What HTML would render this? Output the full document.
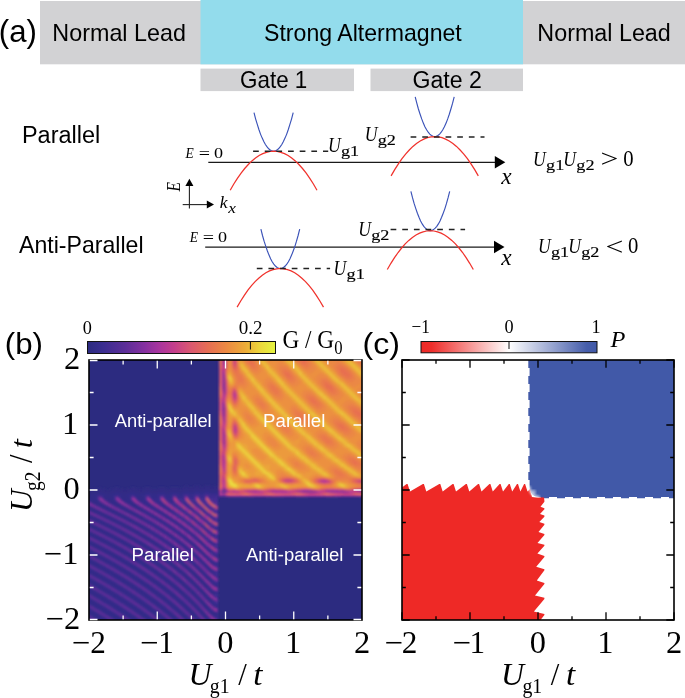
<!DOCTYPE html>
<html lang="en"><head><meta charset="utf-8"><title>Figure</title>
<style>html,body{margin:0;padding:0;background:#fff;overflow:hidden;}svg{display:block;position:absolute;left:0;top:0;}text{font-family:"Liberation Sans", Arial, sans-serif;fill:#000;}.s{font-family:"Liberation Serif", "Times New Roman", serif;}.i{font-style:italic;}.n{font-style:normal;}</style></head><body>
<svg width="685" height="698" viewBox="0 0 685 698">
<defs>
<linearGradient id="cbB" x1="0" x2="1" y1="0" y2="0"><stop offset="0" stop-color="#2C2B80"/><stop offset="0.08" stop-color="#3A2D90"/><stop offset="0.2" stop-color="#5C2E98"/><stop offset="0.3" stop-color="#8430A0"/><stop offset="0.38" stop-color="#A8359E"/><stop offset="0.46" stop-color="#C43E8C"/><stop offset="0.55" stop-color="#DA5870"/><stop offset="0.64" stop-color="#E66E54"/><stop offset="0.74" stop-color="#EC8A42"/><stop offset="0.84" stop-color="#ECAC38"/><stop offset="0.92" stop-color="#ECD83C"/><stop offset="1" stop-color="#E4F440"/></linearGradient>
<linearGradient id="cbC" x1="0" x2="1" y1="0" y2="0"><stop offset="0" stop-color="#EE2A27"/><stop offset="0.06" stop-color="#EE2E2B"/><stop offset="0.5" stop-color="#FFFFFF"/><stop offset="0.94" stop-color="#465EAB"/><stop offset="1" stop-color="#4159A8"/></linearGradient>
<filter id="bl" x="-5%" y="-5%" width="110%" height="110%"><feGaussianBlur stdDeviation="0.8"/></filter>
<clipPath id="clipB"><rect x="89" y="360" width="273" height="260"/></clipPath>
</defs>
<rect width="685" height="698" fill="#fff"/>
<rect x="40" y="1" width="645" height="63.3" fill="#D2D2D4"/>
<rect x="200.5" y="0" width="322.5" height="64.3" fill="#93DCEC"/>
<rect x="200.5" y="68.6" width="153.5" height="22.5" fill="#D2D2D4"/>
<rect x="370.5" y="68.6" width="152.5" height="22.5" fill="#D2D2D4"/>
<text font-size="30.5" transform="translate(-1.17091,41.6) scale(1.02235,1)">(a)</text>
<text font-size="23.2" transform="translate(52.3319,40.8) scale(1.00652,1)">Normal Lead</text>
<text font-size="23.2" transform="translate(264.045,40.8) scale(0.995943,1)">Strong Altermagnet</text>
<text font-size="23.2" transform="translate(537.335,40.8) scale(1.00497,1)">Normal Lead</text>
<text font-size="23" transform="translate(240.079,87.9) scale(0.974513,1)">Gate 1</text>
<text font-size="23" transform="translate(412.445,87.9) scale(1.0045,1)">Gate 2</text>
<text font-size="23.2" transform="translate(21.9216,142.5) scale(1.01205,1)">Parallel</text>
<text font-size="23.2" transform="translate(19,253.1) scale(0.996312,1)">Anti-Parallel</text>
<line x1="208.3" y1="162.3" x2="497.3" y2="162.3" stroke="#1a1a1a" stroke-width="1.25"/><polygon points="505.3,162.3 494.8,156 494.8,168.6" fill="#000"/>
<polyline points="254.0,112.6 255.6,118.8 257.3,124.4 258.9,129.5 260.5,134.1 262.2,138.1 263.8,141.6 265.4,144.5 267.1,146.9 268.7,148.8 270.3,150.1 272.0,150.9 273.6,151.2 275.2,150.9 276.9,150.1 278.5,148.8 280.1,146.9 281.8,144.5 283.4,141.6 285.0,138.1 286.7,134.1 288.3,129.5 289.9,124.4 291.6,118.8 293.2,112.6" fill="none" stroke="#3A52B8" stroke-width="1.15"/>
<polyline points="230.2,190.2 233.8,184.0 237.4,178.3 241.1,173.1 244.7,168.5 248.3,164.5 251.9,160.9 255.5,158.0 259.1,155.5 262.8,153.6 266.4,152.3 270.0,151.5 273.6,151.2 277.2,151.5 280.8,152.3 284.5,153.6 288.1,155.5 291.7,158.0 295.3,160.9 298.9,164.5 302.5,168.5 306.2,173.1 309.8,178.3 313.4,184.0 317.0,190.2" fill="none" stroke="#F0322C" stroke-width="1.25"/>
<line x1="253.1" y1="151.3" x2="328.2" y2="151.3" stroke="#222" stroke-width="1.5" stroke-dasharray="5.7,5.95"/>
<polyline points="415.2,96.9 416.8,103.2 418.4,109.0 420.1,114.2 421.7,118.9 423.3,123.1 424.9,126.7 426.6,129.7 428.2,132.2 429.8,134.1 431.4,135.5 433.1,136.3 434.7,136.6 436.3,136.3 437.9,135.5 439.6,134.1 441.2,132.2 442.8,129.7 444.4,126.7 446.1,123.1 447.7,118.9 449.3,114.2 450.9,109.0 452.6,103.2 454.2,96.9" fill="none" stroke="#3A52B8" stroke-width="1.15"/>
<polyline points="391.1,175.9 394.7,169.7 398.4,163.9 402.0,158.7 405.6,154.1 409.3,150.0 412.9,146.4 416.5,143.4 420.2,141.0 423.8,139.1 427.4,137.7 431.1,136.9 434.7,136.6 438.3,136.9 442.0,137.7 445.6,139.1 449.2,141.0 452.9,143.4 456.5,146.4 460.1,150.0 463.8,154.1 467.4,158.7 471.0,163.9 474.7,169.7 478.3,175.9" fill="none" stroke="#F0322C" stroke-width="1.25"/>
<line x1="410.6" y1="136.9" x2="484.5" y2="136.9" stroke="#222" stroke-width="1.5" stroke-dasharray="5.7,5.95"/>
<text class="s i" font-size="15" transform="translate(185.535,157.8) scale(0.9,1)">E</text><text class="s" font-size="17" transform="translate(198.7,158.7) scale(1.17647,1)">=</text><text class="s" font-size="15.5" transform="translate(213.876,157.8) scale(1.16743,1)">0</text>
<text class="s i" font-size="20.5" transform="translate(327.909,152.3) scale(0.862496,1)">U</text><text stroke="#000" stroke-width="0.14" class="s" font-size="14.8" transform="translate(340.971,156.3) scale(1.23123,1)">g1</text>
<text class="s i" font-size="20.5" transform="translate(364.709,140.5) scale(0.862496,1)">U</text><text stroke="#000" stroke-width="0.14" class="s" font-size="14.8" transform="translate(377.771,144.5) scale(1.23123,1)">g2</text>
<text class="s i" font-size="22.6" transform="translate(501.233,184.2) scale(1.03245,1)">x</text>
<text class="s i" font-size="20.5" transform="translate(533.009,165.7) scale(0.862496,1)">U</text><text stroke="#000" stroke-width="0.14" class="s" font-size="14.8" transform="translate(546.071,169.7) scale(1.23123,1)">g1</text><text class="s i" font-size="20.5" transform="translate(563.309,165.7) scale(0.862496,1)">U</text><text stroke="#000" stroke-width="0.14" class="s" font-size="14.8" transform="translate(576.371,169.7) scale(1.23123,1)">g2</text><text class="s" font-size="25.5" transform="translate(600.515,167.3) scale(1.24322,1)">&gt;</text><text class="s" font-size="22.4" transform="translate(623.171,165.7) scale(0.924745,1)">0</text>
<line x1="189.4" y1="208.5" x2="189.4" y2="185" stroke="#222" stroke-width="1.1"/><polygon points="189.4,178.8 185.4,186 193.4,186" fill="#000"/>
<line x1="182.7" y1="204.6" x2="207" y2="204.6" stroke="#222" stroke-width="1.1"/><polygon points="214,204.6 206.8,200.6 206.8,208.6" fill="#000"/>
<text class="s i" font-size="15.5" transform="translate(180.4,191.4) scale(1.18,1) rotate(-90)">E</text>
<text class="s i" font-size="17" transform="translate(219.67,208.4) scale(1.03967,1)">k</text><text class="s i" font-size="15" transform="translate(228.173,212.6) scale(1.15556,1)">x</text>
<line x1="205.2" y1="247.05" x2="496.5" y2="247.05" stroke="#1a1a1a" stroke-width="1.25"/><polygon points="504.5,247.05 494,240.75 494,253.35" fill="#000"/>
<polyline points="260.9,229.2 262.5,235.5 264.1,241.2 265.8,246.4 267.4,251.0 269.0,255.1 270.6,258.7 272.2,261.7 273.8,264.1 275.4,266.0 277.1,267.4 278.7,268.2 280.3,268.5 281.9,268.2 283.5,267.4 285.2,266.0 286.8,264.1 288.4,261.7 290.0,258.7 291.6,255.1 293.2,251.0 294.9,246.4 296.5,241.2 298.1,235.5 299.7,229.2" fill="none" stroke="#3A52B8" stroke-width="1.15"/>
<polyline points="237.1,307.1 240.7,301.0 244.3,295.3 247.9,290.2 251.5,285.7 255.1,281.6 258.7,278.2 262.3,275.2 265.9,272.8 269.5,270.9 273.1,269.6 276.7,268.8 280.3,268.5 283.9,268.8 287.5,269.6 291.1,270.9 294.7,272.8 298.3,275.2 301.9,278.2 305.5,281.6 309.1,285.7 312.7,290.2 316.3,295.3 319.9,301.0 323.5,307.1" fill="none" stroke="#F0322C" stroke-width="1.25"/>
<line x1="256.8" y1="268.6" x2="330.1" y2="268.6" stroke="#222" stroke-width="1.5" stroke-dasharray="5.7,5.95"/>
<polyline points="410.9,191.4 412.5,197.7 414.1,203.4 415.8,208.6 417.4,213.2 419.0,217.3 420.6,220.9 422.2,223.9 423.8,226.3 425.4,228.2 427.1,229.6 428.7,230.4 430.3,230.7 431.9,230.4 433.5,229.6 435.2,228.2 436.8,226.3 438.4,223.9 440.0,220.9 441.6,217.3 443.2,213.2 444.9,208.6 446.5,203.4 448.1,197.7 449.7,191.4" fill="none" stroke="#3A52B8" stroke-width="1.15"/>
<polyline points="387.3,269.5 390.9,263.3 394.5,257.7 398.1,252.5 401.6,248.0 405.2,243.9 408.8,240.4 412.4,237.4 416.0,235.0 419.6,233.1 423.1,231.8 426.7,231.0 430.3,230.7 433.9,231.0 437.5,231.8 441.1,233.1 444.6,235.0 448.2,237.4 451.8,240.4 455.4,243.9 459.0,248.0 462.6,252.5 466.1,257.7 469.7,263.3 473.3,269.5" fill="none" stroke="#F0322C" stroke-width="1.25"/>
<line x1="390.6" y1="229.4" x2="465.1" y2="229.4" stroke="#222" stroke-width="1.5" stroke-dasharray="5.7,5.95"/>
<text class="s i" font-size="15" transform="translate(189.635,242.4) scale(0.9,1)">E</text><text class="s" font-size="17" transform="translate(202.8,243.3) scale(1.17647,1)">=</text><text class="s" font-size="15.5" transform="translate(217.976,242.4) scale(1.16743,1)">0</text>
<text class="s i" font-size="20.5" transform="translate(333.509,274.9) scale(0.862496,1)">U</text><text stroke="#000" stroke-width="0.14" class="s" font-size="14.8" transform="translate(346.571,278.9) scale(1.23123,1)">g1</text>
<text class="s i" font-size="20.5" transform="translate(358.209,235.5) scale(0.862496,1)">U</text><text stroke="#000" stroke-width="0.14" class="s" font-size="14.8" transform="translate(371.271,239.5) scale(1.23123,1)">g2</text>
<text class="s i" font-size="22.6" transform="translate(501.233,265.1) scale(1.03245,1)">x</text>
<text class="s i" font-size="20.5" transform="translate(537.909,253.2) scale(0.862496,1)">U</text><text stroke="#000" stroke-width="0.14" class="s" font-size="14.8" transform="translate(550.971,257.2) scale(1.23123,1)">g1</text><text class="s i" font-size="20.5" transform="translate(568.209,253.2) scale(0.862496,1)">U</text><text stroke="#000" stroke-width="0.14" class="s" font-size="14.8" transform="translate(581.271,257.2) scale(1.23123,1)">g2</text><text class="s" font-size="25.5" transform="translate(605.415,254.8) scale(1.24322,1)">&lt;</text><text class="s" font-size="22.4" transform="translate(628.071,253.2) scale(0.924745,1)">0</text>
<text font-size="29.5" transform="translate(4.82364,353.7) scale(1.06009,1)">(b)</text>
<rect x="87.5" y="341.5" width="188" height="12" fill="url(#cbB)" stroke="#111" stroke-width="1"/>
<line x1="250.4" y1="342" x2="250.4" y2="349.5" stroke="#111" stroke-width="1"/>
<text class="s" font-size="18.8" transform="translate(82.641,334) scale(0.97,1)">0</text>
<text class="s" font-size="18.8" transform="translate(238.838,334) scale(1.01295,1)">0.2</text>
<text class="s" font-size="25.7" transform="translate(282.47,348.2) scale(0.904895,1)">G / G</text><text class="s" font-size="18.2" transform="translate(334.133,354) scale(0.915751,1)">0</text>
<rect x="89" y="360" width="273" height="260" fill="#2C2B80"/>
<rect x="220.04" y="360" width="141.96" height="135.2" fill="#EA8444"/>
<rect x="89" y="497.8" width="128.31" height="122.2" fill="#3C2D92"/>
<g clip-path="url(#clipB)"><g filter="url(#bl)" stroke-width="1.8" fill="none">
<path d="M185 486.75h3M194 486.75h6M204.5 486.75h6M213.5 486.75h3M99.5 488.25h1.5M114.5 488.25h4.5M131 488.25h4.5M144.5 488.25h6M158 488.25h7.5M170 488.25h9M182 488.25h36M93.5 489.75h12M110 489.75h13.5M126.5 489.75h13.5M141.5 489.75h64.5M207.5 489.75h10.5M89 491.25h96M188 491.25h6M200 491.25h3M210.5 491.25h3M216.5 491.25h3M89 492.75h9M102.5 492.75h12M119 492.75h10.5M135.5 492.75h9M150.5 492.75h7.5M165.5 492.75h4.5M179 492.75h3M218 492.75h1.5M89 494.25h3M107 494.25h3M123.5 494.25h1.5M218 494.25h1.5M218 495.75h1.5M89 497.25h7.5M104 497.25h9M120.5 497.25h9M137 497.25h7.5M216.5 606.75h1.5" stroke="#302C84"/>
<path d="M218 360.75h1.5M218 362.25h1.5M218 363.75h1.5M218 365.25h1.5M218 366.75h1.5M218 368.25h1.5M218 369.75h1.5M218 371.25h1.5M218 372.75h1.5M218 374.25h1.5M218 375.75h1.5M218 377.25h1.5M218 378.75h1.5M218 380.25h1.5M218 381.75h1.5M218 383.25h1.5M218 384.75h1.5M218 386.25h1.5M218 387.75h1.5M218 389.25h1.5M218 390.75h1.5M218 392.25h1.5M218 393.75h1.5M218 395.25h1.5M218 396.75h1.5M218 398.25h1.5M218 399.75h1.5M218 401.25h1.5M218 402.75h1.5M218 404.25h1.5M218 405.75h1.5M218 407.25h1.5M218 408.75h1.5M218 410.25h1.5M218 411.75h1.5M218 413.25h1.5M218 414.75h1.5M218 416.25h1.5M218 417.75h1.5M218 419.25h1.5M218 420.75h1.5M218 422.25h1.5M218 423.75h1.5M218 425.25h1.5M218 426.75h1.5M218 428.25h1.5M218 429.75h1.5M218 431.25h1.5M218 432.75h1.5M218 434.25h1.5M218 435.75h1.5M218 437.25h1.5M218 438.75h1.5M218 440.25h1.5M218 441.75h1.5M218 443.25h1.5M218 444.75h1.5M218 446.25h1.5M218 447.75h1.5M218 449.25h1.5M218 450.75h1.5M218 452.25h1.5M218 453.75h1.5M218 455.25h1.5M218 456.75h1.5M218 458.25h1.5M218 459.75h1.5M218 461.25h1.5M218 462.75h1.5M218 464.25h1.5M218 465.75h1.5M218 467.25h1.5M218 468.75h1.5M218 470.25h1.5M218 471.75h1.5M218 473.25h1.5M218 474.75h1.5M218 476.25h1.5M218 477.75h1.5M218 479.25h1.5M218 480.75h1.5M218 482.25h1.5M218 483.75h1.5M218 485.25h1.5M218 486.75h1.5M218 488.25h1.5M206 489.75h1.5M218 489.75h1.5M185 491.25h3M194 491.25h6M203 491.25h7.5M213.5 491.25h3M98 492.75h4.5M114.5 492.75h4.5M129.5 492.75h6M144.5 492.75h6M158 492.75h7.5M170 492.75h9M182 492.75h13.5M198.5 492.75h6M209 492.75h9M92 494.25h15M110 494.25h13.5M125 494.25h7.5M134 494.25h12M150.5 494.25h9M164 494.25h7.5M177.5 494.25h4.5M191 494.25h1.5M89 495.75h4.5M105.5 495.75h6M122 495.75h4.5M138.5 495.75h3M153.5 495.75h1.5M102.5 497.25h1.5M113 497.25h1.5M119 497.25h1.5M135.5 497.25h1.5M150.5 497.25h9M164 497.25h7.5M177.5 497.25h6M189.5 497.25h1.5M89 498.75h7.5M104 498.75h10.5M120.5 498.75h9M137 498.75h7.5M89 500.25h9M105.5 500.25h9M122 500.25h9M138.5 500.25h4.5M90.5 501.75h9M107 501.75h9M125 501.75h7.5M92 503.25h10.5M110 503.25h9M126.5 503.25h7.5M95 504.75h9M113 504.75h7.5M129.5 504.75h7.5M89 506.25h1.5M98 506.25h9M114.5 506.25h9M131 506.25h7.5M89 507.75h4.5M101 507.75h9M117.5 507.75h9M134 507.75h7.5M89 509.25h7.5M104 509.25h9M120.5 509.25h9M137 509.25h4.5M89 510.75h10.5M107 510.75h9M123.5 510.75h9M140 510.75h3M92 512.25h10.5M110 512.25h9M126.5 512.25h7.5M96.5 513.75h9M113 513.75h9M129.5 513.75h7.5M89 515.25h3M99.5 515.25h9M116 515.25h9M132.5 515.25h7.5M89 516.75h6M102.5 516.75h9M119 516.75h9M135.5 516.75h7.5M89 518.25h9M105.5 518.25h9M122 518.25h9M138.5 518.25h6M90.5 519.75h10.5M108.5 519.75h9M125 519.75h9M141.5 519.75h3M93.5 521.25h10.5M111.5 521.25h9M128 521.25h7.5M144.5 521.25h1.5M98 522.75h9M114.5 522.75h9M131 522.75h7.5M89 524.25h4.5M101 524.25h9M117.5 524.25h9M134 524.25h7.5M89 525.75h7.5M104 525.75h9M120.5 525.75h9M137 525.75h6M89 527.25h10.5M107 527.25h9M123.5 527.25h7.5M140 527.25h6M92 528.75h10.5M110 528.75h9M126.5 528.75h7.5M141.5 528.75h7.5M95 530.25h10.5M113 530.25h9M129.5 530.25h7.5M144.5 530.25h4.5M89 531.75h1.5M98 531.75h10.5M116 531.75h9M132.5 531.75h7.5M147.5 531.75h3M89 533.25h4.5M101 533.25h10.5M119 533.25h7.5M134 533.25h7.5M89 534.75h7.5M104 534.75h10.5M120.5 534.75h9M137 534.75h7.5M89 536.25h10.5M107 536.25h9M123.5 536.25h9M140 536.25h7.5M92 537.75h10.5M110 537.75h9M126.5 537.75h9M143 537.75h6M95 539.25h10.5M113 539.25h9M129.5 539.25h7.5M144.5 539.25h7.5M89 540.75h1.5M98 540.75h10.5M116 540.75h9M132.5 540.75h7.5M147.5 540.75h6M89 542.25h4.5M101 542.25h10.5M119 542.25h9M134 542.25h9M150.5 542.25h6M89 543.75h7.5M104 543.75h10.5M122 543.75h7.5M137 543.75h7.5M152 543.75h6M89 545.25h10.5M107 545.25h10.5M123.5 545.25h9M140 545.25h7.5M155 545.25h4.5M92 546.75h10.5M110 546.75h9M126.5 546.75h9M143 546.75h6M156.5 546.75h4.5M95 548.25h10.5M113 548.25h9M129.5 548.25h7.5M144.5 548.25h7.5M159.5 548.25h3M89 549.75h1.5M98 549.75h10.5M116 549.75h9M132.5 549.75h7.5M147.5 549.75h6M161 549.75h3M89 551.25h4.5M101 551.25h10.5M119 551.25h9M134 551.25h9M149 551.25h7.5M164 551.25h3M89 552.75h7.5M104 552.75h10.5M120.5 552.75h9M137 552.75h7.5M152 552.75h6M165.5 552.75h3M89 554.25h10.5M107 554.25h9M123.5 554.25h9M140 554.25h7.5M153.5 554.25h7.5M168.5 554.25h1.5M92 555.75h10.5M110 555.75h9M126.5 555.75h9M141.5 555.75h7.5M156.5 555.75h6M170 555.75h1.5M216.5 555.75h1.5M95 557.25h10.5M113 557.25h9M128 557.25h9M144.5 557.25h7.5M158 557.25h7.5M171.5 557.25h3M216.5 557.25h1.5M89 558.75h1.5M98 558.75h10.5M114.5 558.75h9M131 558.75h9M146 558.75h7.5M161 558.75h6M174.5 558.75h1.5M89 560.25h4.5M101 560.25h9M117.5 560.25h9M134 560.25h7.5M149 560.25h7.5M162.5 560.25h6M176 560.25h3M89 561.75h7.5M104 561.75h9M120.5 561.75h9M135.5 561.75h9M150.5 561.75h7.5M165.5 561.75h6M177.5 561.75h4.5M89 563.25h10.5M105.5 563.25h10.5M122 563.25h9M138.5 563.25h7.5M153.5 563.25h7.5M167 563.25h6M179 563.25h6M216.5 563.25h1.5M90.5 564.75h10.5M108.5 564.75h10.5M125 564.75h9M141.5 564.75h7.5M155 564.75h7.5M168.5 564.75h6M182 564.75h4.5M216.5 564.75h1.5M93.5 566.25h10.5M111.5 566.25h9M128 566.25h9M143 566.25h7.5M158 566.25h6M171.5 566.25h6M183.5 566.25h4.5M96.5 567.75h10.5M114.5 567.75h9M129.5 567.75h9M146 567.75h7.5M159.5 567.75h7.5M173 567.75h6M185 567.75h4.5M89 569.25h3M99.5 569.25h10.5M116 569.25h10.5M132.5 569.25h9M147.5 569.25h7.5M161 569.25h7.5M174.5 569.25h6M186.5 569.25h4.5M197 569.25h1.5M89 570.75h6M102.5 570.75h9M119 570.75h9M135.5 570.75h7.5M150.5 570.75h7.5M164 570.75h6M176 570.75h6M188 570.75h4.5M198.5 570.75h4.5M209 570.75h4.5M89 572.25h9M104 572.25h10.5M122 572.25h9M137 572.25h9M152 572.25h7.5M165.5 572.25h7.5M179 572.25h4.5M189.5 572.25h6M200 572.25h4.5M89 573.75h10.5M107 573.75h10.5M123.5 573.75h9M140 573.75h7.5M153.5 573.75h7.5M167 573.75h7.5M180.5 573.75h6M191 573.75h6M92 575.25h10.5M110 575.25h9M126.5 575.25h9M141.5 575.25h9M156.5 575.25h7.5M170 575.25h6M182 575.25h6M192.5 575.25h6M95 576.75h10.5M113 576.75h9M129.5 576.75h7.5M144.5 576.75h7.5M158 576.75h7.5M171.5 576.75h6M183.5 576.75h6M194 576.75h6M204.5 576.75h4.5M216.5 576.75h1.5M89 578.25h1.5M98 578.25h10.5M114.5 578.25h10.5M131 578.25h9M146 578.25h9M161 578.25h6M173 578.25h7.5M185 578.25h6M195.5 578.25h6M206 578.25h4.5M89 579.75h4.5M101 579.75h9M117.5 579.75h9M134 579.75h7.5M149 579.75h7.5M162.5 579.75h7.5M176 579.75h6M186.5 579.75h6M197 579.75h6M89 581.25h7.5M102.5 581.25h10.5M120.5 581.25h9M135.5 581.25h9M150.5 581.25h7.5M164 581.25h7.5M177.5 581.25h6M188 581.25h6M200 581.25h3M89 582.75h9M105.5 582.75h10.5M122 582.75h9M138.5 582.75h7.5M152 582.75h9M167 582.75h6M179 582.75h6M191 582.75h4.5M200 582.75h4.5M90.5 584.25h10.5M108.5 584.25h9M125 584.25h9M140 584.25h9M155 584.25h7.5M168.5 584.25h6M180.5 584.25h6M192.5 584.25h4.5M201.5 584.25h6M212 584.25h6M93.5 585.75h10.5M110 585.75h10.5M126.5 585.75h9M143 585.75h7.5M156.5 585.75h7.5M170 585.75h7.5M182 585.75h6M194 585.75h4.5M203 585.75h6M215 585.75h3M96.5 587.25h9M113 587.25h10.5M129.5 587.25h9M144.5 587.25h9M159.5 587.25h7.5M171.5 587.25h7.5M183.5 587.25h6M195.5 587.25h4.5M204.5 587.25h3M89 588.75h3M98 588.75h10.5M116 588.75h9M131 588.75h9M147.5 588.75h7.5M161 588.75h7.5M174.5 588.75h6M185 588.75h6M197 588.75h4.5M89 590.25h4.5M101 590.25h10.5M117.5 590.25h10.5M134 590.25h9M149 590.25h7.5M162.5 590.25h7.5M176 590.25h6M188 590.25h4.5M198.5 590.25h4.5M207.5 590.25h3M89 591.75h7.5M104 591.75h9M120.5 591.75h9M137 591.75h7.5M150.5 591.75h9M165.5 591.75h6M177.5 591.75h6M189.5 591.75h4.5M200 591.75h4.5M209 591.75h7.5M89 593.25h10.5M105.5 593.25h10.5M123.5 593.25h9M138.5 593.25h9M153.5 593.25h7.5M167 593.25h7.5M179 593.25h6M191 593.25h4.5M201.5 593.25h4.5M210.5 593.25h7.5M90.5 594.75h10.5M108.5 594.75h10.5M125 594.75h9M140 594.75h9M155 594.75h7.5M168.5 594.75h7.5M180.5 594.75h6M192.5 594.75h4.5M203 594.75h4.5M93.5 596.25h10.5M111.5 596.25h9M128 596.25h9M143 596.25h7.5M156.5 596.25h9M170 596.25h7.5M182 596.25h6M194 596.25h4.5M204.5 596.25h3M96.5 597.75h10.5M113 597.75h10.5M129.5 597.75h9M144.5 597.75h9M159.5 597.75h7.5M171.5 597.75h7.5M183.5 597.75h7.5M195.5 597.75h4.5M204.5 597.75h6M89 599.25h3M99.5 599.25h9M116 599.25h9M132.5 599.25h9M147.5 599.25h7.5M161 599.25h7.5M174.5 599.25h6M186.5 599.25h6M197 599.25h4.5M206 599.25h6M89 600.75h6M101 600.75h10.5M119 600.75h9M134 600.75h9M149 600.75h9M162.5 600.75h7.5M176 600.75h6M188 600.75h6M198.5 600.75h4.5M207.5 600.75h6M89 602.25h7.5M104 602.25h10.5M120.5 602.25h9M137 602.25h7.5M150.5 602.25h9M165.5 602.25h6M177.5 602.25h6M189.5 602.25h6M200 602.25h4.5M89 603.75h10.5M107 603.75h9M123.5 603.75h9M138.5 603.75h9M153.5 603.75h7.5M167 603.75h7.5M179 603.75h6M191 603.75h6M201.5 603.75h4.5M90.5 605.25h12M108.5 605.25h10.5M125 605.25h9M140 605.25h9M155 605.25h7.5M168.5 605.25h7.5M180.5 605.25h7.5M192.5 605.25h6M201.5 605.25h6M212 605.25h6M93.5 606.75h10.5M111.5 606.75h9M128 606.75h9M143 606.75h9M156.5 606.75h9M170 606.75h7.5M182 606.75h7.5M194 606.75h6M203 606.75h6M215 606.75h1.5M96.5 608.25h10.5M113 608.25h10.5M129.5 608.25h9M144.5 608.25h9M159.5 608.25h7.5M171.5 608.25h7.5M183.5 608.25h7.5M195.5 608.25h4.5M204.5 608.25h6M89 609.75h3M99.5 609.75h9M116 609.75h9M132.5 609.75h9M147.5 609.75h7.5M161 609.75h7.5M174.5 609.75h6M185 609.75h7.5M197 609.75h4.5M206 609.75h1.5M89 611.25h6M101 611.25h10.5M117.5 611.25h10.5M134 611.25h9M149 611.25h9M162.5 611.25h7.5M176 611.25h6M188 611.25h6M198.5 611.25h4.5M207.5 611.25h3M89 612.75h7.5M104 612.75h10.5M120.5 612.75h9M137 612.75h7.5M150.5 612.75h9M165.5 612.75h6M177.5 612.75h6M189.5 612.75h6M200 612.75h4.5M209 612.75h9M89 614.25h10.5M105.5 614.25h10.5M123.5 614.25h9M138.5 614.25h9M153.5 614.25h7.5M167 614.25h7.5M179 614.25h6M191 614.25h6M200 614.25h6M210.5 614.25h7.5M90.5 615.75h10.5M108.5 615.75h10.5M125 615.75h9M140 615.75h9M155 615.75h7.5M168.5 615.75h7.5M180.5 615.75h7.5M192.5 615.75h4.5M201.5 615.75h6M93.5 617.25h10.5M111.5 617.25h9M126.5 617.25h10.5M143 617.25h7.5M156.5 617.25h9M170 617.25h7.5M182 617.25h7.5M194 617.25h4.5M203 617.25h6M96.5 618.75h10.5M113 618.75h10.5M129.5 618.75h9M144.5 618.75h9M159.5 618.75h7.5M171.5 618.75h7.5M183.5 618.75h7.5M195.5 618.75h4.5M204.5 618.75h6M89 620.25h3M98 620.25h10.5M116 620.25h9M131 620.25h9M146 620.25h9M161 620.25h7.5M173 620.25h7.5M185 620.25h7.5M195.5 620.25h6M206 620.25h6" stroke="#332C88"/>
<path d="M195.5 492.75h3M204.5 492.75h4.5M132.5 494.25h1.5M146 494.25h4.5M159.5 494.25h4.5M171.5 494.25h6M182 494.25h3M188 494.25h3M192.5 494.25h3M198.5 494.25h6M210.5 494.25h7.5M93.5 495.75h12M111.5 495.75h4.5M117.5 495.75h4.5M126.5 495.75h4.5M134 495.75h4.5M141.5 495.75h3M150.5 495.75h3M155 495.75h3M165.5 495.75h6M179 495.75h3M191 495.75h1.5M129.5 497.25h1.5M144.5 497.25h1.5M171.5 497.25h1.5M176 497.25h1.5M188 497.25h1.5M191 497.25h3M198.5 497.25h6M96.5 498.75h1.5M129.5 498.75h1.5M144.5 498.75h1.5M152 498.75h7.5M165.5 498.75h6M114.5 500.25h1.5M143 500.25h3M152 500.25h7.5M167 500.25h6M89 501.75h1.5M99.5 501.75h1.5M116 501.75h1.5M123.5 501.75h1.5M140 501.75h7.5M153.5 501.75h7.5M168.5 501.75h4.5M134 503.25h1.5M141.5 503.25h9M156.5 503.25h6M170 503.25h1.5M104 504.75h1.5M111.5 504.75h1.5M120.5 504.75h1.5M128 504.75h1.5M143 504.75h9M158 504.75h7.5M107 506.25h1.5M123.5 506.25h1.5M138.5 506.25h1.5M146 506.25h7.5M161 506.25h6M110 507.75h1.5M141.5 507.75h1.5M149 507.75h7.5M162.5 507.75h6M113 509.25h1.5M135.5 509.25h1.5M141.5 509.25h3M150.5 509.25h9M165.5 509.25h6M116 510.75h1.5M138.5 510.75h1.5M143 510.75h4.5M153.5 510.75h7.5M167 510.75h6M119 512.25h1.5M134 512.25h1.5M141.5 512.25h9M156.5 512.25h7.5M170 512.25h4.5M95 513.75h1.5M137 513.75h1.5M144.5 513.75h7.5M158 513.75h7.5M173 513.75h1.5M98 515.25h1.5M108.5 515.25h1.5M131 515.25h1.5M140 515.25h1.5M147.5 515.25h7.5M161 515.25h7.5M174.5 515.25h1.5M101 516.75h1.5M111.5 516.75h1.5M134 516.75h1.5M149 516.75h9M164 516.75h6M104 518.25h1.5M114.5 518.25h1.5M137 518.25h1.5M144.5 518.25h1.5M152 518.25h7.5M165.5 518.25h7.5M117.5 519.75h1.5M140 519.75h1.5M144.5 519.75h4.5M155 519.75h7.5M168.5 519.75h6M120.5 521.25h1.5M135.5 521.25h1.5M143 521.25h1.5M146 521.25h6M158 521.25h7.5M171.5 521.25h6M89 522.75h1.5M96.5 522.75h1.5M129.5 522.75h1.5M138.5 522.75h1.5M146 522.75h7.5M159.5 522.75h7.5M173 522.75h6M99.5 524.25h1.5M132.5 524.25h1.5M147.5 524.25h9M162.5 524.25h7.5M176 524.25h4.5M102.5 525.75h1.5M135.5 525.75h1.5M143 525.75h1.5M150.5 525.75h7.5M164 525.75h7.5M177.5 525.75h4.5M105.5 527.25h1.5M122 527.25h1.5M131 527.25h1.5M138.5 527.25h1.5M146 527.25h1.5M153.5 527.25h7.5M167 527.25h6M180.5 527.25h4.5M108.5 528.75h1.5M125 528.75h1.5M134 528.75h1.5M149 528.75h1.5M155 528.75h9M168.5 528.75h7.5M182 528.75h4.5M216.5 528.75h1.5M111.5 530.25h1.5M128 530.25h1.5M137 530.25h1.5M143 530.25h1.5M149 530.25h3M158 530.25h7.5M171.5 530.25h6M183.5 530.25h4.5M90.5 531.75h1.5M114.5 531.75h1.5M131 531.75h1.5M146 531.75h1.5M150.5 531.75h4.5M161 531.75h7.5M173 531.75h7.5M186.5 531.75h3M93.5 533.25h1.5M117.5 533.25h1.5M126.5 533.25h1.5M141.5 533.25h1.5M149 533.25h7.5M162.5 533.25h7.5M176 533.25h6M188 533.25h3M96.5 534.75h1.5M129.5 534.75h1.5M144.5 534.75h1.5M152 534.75h7.5M165.5 534.75h7.5M177.5 534.75h6M189.5 534.75h4.5M99.5 536.25h1.5M116 536.25h1.5M138.5 536.25h1.5M153.5 536.25h7.5M167 536.25h7.5M180.5 536.25h6M191 536.25h4.5M216.5 536.25h1.5M102.5 537.75h1.5M119 537.75h1.5M141.5 537.75h1.5M149 537.75h1.5M156.5 537.75h7.5M170 537.75h6M182 537.75h6M194 537.75h3M105.5 539.25h1.5M122 539.25h1.5M128 539.25h1.5M137 539.25h1.5M152 539.25h1.5M158 539.25h7.5M171.5 539.25h7.5M183.5 539.25h6M195.5 539.25h3M90.5 540.75h1.5M114.5 540.75h1.5M131 540.75h1.5M140 540.75h1.5M146 540.75h1.5M153.5 540.75h1.5M161 540.75h7.5M174.5 540.75h6M185 540.75h6M197 540.75h4.5M93.5 542.25h1.5M117.5 542.25h1.5M149 542.25h1.5M156.5 542.25h1.5M162.5 542.25h7.5M176 542.25h6M188 542.25h4.5M198.5 542.25h4.5M209 542.25h4.5M96.5 543.75h1.5M120.5 543.75h1.5M129.5 543.75h1.5M144.5 543.75h1.5M158 543.75h1.5M165.5 543.75h7.5M177.5 543.75h7.5M189.5 543.75h6M200 543.75h4.5M216.5 543.75h1.5M99.5 545.25h1.5M132.5 545.25h1.5M138.5 545.25h1.5M153.5 545.25h1.5M159.5 545.25h3M167 545.25h7.5M180.5 545.25h6M191 545.25h6M201.5 545.25h3M102.5 546.75h1.5M119 546.75h1.5M141.5 546.75h1.5M149 546.75h1.5M161 546.75h3M170 546.75h6M182 546.75h6M192.5 546.75h6M203 546.75h3M105.5 548.25h1.5M122 548.25h1.5M128 548.25h1.5M137 548.25h1.5M152 548.25h1.5M158 548.25h1.5M162.5 548.25h3M171.5 548.25h7.5M183.5 548.25h6M194 548.25h6M204.5 548.25h4.5M216.5 548.25h1.5M90.5 549.75h1.5M114.5 549.75h1.5M131 549.75h1.5M140 549.75h1.5M146 549.75h1.5M153.5 549.75h1.5M164 549.75h4.5M173 549.75h7.5M185 549.75h6M197 549.75h4.5M206 549.75h6M93.5 551.25h1.5M117.5 551.25h1.5M156.5 551.25h1.5M162.5 551.25h1.5M167 551.25h3M176 551.25h6M188 551.25h6M198.5 551.25h4.5M207.5 551.25h6M96.5 552.75h1.5M129.5 552.75h1.5M135.5 552.75h1.5M144.5 552.75h1.5M150.5 552.75h1.5M158 552.75h1.5M168.5 552.75h4.5M177.5 552.75h6M189.5 552.75h6M200 552.75h4.5M105.5 554.25h1.5M116 554.25h1.5M138.5 554.25h1.5M167 554.25h1.5M170 554.25h4.5M179 554.25h7.5M191 554.25h6M201.5 554.25h4.5M108.5 555.75h1.5M125 555.75h1.5M149 555.75h1.5M155 555.75h1.5M162.5 555.75h1.5M168.5 555.75h1.5M171.5 555.75h4.5M182 555.75h6M192.5 555.75h6M203 555.75h4.5M213.5 555.75h3M111.5 557.25h1.5M137 557.25h1.5M143 557.25h1.5M174.5 557.25h4.5M183.5 557.25h6M194 557.25h6M204.5 557.25h4.5M215 557.25h1.5M96.5 558.75h1.5M123.5 558.75h1.5M153.5 558.75h1.5M159.5 558.75h1.5M167 558.75h1.5M173 558.75h1.5M176 558.75h4.5M185 558.75h6M195.5 558.75h6M206 558.75h4.5M99.5 560.25h1.5M110 560.25h1.5M126.5 560.25h1.5M132.5 560.25h1.5M141.5 560.25h1.5M147.5 560.25h1.5M168.5 560.25h1.5M174.5 560.25h1.5M179 560.25h3M186.5 560.25h6M197 560.25h6M207.5 560.25h1.5M102.5 561.75h1.5M119 561.75h1.5M158 561.75h1.5M164 561.75h1.5M182 561.75h1.5M188 561.75h6M198.5 561.75h6M209 561.75h4.5M131 563.25h1.5M146 563.25h1.5M152 563.25h1.5M165.5 563.25h1.5M173 563.25h1.5M189.5 563.25h6M200 563.25h6M210.5 563.25h6M101 564.75h1.5M140 564.75h1.5M174.5 564.75h1.5M180.5 564.75h1.5M186.5 564.75h1.5M192.5 564.75h6M201.5 564.75h6M212 564.75h4.5M104 566.25h1.5M110 566.25h1.5M120.5 566.25h1.5M126.5 566.25h1.5M150.5 566.25h1.5M156.5 566.25h1.5M164 566.25h1.5M170 566.25h1.5M182 566.25h1.5M188 566.25h1.5M194 566.25h6M203 566.25h6M89 567.75h1.5M113 567.75h1.5M138.5 567.75h1.5M144.5 567.75h1.5M171.5 567.75h1.5M183.5 567.75h1.5M189.5 567.75h1.5M195.5 567.75h6M204.5 567.75h6M98 569.25h1.5M155 569.25h1.5M180.5 569.25h1.5M191 569.25h1.5M198.5 569.25h4.5M206 569.25h6M101 570.75h1.5M111.5 570.75h1.5M128 570.75h1.5M134 570.75h1.5M143 570.75h1.5M149 570.75h1.5M162.5 570.75h1.5M170 570.75h1.5M182 570.75h1.5M192.5 570.75h1.5M203 570.75h1.5M207.5 570.75h1.5M213.5 570.75h1.5M120.5 572.25h1.5M177.5 572.25h1.5M183.5 572.25h1.5M204.5 572.25h1.5M209 572.25h9M99.5 573.75h1.5M132.5 573.75h1.5M138.5 573.75h1.5M147.5 573.75h1.5M161 573.75h1.5M179 573.75h1.5M201.5 573.75h6M102.5 575.25h1.5M119 575.25h1.5M155 575.25h1.5M168.5 575.25h1.5M176 575.25h1.5M203 575.25h6M111.5 576.75h1.5M128 576.75h1.5M137 576.75h1.5M143 576.75h1.5M177.5 576.75h1.5M209 576.75h1.5M215 576.75h1.5M96.5 578.25h1.5M159.5 578.25h1.5M167 578.25h1.5M210.5 578.25h1.5M99.5 579.75h1.5M110 579.75h1.5M126.5 579.75h1.5M132.5 579.75h1.5M141.5 579.75h1.5M147.5 579.75h1.5M174.5 579.75h1.5M207.5 579.75h6M119 581.25h1.5M158 581.25h1.5M176 581.25h1.5M198.5 581.25h1.5M203 581.25h1.5M209 581.25h3M98 582.75h1.5M131 582.75h1.5M137 582.75h1.5M146 582.75h1.5M165.5 582.75h1.5M173 582.75h1.5M189.5 582.75h1.5M204.5 582.75h1.5M210.5 582.75h4.5M107 584.25h1.5M117.5 584.25h1.5M123.5 584.25h1.5M167 584.25h1.5M174.5 584.25h1.5M191 584.25h1.5M92 585.75h1.5M135.5 585.75h1.5M141.5 585.75h1.5M150.5 585.75h1.5M164 585.75h1.5M188 585.75h1.5M192.5 585.75h1.5M213.5 585.75h1.5M95 587.25h1.5M105.5 587.25h1.5M158 587.25h1.5M189.5 587.25h1.5M194 587.25h1.5M207.5 587.25h3M108.5 588.75h1.5M114.5 588.75h1.5M140 588.75h1.5M146 588.75h1.5M173 588.75h1.5M191 588.75h1.5M195.5 588.75h1.5M206 588.75h6M93.5 590.25h1.5M156.5 590.25h1.5M174.5 590.25h1.5M186.5 590.25h1.5M192.5 590.25h1.5M197 590.25h1.5M210.5 590.25h3M102.5 591.75h1.5M113 591.75h1.5M129.5 591.75h1.5M135.5 591.75h1.5M144.5 591.75h1.5M164 591.75h1.5M171.5 591.75h1.5M183.5 591.75h1.5M188 591.75h1.5M194 591.75h1.5M198.5 591.75h1.5M216.5 591.75h1.5M122 593.25h1.5M152 593.25h1.5M165.5 593.25h1.5M185 593.25h1.5M189.5 593.25h1.5M195.5 593.25h1.5M200 593.25h1.5M101 594.75h1.5M134 594.75h1.5M162.5 594.75h1.5M186.5 594.75h1.5M191 594.75h1.5M197 594.75h1.5M201.5 594.75h1.5M212 594.75h1.5M110 596.25h1.5M120.5 596.25h1.5M126.5 596.25h1.5M150.5 596.25h1.5M188 596.25h1.5M192.5 596.25h1.5M198.5 596.25h1.5M203 596.25h1.5M207.5 596.25h1.5M95 597.75h1.5M138.5 597.75h1.5M158 597.75h1.5M194 597.75h1.5M200 597.75h1.5M216.5 597.75h1.5M98 599.25h1.5M108.5 599.25h1.5M125 599.25h1.5M131 599.25h1.5M146 599.25h1.5M155 599.25h1.5M173 599.25h1.5M185 599.25h1.5M195.5 599.25h1.5M201.5 599.25h1.5M117.5 600.75h1.5M170 600.75h1.5M182 600.75h1.5M186.5 600.75h1.5M197 600.75h1.5M203 600.75h1.5M213.5 600.75h1.5M96.5 602.25h1.5M102.5 602.25h1.5M129.5 602.25h1.5M135.5 602.25h1.5M144.5 602.25h1.5M164 602.25h1.5M171.5 602.25h1.5M183.5 602.25h1.5M188 602.25h1.5M198.5 602.25h1.5M209 602.25h4.5M105.5 603.75h1.5M116 603.75h1.5M122 603.75h1.5M152 603.75h1.5M185 603.75h1.5M189.5 603.75h1.5M200 603.75h1.5M210.5 603.75h4.5M134 605.25h1.5M149 605.25h1.5M162.5 605.25h1.5M191 605.25h1.5M104 606.75h1.5M110 606.75h1.5M120.5 606.75h1.5M126.5 606.75h1.5M192.5 606.75h1.5M213.5 606.75h1.5M89 608.25h1.5M95 608.25h1.5M138.5 608.25h1.5M158 608.25h1.5M194 608.25h1.5M200 608.25h1.5M216.5 608.25h1.5M98 609.75h1.5M108.5 609.75h1.5M125 609.75h1.5M131 609.75h1.5M146 609.75h1.5M155 609.75h1.5M173 609.75h1.5M180.5 609.75h1.5M195.5 609.75h1.5M201.5 609.75h1.5M207.5 609.75h4.5M170 611.25h1.5M174.5 611.25h1.5M182 611.25h1.5M186.5 611.25h1.5M197 611.25h1.5M203 611.25h1.5M210.5 611.25h3M96.5 612.75h1.5M102.5 612.75h1.5M129.5 612.75h1.5M135.5 612.75h1.5M144.5 612.75h1.5M164 612.75h1.5M171.5 612.75h1.5M183.5 612.75h1.5M188 612.75h1.5M198.5 612.75h1.5M116 614.25h1.5M122 614.25h1.5M152 614.25h1.5M165.5 614.25h1.5M185 614.25h1.5M189.5 614.25h1.5M101 615.75h1.5M134 615.75h1.5M162.5 615.75h1.5M191 615.75h1.5M197 615.75h1.5M212 615.75h6M110 617.25h1.5M120.5 617.25h1.5M141.5 617.25h1.5M150.5 617.25h1.5M192.5 617.25h1.5M198.5 617.25h1.5M95 618.75h1.5M158 618.75h1.5M194 618.75h1.5M200 618.75h1.5M216.5 618.75h1.5M108.5 620.25h1.5M114.5 620.25h1.5M125 620.25h1.5M140 620.25h1.5M201.5 620.25h1.5" stroke="#362C8C"/>
<path d="M185 494.25h3M195.5 494.25h3M204.5 494.25h1.5M207.5 494.25h3M116 495.75h1.5M131 495.75h3M144.5 495.75h6M158 495.75h7.5M171.5 495.75h1.5M176 495.75h3M182 495.75h1.5M188 495.75h3M192.5 495.75h1.5M200 495.75h3M210.5 495.75h1.5M216.5 495.75h1.5M96.5 497.25h1.5M183.5 497.25h1.5M194 497.25h1.5M209 497.25h4.5M135.5 498.75h1.5M150.5 498.75h1.5M171.5 498.75h1.5M177.5 498.75h6M189.5 498.75h4.5M98 500.25h1.5M131 500.25h1.5M137 500.25h1.5M159.5 500.25h1.5M165.5 500.25h1.5M179 500.25h6M132.5 501.75h1.5M138.5 501.75h1.5M147.5 501.75h1.5M161 501.75h1.5M167 501.75h1.5M173 501.75h1.5M180.5 501.75h6M108.5 503.25h1.5M119 503.25h1.5M125 503.25h1.5M155 503.25h1.5M162.5 503.25h1.5M168.5 503.25h1.5M171.5 503.25h4.5M182 503.25h4.5M93.5 504.75h1.5M137 504.75h1.5M171.5 504.75h6M183.5 504.75h4.5M96.5 506.25h1.5M153.5 506.25h1.5M159.5 506.25h1.5M167 506.25h1.5M173 506.25h7.5M185 506.25h4.5M99.5 507.75h1.5M126.5 507.75h1.5M132.5 507.75h1.5M147.5 507.75h1.5M168.5 507.75h1.5M174.5 507.75h7.5M188 507.75h3M102.5 509.25h1.5M129.5 509.25h1.5M144.5 509.25h1.5M164 509.25h1.5M177.5 509.25h6M189.5 509.25h3M99.5 510.75h1.5M105.5 510.75h1.5M122 510.75h1.5M173 510.75h1.5M179 510.75h6M191 510.75h1.5M102.5 512.25h1.5M108.5 512.25h1.5M125 512.25h1.5M155 512.25h1.5M168.5 512.25h1.5M174.5 512.25h1.5M182 512.25h6M105.5 513.75h1.5M111.5 513.75h1.5M122 513.75h1.5M128 513.75h1.5M152 513.75h1.5M165.5 513.75h1.5M171.5 513.75h1.5M174.5 513.75h4.5M183.5 513.75h6M216.5 513.75h1.5M114.5 515.25h1.5M125 515.25h1.5M146 515.25h1.5M176 515.25h4.5M186.5 515.25h4.5M117.5 516.75h1.5M128 516.75h1.5M143 516.75h1.5M162.5 516.75h1.5M170 516.75h1.5M176 516.75h7.5M188 516.75h6M98 518.25h1.5M120.5 518.25h1.5M159.5 518.25h1.5M179 518.25h6M189.5 518.25h6M101 519.75h1.5M107 519.75h1.5M123.5 519.75h1.5M174.5 519.75h1.5M180.5 519.75h6M192.5 519.75h4.5M216.5 519.75h1.5M104 521.25h1.5M110 521.25h1.5M126.5 521.25h1.5M156.5 521.25h1.5M170 521.25h1.5M182 521.25h7.5M194 521.25h4.5M216.5 521.25h1.5M107 522.75h1.5M113 522.75h1.5M123.5 522.75h1.5M144.5 522.75h1.5M153.5 522.75h1.5M185 522.75h6M195.5 522.75h4.5M110 524.25h1.5M116 524.25h1.5M126.5 524.25h1.5M141.5 524.25h1.5M174.5 524.25h1.5M180.5 524.25h1.5M186.5 524.25h6M197 524.25h6M113 525.75h1.5M119 525.75h1.5M158 525.75h1.5M182 525.75h1.5M188 525.75h6M200 525.75h4.5M116 527.25h1.5M173 527.25h1.5M179 527.25h1.5M185 527.25h1.5M191 527.25h6M201.5 527.25h4.5M212 527.25h6M90.5 528.75h1.5M119 528.75h1.5M140 528.75h1.5M180.5 528.75h1.5M186.5 528.75h1.5M192.5 528.75h6M203 528.75h4.5M213.5 528.75h3M93.5 530.25h1.5M177.5 530.25h1.5M188 530.25h1.5M194 530.25h6M204.5 530.25h4.5M216.5 530.25h1.5M96.5 531.75h1.5M140 531.75h1.5M159.5 531.75h1.5M185 531.75h1.5M189.5 531.75h1.5M195.5 531.75h6M206 531.75h1.5M156.5 533.25h1.5M186.5 533.25h1.5M191 533.25h3M198.5 533.25h4.5M207.5 533.25h3M135.5 534.75h1.5M150.5 534.75h1.5M164 534.75h1.5M183.5 534.75h1.5M194 534.75h1.5M200 534.75h4.5M209 534.75h9M105.5 536.25h1.5M132.5 536.25h1.5M147.5 536.25h1.5M161 536.25h1.5M179 536.25h1.5M195.5 536.25h1.5M201.5 536.25h4.5M212 536.25h4.5M108.5 537.75h1.5M125 537.75h1.5M155 537.75h1.5M168.5 537.75h1.5M176 537.75h1.5M192.5 537.75h1.5M197 537.75h1.5M203 537.75h4.5M111.5 539.25h1.5M143 539.25h1.5M165.5 539.25h1.5M194 539.25h1.5M198.5 539.25h1.5M204.5 539.25h4.5M108.5 540.75h1.5M125 540.75h1.5M173 540.75h1.5M191 540.75h1.5M195.5 540.75h1.5M206 540.75h6M111.5 542.25h1.5M170 542.25h1.5M182 542.25h1.5M186.5 542.25h1.5M192.5 542.25h1.5M207.5 542.25h1.5M135.5 543.75h1.5M150.5 543.75h1.5M209 543.75h7.5M147.5 545.25h1.5M179 545.25h1.5M204.5 545.25h3M108.5 546.75h1.5M125 546.75h1.5M155 546.75h1.5M168.5 546.75h1.5M176 546.75h1.5M206 546.75h3M111.5 548.25h1.5M143 548.25h1.5M165.5 548.25h1.5M209 548.25h1.5M108.5 549.75h1.5M125 549.75h1.5M159.5 549.75h1.5M191 549.75h1.5M195.5 549.75h1.5M170 551.25h1.5M174.5 551.25h1.5M186.5 551.25h1.5M197 551.25h1.5M102.5 552.75h1.5M164 552.75h1.5M183.5 552.75h1.5M188 552.75h1.5M198.5 552.75h1.5M209 552.75h4.5M99.5 554.25h1.5M122 554.25h1.5M132.5 554.25h1.5M161 554.25h1.5M210.5 554.25h4.5M216.5 554.25h1.5M90.5 555.75h1.5M102.5 555.75h1.5M119 555.75h1.5M140 555.75h1.5M180.5 555.75h1.5M207.5 555.75h1.5M212 555.75h1.5M93.5 557.25h1.5M152 557.25h1.5M170 557.25h1.5M209 557.25h1.5M90.5 558.75h1.5M129.5 558.75h1.5M210.5 558.75h1.5M93.5 560.25h1.5M116 560.25h1.5M161 560.25h1.5M192.5 560.25h1.5M209 560.25h4.5M113 561.75h1.5M144.5 561.75h1.5M171.5 561.75h1.5M176 561.75h1.5M194 561.75h1.5M213.5 561.75h3M137 563.25h1.5M185 563.25h1.5M195.5 563.25h1.5M107 564.75h1.5M123.5 564.75h1.5M134 564.75h1.5M149 564.75h1.5M162.5 564.75h1.5M191 564.75h1.5M141.5 566.25h1.5M192.5 566.25h1.5M215 566.25h3M95 567.75h1.5M107 567.75h1.5M123.5 567.75h1.5M158 567.75h1.5M179 567.75h1.5M194 567.75h1.5M92 569.25h1.5M131 569.25h1.5M146 569.25h1.5M168.5 569.25h1.5M173 569.25h1.5M185 569.25h1.5M212 569.25h1.5M95 570.75h1.5M117.5 570.75h1.5M114.5 572.25h1.5M150.5 572.25h1.5M159.5 572.25h1.5M210.5 573.75h4.5M216.5 573.75h1.5M108.5 575.25h1.5M125 575.25h1.5M180.5 575.25h1.5M213.5 575.25h4.5M93.5 576.75h1.5M105.5 576.75h1.5M122 576.75h1.5M152 576.75h1.5M165.5 576.75h1.5M170 576.75h1.5M90.5 578.25h1.5M129.5 578.25h1.5M140 578.25h1.5M191 578.25h1.5M93.5 579.75h1.5M116 579.75h1.5M161 579.75h1.5M192.5 579.75h1.5M113 581.25h1.5M149 581.25h1.5M171.5 581.25h1.5M194 581.25h1.5M212 581.25h3M104 582.75h1.5M177.5 582.75h1.5M185 582.75h1.5M195.5 582.75h1.5M215 582.75h3M89 584.25h1.5M101 584.25h1.5M153.5 584.25h1.5M162.5 584.25h1.5M186.5 584.25h1.5M197 584.25h1.5M120.5 585.75h1.5M198.5 585.75h1.5M111.5 587.25h1.5M128 587.25h1.5M200 587.25h1.5M216.5 587.25h1.5M125 588.75h1.5M155 588.75h1.5M159.5 588.75h1.5M201.5 588.75h1.5M99.5 590.25h1.5M132.5 590.25h1.5M147.5 590.25h1.5M170 590.25h1.5M182 590.25h1.5M203 590.25h1.5M96.5 591.75h1.5M119 591.75h1.5M176 591.75h1.5M116 593.25h1.5M137 593.25h1.5M161 593.25h1.5M107 594.75h1.5M123.5 594.75h1.5M149 594.75h1.5M213.5 594.75h4.5M92 596.25h1.5M104 596.25h1.5M141.5 596.25h1.5M215 596.25h3M89 597.75h1.5M179 597.75h1.5M114.5 599.25h1.5M168.5 599.25h1.5M180.5 599.25h1.5M212 599.25h1.5M111.5 600.75h1.5M143 600.75h1.5M174.5 600.75h1.5M119 602.25h1.5M204.5 602.25h1.5M213.5 602.25h3M99.5 603.75h1.5M137 603.75h1.5M161 603.75h1.5M165.5 603.75h1.5M215 603.75h3M141.5 606.75h1.5M179 608.25h1.5M114.5 609.75h1.5M159.5 609.75h1.5M168.5 609.75h1.5M111.5 611.25h1.5M143 611.25h1.5M147.5 611.25h1.5M213.5 611.25h1.5M119 612.75h1.5M176 612.75h1.5M204.5 612.75h1.5M137 614.25h1.5M161 614.25h1.5M107 615.75h1.5M123.5 615.75h1.5M149 615.75h1.5M153.5 615.75h1.5M167 615.75h1.5M92 617.25h1.5M104 617.25h1.5M213.5 617.25h4.5M89 618.75h1.5M128 618.75h1.5M138.5 618.75h1.5M155 620.25h1.5M159.5 620.25h1.5M180.5 620.25h1.5" stroke="#3A2D90"/>
<path d="M206 494.25h1.5M173 495.75h3M183.5 495.75h4.5M194 495.75h1.5M198.5 495.75h1.5M203 495.75h1.5M209 495.75h1.5M212 495.75h4.5M134 497.25h1.5M149 497.25h1.5M213.5 497.25h3M102.5 498.75h1.5M164 498.75h1.5M183.5 498.75h1.5M194 498.75h1.5M200 498.75h4.5M104 500.25h1.5M146 500.25h1.5M189.5 500.25h6M200 500.25h3M216.5 500.25h1.5M179 501.75h1.5M191 501.75h6M90.5 503.25h1.5M102.5 503.25h1.5M180.5 503.25h1.5M186.5 503.25h1.5M192.5 503.25h6M170 504.75h1.5M177.5 504.75h1.5M188 504.75h1.5M194 504.75h6M90.5 506.25h1.5M129.5 506.25h1.5M189.5 506.25h1.5M195.5 506.25h6M93.5 507.75h1.5M116 507.75h1.5M186.5 507.75h1.5M191 507.75h1.5M197 507.75h6M96.5 509.25h1.5M119 509.25h1.5M171.5 509.25h1.5M188 509.25h1.5M192.5 509.25h1.5M200 509.25h4.5M132.5 510.75h1.5M161 510.75h1.5M185 510.75h1.5M192.5 510.75h4.5M201.5 510.75h3M192.5 512.25h6M203 512.25h4.5M143 513.75h1.5M194 513.75h6M204.5 513.75h4.5M155 515.25h1.5M173 515.25h1.5M185 515.25h1.5M191 515.25h1.5M197 515.25h4.5M206 515.25h6M95 516.75h1.5M198.5 516.75h4.5M131 518.25h1.5M146 518.25h1.5M177.5 518.25h1.5M200 518.25h6M89 519.75h1.5M153.5 519.75h1.5M167 519.75h1.5M191 519.75h1.5M201.5 519.75h6M212 519.75h4.5M141.5 521.25h1.5M198.5 521.25h1.5M203 521.25h6M215 521.25h1.5M167 522.75h1.5M171.5 522.75h1.5M179 522.75h1.5M200 522.75h1.5M206 522.75h4.5M161 524.25h1.5M207.5 524.25h4.5M96.5 525.75h1.5M129.5 525.75h1.5M144.5 525.75h1.5M171.5 525.75h1.5M176 525.75h1.5M194 525.75h1.5M198.5 525.75h1.5M209 525.75h3M99.5 527.25h1.5M152 527.25h1.5M161 527.25h1.5M165.5 527.25h1.5M189.5 527.25h1.5M200 527.25h1.5M210.5 527.25h1.5M102.5 528.75h1.5M212 528.75h1.5M105.5 530.25h1.5M122 530.25h1.5M152 530.25h1.5M165.5 530.25h1.5M170 530.25h1.5M209 530.25h1.5M215 530.25h1.5M108.5 531.75h1.5M125 531.75h1.5M191 531.75h1.5M207.5 531.75h4.5M99.5 533.25h1.5M111.5 533.25h1.5M132.5 533.25h1.5M147.5 533.25h1.5M170 533.25h1.5M174.5 533.25h1.5M182 533.25h1.5M197 533.25h1.5M210.5 533.25h3M102.5 534.75h1.5M188 534.75h1.5M198.5 534.75h1.5M204.5 534.75h1.5M122 536.25h1.5M206 536.25h1.5M210.5 536.25h1.5M135.5 537.75h1.5M180.5 537.75h1.5M207.5 537.75h1.5M213.5 537.75h4.5M189.5 539.25h1.5M209 539.25h1.5M155 540.75h1.5M159.5 540.75h1.5M99.5 542.25h1.5M128 542.25h1.5M143 542.25h1.5M174.5 542.25h1.5M197 542.25h1.5M203 542.25h1.5M213.5 542.25h1.5M102.5 543.75h1.5M114.5 543.75h1.5M159.5 543.75h1.5M164 543.75h1.5M188 543.75h1.5M198.5 543.75h1.5M204.5 543.75h1.5M105.5 545.25h1.5M122 545.25h1.5M210.5 545.25h7.5M135.5 546.75h1.5M180.5 546.75h1.5M213.5 546.75h4.5M93.5 548.25h1.5M189.5 548.25h1.5M215 548.25h1.5M96.5 549.75h1.5M99.5 551.25h1.5M111.5 551.25h1.5M132.5 551.25h1.5M143 551.25h1.5M147.5 551.25h1.5M182 551.25h1.5M203 551.25h1.5M213.5 551.25h1.5M119 552.75h1.5M204.5 552.75h1.5M213.5 552.75h3M147.5 554.25h1.5M152 554.25h1.5M189.5 554.25h1.5M200 554.25h1.5M206 554.25h1.5M215 554.25h1.5M176 555.75h1.5M201.5 555.75h1.5M105.5 557.25h1.5M122 557.25h1.5M156.5 557.25h1.5M165.5 557.25h1.5M182 557.25h1.5M203 557.25h1.5M113 558.75h1.5M140 558.75h1.5M144.5 558.75h1.5M191 558.75h1.5M204.5 558.75h1.5M156.5 560.25h1.5M96.5 561.75h1.5M129.5 561.75h1.5M149 561.75h1.5M183.5 561.75h1.5M104 563.25h1.5M116 563.25h1.5M177.5 563.25h1.5M153.5 564.75h1.5M167 564.75h1.5M92 566.25h1.5M213.5 566.25h1.5M153.5 567.75h1.5M167 567.75h1.5M114.5 569.25h1.5M141.5 569.25h1.5M195.5 569.25h1.5M186.5 570.75h1.5M197 570.75h1.5M98 572.25h1.5M131 572.25h1.5M135.5 572.25h1.5M146 572.25h1.5M164 572.25h1.5M188 572.25h1.5M198.5 572.25h1.5M105.5 573.75h1.5M117.5 573.75h1.5M122 573.75h1.5M174.5 573.75h1.5M200 573.75h1.5M215 573.75h1.5M90.5 575.25h1.5M135.5 575.25h1.5M140 575.25h1.5M164 575.25h1.5M201.5 575.25h1.5M212 575.25h1.5M156.5 576.75h1.5M182 576.75h1.5M189.5 576.75h1.5M203 576.75h1.5M108.5 578.25h1.5M113 578.25h1.5M144.5 578.25h1.5M204.5 578.25h1.5M156.5 579.75h1.5M206 579.75h1.5M101 581.25h1.5M129.5 581.25h1.5M134 581.25h1.5M144.5 581.25h1.5M183.5 581.25h1.5M207.5 581.25h1.5M116 582.75h1.5M120.5 582.75h1.5M209 582.75h1.5M134 584.25h1.5M138.5 584.25h1.5M149 584.25h1.5M179 584.25h1.5M104 585.75h1.5M168.5 585.75h1.5M89 587.25h1.5M138.5 587.25h1.5M143 587.25h1.5M215 587.25h1.5M96.5 588.75h1.5M168.5 588.75h1.5M180.5 588.75h1.5M111.5 590.25h1.5M143 590.25h1.5M213.5 590.25h1.5M204.5 591.75h1.5M99.5 593.25h1.5M177.5 593.25h1.5M206 593.25h1.5M153.5 594.75h1.5M167 594.75h1.5M177.5 596.25h1.5M213.5 596.25h1.5M107 597.75h1.5M111.5 597.75h1.5M123.5 597.75h1.5M128 597.75h1.5M153.5 597.75h1.5M92 599.25h1.5M159.5 599.25h1.5M99.5 600.75h1.5M128 600.75h1.5M132.5 600.75h1.5M147.5 600.75h1.5M159.5 602.25h1.5M176 602.25h1.5M216.5 602.25h1.5M132.5 603.75h1.5M147.5 603.75h1.5M206 603.75h1.5M107 605.25h1.5M119 605.25h1.5M123.5 605.25h1.5M153.5 605.25h1.5M167 605.25h1.5M207.5 605.25h1.5M92 606.75h1.5M137 606.75h1.5M177.5 606.75h1.5M209 606.75h1.5M107 608.25h1.5M123.5 608.25h1.5M128 608.25h1.5M153.5 608.25h1.5M167 608.25h1.5M92 609.75h1.5M99.5 611.25h1.5M128 611.25h1.5M132.5 611.25h1.5M99.5 614.25h1.5M132.5 614.25h1.5M147.5 614.25h1.5M177.5 614.25h1.5M206 614.25h1.5M89 615.75h1.5M168.5 617.25h1.5M177.5 617.25h1.5M111.5 618.75h1.5M143 618.75h1.5M179 618.75h1.5M215 618.75h1.5M96.5 620.25h1.5M168.5 620.25h1.5M212 620.25h1.5" stroke="#402D91"/>
<path d="M195.5 495.75h3M204.5 495.75h1.5M207.5 495.75h1.5M101 497.25h1.5M216.5 497.25h1.5M188 498.75h1.5M209 498.75h6M216.5 498.75h1.5M120.5 500.25h1.5M173 500.25h1.5M177.5 500.25h1.5M203 500.25h3M210.5 500.25h3M215 500.25h1.5M105.5 501.75h1.5M201.5 501.75h4.5M216.5 501.75h1.5M140 503.25h1.5M203 503.25h4.5M152 504.75h1.5M156.5 504.75h1.5M182 504.75h1.5M204.5 504.75h4.5M113 506.25h1.5M144.5 506.25h1.5M206 506.25h4.5M156.5 507.75h1.5M161 507.75h1.5M207.5 507.75h6M183.5 509.25h1.5M194 509.25h1.5M198.5 509.25h1.5M209 509.25h3M147.5 510.75h1.5M152 510.75h1.5M204.5 510.75h1.5M90.5 512.25h1.5M135.5 512.25h1.5M140 512.25h1.5M176 512.25h1.5M180.5 512.25h1.5M213.5 512.25h4.5M93.5 513.75h1.5M189.5 513.75h1.5M209 513.75h1.5M92 515.25h1.5M159.5 515.25h1.5M195.5 515.25h1.5M203 516.75h1.5M207.5 516.75h6M210.5 518.25h3M134 519.75h1.5M138.5 519.75h1.5M162.5 519.75h1.5M186.5 519.75h1.5M197 519.75h1.5M92 521.25h1.5M192.5 521.25h1.5M213.5 521.25h1.5M90.5 522.75h1.5M95 522.75h1.5M183.5 522.75h1.5M204.5 522.75h1.5M210.5 522.75h1.5M93.5 524.25h1.5M212 524.25h1.5M183.5 525.75h1.5M212 525.75h3M132.5 527.25h1.5M137 527.25h1.5M176 528.75h1.5M201.5 528.75h1.5M207.5 528.75h1.5M156.5 530.25h1.5M182 530.25h1.5M129.5 531.75h1.5M143 533.25h1.5M114.5 534.75h1.5M119 534.75h1.5M159.5 534.75h1.5M174.5 536.25h1.5M200 536.25h1.5M90.5 537.75h1.5M140 537.75h1.5M150.5 537.75h1.5M164 537.75h1.5M89 539.25h1.5M93.5 539.25h1.5M216.5 539.25h1.5M92 540.75h1.5M96.5 540.75h1.5M180.5 540.75h1.5M201.5 540.75h1.5M95 542.25h1.5M132.5 542.25h1.5M147.5 542.25h1.5M117.5 545.25h1.5M174.5 545.25h1.5M200 545.25h1.5M90.5 546.75h1.5M140 546.75h1.5M150.5 546.75h1.5M164 546.75h1.5M188 546.75h1.5M89 548.25h1.5M170 548.25h1.5M200 548.25h1.5M155 549.75h1.5M180.5 549.75h1.5M201.5 549.75h1.5M128 551.25h1.5M114.5 552.75h1.5M159.5 552.75h1.5M176 552.75h1.5M216.5 552.75h1.5M165.5 554.25h1.5M135.5 555.75h1.5M191 555.75h1.5M110 557.25h1.5M126.5 557.25h1.5M189.5 557.25h1.5M108.5 558.75h1.5M171.5 558.75h1.5M183.5 558.75h1.5M206 560.25h1.5M101 561.75h1.5M134 561.75h1.5M207.5 561.75h1.5M216.5 561.75h1.5M99.5 563.25h1.5M120.5 563.25h1.5M161 563.25h1.5M89 564.75h1.5M119 564.75h1.5M137 566.25h1.5M177.5 566.25h1.5M128 567.75h1.5M210.5 567.75h1.5M216.5 567.75h1.5M110 569.25h1.5M158 570.75h1.5M174.5 570.75h1.5M215 570.75h1.5M102.5 572.25h1.5M173 572.25h1.5M101 573.75h1.5M189.5 573.75h1.5M150.5 575.25h1.5M188 575.25h1.5M125 578.25h1.5M171.5 578.25h1.5M183.5 578.25h1.5M216.5 578.25h1.5M170 579.75h1.5M182 579.75h1.5M96.5 581.25h1.5M162.5 581.25h1.5M215 581.25h1.5M210.5 584.25h1.5M108.5 585.75h1.5M125 585.75h1.5M155 585.75h1.5M180.5 585.75h1.5M107 587.25h1.5M179 587.25h1.5M92 588.75h1.5M116 590.25h1.5M128 590.25h1.5M161 590.25h1.5M149 591.75h1.5M104 593.25h1.5M132.5 593.25h1.5M147.5 593.25h1.5M89 594.75h1.5M119 594.75h1.5M179 594.75h1.5M207.5 594.75h1.5M137 596.25h1.5M168.5 596.25h1.5M209 596.25h1.5M143 597.75h1.5M167 597.75h1.5M210.5 597.75h1.5M215 597.75h1.5M96.5 599.25h1.5M141.5 599.25h1.5M95 600.75h1.5M114.5 602.25h1.5M104 603.75h1.5M177.5 603.75h1.5M89 605.25h1.5M102.5 605.25h1.5M176 605.25h1.5M168.5 606.75h1.5M111.5 608.25h1.5M143 608.25h1.5M210.5 608.25h1.5M215 608.25h1.5M96.5 609.75h1.5M141.5 609.75h1.5M212 609.75h1.5M95 611.25h1.5M116 611.25h1.5M161 611.25h1.5M114.5 612.75h1.5M159.5 612.75h1.5M104 614.25h1.5M119 615.75h1.5M138.5 615.75h1.5M176 615.75h1.5M179 615.75h1.5M207.5 615.75h1.5M137 617.25h1.5M155 617.25h1.5M107 618.75h1.5M123.5 618.75h1.5M153.5 618.75h1.5M167 618.75h1.5M210.5 618.75h1.5M92 620.25h1.5M129.5 620.25h1.5" stroke="#452D93"/>
<path d="M206 495.75h1.5M114.5 497.25h1.5M117.5 497.25h1.5M162.5 497.25h1.5M204.5 497.25h1.5M207.5 497.25h1.5M114.5 498.75h1.5M119 498.75h1.5M198.5 498.75h1.5M215 498.75h1.5M213.5 500.25h1.5M117.5 501.75h1.5M122 501.75h1.5M174.5 501.75h1.5M206 501.75h1.5M212 501.75h4.5M176 503.25h1.5M105.5 504.75h1.5M122 504.75h1.5M126.5 504.75h1.5M165.5 504.75h1.5M216.5 504.75h1.5M140 506.25h1.5M210.5 506.25h1.5M192.5 507.75h1.5M176 509.25h1.5M212 509.25h4.5M165.5 510.75h1.5M189.5 510.75h1.5M200 510.75h1.5M210.5 510.75h3M216.5 510.75h1.5M207.5 512.25h1.5M89 513.75h1.5M215 513.75h1.5M96.5 515.25h1.5M168.5 515.25h1.5M180.5 515.25h1.5M201.5 515.25h1.5M186.5 516.75h1.5M213.5 516.75h1.5M150.5 518.25h1.5M173 518.25h1.5M209 518.25h1.5M213.5 518.25h4.5M149 519.75h1.5M179 519.75h1.5M137 521.25h1.5M177.5 521.25h1.5M158 522.75h1.5M216.5 522.75h1.5M98 524.25h1.5M156.5 524.25h1.5M192.5 524.25h1.5M206 524.25h1.5M101 525.75h1.5M134 525.75h1.5M149 525.75h1.5M215 525.75h1.5M147.5 527.25h1.5M206 527.25h1.5M135.5 528.75h1.5M191 528.75h1.5M126.5 530.25h1.5M189.5 530.25h1.5M203 530.25h1.5M113 531.75h1.5M144.5 531.75h1.5M155 531.75h1.5M116 533.25h1.5M128 533.25h1.5M161 533.25h1.5M203 533.25h1.5M213.5 533.25h1.5M117.5 536.25h1.5M152 536.25h1.5M189.5 536.25h1.5M188 537.75h1.5M212 537.75h1.5M138.5 539.25h1.5M170 539.25h1.5M200 539.25h1.5M215 539.25h1.5M168.5 540.75h1.5M98 543.75h1.5M119 543.75h1.5M131 543.75h1.5M146 543.75h1.5M101 545.25h1.5M152 545.25h1.5M189.5 545.25h1.5M120.5 546.75h1.5M198.5 546.75h1.5M201.5 546.75h1.5M212 546.75h1.5M138.5 548.25h1.5M182 548.25h1.5M92 549.75h1.5M129.5 549.75h1.5M168.5 549.75h1.5M95 551.25h1.5M116 551.25h1.5M161 551.25h1.5M117.5 554.25h1.5M137 554.25h1.5M174.5 554.25h1.5M164 555.75h1.5M213.5 557.25h1.5M125 558.75h1.5M98 560.25h1.5M111.5 560.25h1.5M170 560.25h1.5M182 560.25h1.5M162.5 561.75h1.5M132.5 563.25h1.5M206 563.25h1.5M209 563.25h1.5M102.5 564.75h1.5M138.5 564.75h1.5M179 564.75h1.5M207.5 564.75h1.5M168.5 566.25h1.5M209 566.25h1.5M111.5 567.75h1.5M126.5 569.25h1.5M159.5 569.25h1.5M99.5 570.75h1.5M113 570.75h1.5M132.5 570.75h1.5M147.5 570.75h1.5M119 572.25h1.5M195.5 572.25h1.5M152 573.75h1.5M165.5 573.75h1.5M186.5 573.75h1.5M197 573.75h1.5M120.5 575.25h1.5M191 575.25h1.5M198.5 575.25h1.5M110 576.75h1.5M126.5 576.75h1.5M200 576.75h1.5M213.5 576.75h1.5M155 578.25h1.5M201.5 578.25h1.5M98 579.75h1.5M111.5 579.75h1.5M185 579.75h1.5M203 579.75h1.5M213.5 579.75h1.5M117.5 581.25h1.5M216.5 581.25h1.5M99.5 582.75h1.5M150.5 582.75h1.5M161 582.75h1.5M177.5 585.75h1.5M212 585.75h1.5M93.5 587.25h1.5M123.5 587.25h1.5M153.5 587.25h1.5M170 587.25h1.5M182 587.25h1.5M129.5 588.75h1.5M212 588.75h1.5M95 590.25h1.5M206 590.25h1.5M114.5 591.75h1.5M134 591.75h1.5M159.5 591.75h1.5M207.5 591.75h1.5M120.5 593.25h1.5M209 593.25h1.5M102.5 594.75h1.5M138.5 594.75h1.5M176 594.75h1.5M155 596.25h1.5M110 599.25h1.5M116 600.75h1.5M161 600.75h1.5M149 602.25h1.5M120.5 603.75h1.5M174.5 603.75h1.5M138.5 605.25h1.5M179 605.25h1.5M152 606.75h1.5M155 606.75h1.5M165.5 606.75h1.5M110 609.75h1.5M134 612.75h1.5M149 612.75h1.5M207.5 612.75h1.5M120.5 614.25h1.5M209 614.25h1.5M102.5 615.75h1.5M108.5 617.25h1.5M125 617.25h1.5M180.5 617.25h1.5M209 617.25h1.5M93.5 618.75h1.5M170 618.75h1.5M182 618.75h1.5M141.5 620.25h1.5M144.5 620.25h1.5M204.5 620.25h1.5" stroke="#4B2E94"/>
<path d="M224 491.25h1.5M159.5 497.25h1.5M159.5 498.75h1.5M204.5 498.75h1.5M195.5 500.25h1.5M210.5 501.75h1.5M135.5 503.25h1.5M207.5 503.25h1.5M213.5 503.25h1.5M216.5 503.25h1.5M110 504.75h1.5M203 504.75h1.5M209 504.75h1.5M215 504.75h1.5M108.5 506.25h1.5M171.5 506.25h1.5M216.5 509.25h1.5M137 510.75h1.5M206 510.75h1.5M213.5 510.75h3M164 512.25h1.5M212 512.25h1.5M138.5 513.75h1.5M170 513.75h1.5M99.5 516.75h1.5M158 516.75h1.5M174.5 516.75h1.5M197 516.75h1.5M135.5 518.25h1.5M164 518.25h1.5M195.5 518.25h1.5M140 522.75h1.5M194 522.75h1.5M131 524.25h1.5M216.5 525.75h1.5M104 527.25h1.5M177.5 527.25h1.5M107 528.75h1.5M123.5 528.75h1.5M110 530.25h1.5M92 531.75h1.5M180.5 531.75h1.5M201.5 531.75h1.5M95 533.25h1.5M98 534.75h1.5M131 534.75h1.5M146 534.75h1.5M176 534.75h1.5M101 536.25h1.5M137 536.25h1.5M165.5 536.25h1.5M104 537.75h1.5M120.5 537.75h1.5M198.5 537.75h1.5M201.5 537.75h1.5M156.5 539.25h1.5M182 539.25h1.5M129.5 540.75h1.5M116 542.25h1.5M176 543.75h1.5M165.5 545.25h1.5M104 546.75h1.5M156.5 548.25h1.5M203 548.25h1.5M113 549.75h1.5M144.5 549.75h1.5M212 549.75h1.5M98 552.75h1.5M131 552.75h1.5M146 552.75h1.5M107 555.75h1.5M123.5 555.75h1.5M150.5 555.75h1.5M188 555.75h1.5M141.5 557.25h1.5M192.5 557.25h1.5M95 558.75h1.5M155 558.75h1.5M201.5 558.75h1.5M216.5 558.75h1.5M131 560.25h1.5M143 560.25h1.5M185 560.25h1.5M203 560.25h1.5M117.5 561.75h1.5M204.5 561.75h1.5M147.5 563.25h1.5M176 564.75h1.5M210.5 564.75h1.5M108.5 566.25h1.5M152 566.25h1.5M155 566.25h1.5M165.5 566.25h1.5M90.5 567.75h1.5M143 567.75h1.5M96.5 569.25h1.5M194 570.75h1.5M176 572.25h1.5M185 572.25h1.5M134 573.75h1.5M137 573.75h1.5M162.5 573.75h1.5M104 575.25h1.5M89 576.75h1.5M138.5 576.75h1.5M192.5 576.75h1.5M95 578.25h1.5M158 578.25h1.5M180.5 578.25h1.5M131 579.75h1.5M143 579.75h1.5M146 579.75h1.5M173 579.75h1.5M186.5 581.25h1.5M204.5 581.25h1.5M132.5 582.75h1.5M135.5 582.75h1.5M147.5 582.75h1.5M164 582.75h1.5M206 582.75h1.5M105.5 584.25h1.5M119 584.25h1.5M207.5 584.25h1.5M90.5 585.75h1.5M137 585.75h1.5M140 585.75h1.5M209 585.75h1.5M156.5 587.25h1.5M167 587.25h1.5M203 587.25h1.5M210.5 587.25h1.5M113 588.75h1.5M141.5 588.75h1.5M144.5 588.75h1.5M204.5 588.75h1.5M101 591.75h1.5M162.5 591.75h1.5M174.5 593.25h1.5M210.5 594.75h1.5M108.5 596.25h1.5M122 596.25h1.5M125 596.25h1.5M152 596.25h1.5M165.5 596.25h1.5M180.5 596.25h1.5M90.5 597.75h1.5M93.5 597.75h1.5M170 597.75h1.5M126.5 599.25h1.5M129.5 599.25h1.5M158 600.75h1.5M98 602.25h1.5M101 602.25h1.5M131 602.25h1.5M134 602.25h1.5M146 602.25h1.5M207.5 602.25h1.5M117.5 603.75h1.5M209 603.75h1.5M135.5 605.25h1.5M210.5 605.25h1.5M105.5 606.75h1.5M108.5 606.75h1.5M122 606.75h1.5M125 606.75h1.5M180.5 606.75h1.5M90.5 608.25h1.5M93.5 608.25h1.5M170 608.25h1.5M126.5 609.75h1.5M129.5 609.75h1.5M158 611.25h1.5M206 611.25h1.5M98 612.75h1.5M101 612.75h1.5M131 612.75h1.5M146 612.75h1.5M162.5 612.75h1.5M174.5 614.25h1.5M210.5 615.75h1.5M152 617.25h1.5M165.5 617.25h1.5M156.5 618.75h1.5M203 618.75h1.5M110 620.25h1.5M113 620.25h1.5M171.5 620.25h1.5M183.5 620.25h1.5" stroke="#512E95"/>
<path d="M222.5 491.25h1.5M98 497.25h1.5M131 497.25h1.5M176 498.75h1.5M116 500.25h1.5M185 500.25h1.5M209 500.25h1.5M101 501.75h1.5M201.5 503.25h1.5M212 503.25h1.5M215 503.25h1.5M125 506.25h1.5M183.5 506.25h1.5M191 506.25h1.5M204.5 506.25h1.5M111.5 507.75h1.5M170 507.75h1.5M182 507.75h1.5M114.5 509.25h1.5M134 509.25h1.5M149 509.25h1.5M150.5 512.25h1.5M201.5 512.25h1.5M182 513.75h1.5M200 513.75h1.5M110 515.25h1.5M141.5 515.25h1.5M212 515.25h1.5M113 516.75h1.5M132.5 516.75h1.5M147.5 516.75h1.5M102.5 518.25h1.5M116 518.25h1.5M185 518.25h1.5M105.5 519.75h1.5M119 519.75h1.5M209 521.25h1.5M108.5 522.75h1.5M128 522.75h1.5M111.5 524.25h1.5M146 524.25h1.5M185 524.25h1.5M162.5 525.75h1.5M207.5 525.75h1.5M120.5 527.25h1.5M89 528.75h1.5M164 528.75h1.5M89 530.25h1.5M138.5 530.25h1.5M168.5 531.75h1.5M171.5 531.75h1.5M183.5 531.75h1.5M204.5 531.75h1.5M107 539.25h1.5M123.5 539.25h1.5M126.5 539.25h1.5M179 539.25h1.5M203 539.25h1.5M110 540.75h1.5M113 540.75h1.5M141.5 540.75h1.5M144.5 540.75h1.5M212 540.75h1.5M158 542.25h1.5M161 542.25h1.5M173 543.75h1.5M134 545.25h1.5M137 545.25h1.5M186.5 545.25h1.5M197 545.25h1.5M191 546.75h1.5M107 548.25h1.5M110 548.25h1.5M123.5 548.25h1.5M126.5 548.25h1.5M179 548.25h1.5M204.5 549.75h1.5M134 552.75h1.5M149 552.75h1.5M101 554.25h1.5M104 554.25h1.5M177.5 554.25h1.5M89 555.75h1.5M120.5 555.75h1.5M153.5 555.75h1.5M167 555.75h1.5M198.5 555.75h1.5M89 557.25h1.5M92 557.25h1.5M138.5 557.25h1.5M200 557.25h1.5M92 558.75h1.5M158 558.75h1.5M180.5 558.75h1.5M194 558.75h1.5M128 560.25h1.5M146 560.25h1.5M173 560.25h1.5M213.5 560.25h1.5M114.5 561.75h1.5M159.5 561.75h1.5M150.5 563.25h1.5M105.5 566.25h1.5M122 566.25h1.5M125 566.25h1.5M180.5 566.25h1.5M140 567.75h1.5M93.5 569.25h1.5M156.5 569.25h1.5M192.5 569.25h1.5M129.5 570.75h1.5M144.5 570.75h1.5M171.5 570.75h1.5M216.5 570.75h1.5M149 573.75h1.5M107 575.25h1.5M123.5 575.25h1.5M92 576.75h1.5M141.5 576.75h1.5M92 578.25h1.5M168.5 578.25h1.5M194 578.25h1.5M114.5 579.75h1.5M128 579.75h1.5M195.5 579.75h1.5M114.5 581.25h1.5M197 581.25h1.5M188 582.75h1.5M198.5 582.75h1.5M102.5 584.25h1.5M122 584.25h1.5M176 584.25h1.5M200 584.25h1.5M201.5 585.75h1.5M110 588.75h1.5M126.5 588.75h1.5M171.5 588.75h1.5M183.5 588.75h1.5M98 590.25h1.5M158 590.25h1.5M98 591.75h1.5M117.5 591.75h1.5M131 591.75h1.5M146 591.75h1.5M117.5 593.25h1.5M150.5 593.25h1.5M135.5 594.75h1.5M105.5 596.25h1.5M182 597.75h1.5M113 599.25h1.5M144.5 599.25h1.5M204.5 599.25h1.5M113 600.75h1.5M206 600.75h1.5M215 600.75h1.5M162.5 602.25h1.5M173 602.25h1.5M164 605.25h1.5M189.5 606.75h1.5M140 608.25h1.5M182 608.25h1.5M191 608.25h1.5M113 609.75h1.5M144.5 609.75h1.5M192.5 609.75h1.5M204.5 609.75h1.5M113 611.25h1.5M173 612.75h1.5M117.5 614.25h1.5M150.5 614.25h1.5M105.5 615.75h1.5M135.5 615.75h1.5M90.5 617.25h1.5M105.5 617.25h1.5M122 617.25h1.5M140 617.25h1.5M201.5 617.25h1.5M90.5 618.75h1.5M126.5 620.25h1.5M216.5 620.25h1.5" stroke="#562E97"/>
<path d="M99.5 497.25h1.5M146 497.25h1.5M186.5 497.25h1.5M98 498.75h1.5M150.5 500.25h1.5M152 501.75h1.5M200 501.75h1.5M164 503.25h1.5M191 503.25h1.5M141.5 504.75h1.5M95 506.25h1.5M216.5 506.25h1.5M98 507.75h1.5M143 507.75h1.5M206 507.75h1.5M101 509.25h1.5M159.5 509.25h1.5M204.5 509.25h1.5M104 510.75h1.5M117.5 510.75h1.5M174.5 510.75h1.5M107 512.25h1.5M120.5 512.25h1.5M188 512.25h1.5M107 513.75h1.5M123.5 513.75h1.5M156.5 513.75h1.5M129.5 515.25h1.5M188 518.25h1.5M102.5 519.75h1.5M210.5 519.75h1.5M105.5 521.25h1.5M108.5 521.25h1.5M122 521.25h1.5M125 521.25h1.5M152 521.25h1.5M165.5 521.25h1.5M168.5 521.25h1.5M111.5 522.75h1.5M125 522.75h1.5M191 522.75h1.5M114.5 524.25h1.5M170 524.25h1.5M173 524.25h1.5M182 524.25h1.5M114.5 525.75h1.5M117.5 525.75h1.5M204.5 525.75h1.5M117.5 527.25h1.5M174.5 527.25h1.5M150.5 528.75h1.5M153.5 528.75h1.5M167 528.75h1.5M188 528.75h1.5M92 530.25h1.5M141.5 530.25h1.5M192.5 530.25h1.5M200 530.25h1.5M213.5 530.25h1.5M95 531.75h1.5M149 534.75h1.5M104 536.25h1.5M134 536.25h1.5M186.5 536.25h1.5M197 536.25h1.5M107 537.75h1.5M191 537.75h1.5M110 539.25h1.5M153.5 539.25h1.5M204.5 540.75h1.5M113 542.25h1.5M195.5 543.75h1.5M162.5 545.25h1.5M107 546.75h1.5M153.5 548.25h1.5M110 549.75h1.5M141.5 549.75h1.5M171.5 549.75h1.5M183.5 549.75h1.5M98 551.25h1.5M158 551.25h1.5M206 551.25h1.5M101 552.75h1.5M173 552.75h1.5M120.5 554.25h1.5M186.5 554.25h1.5M197 554.25h1.5M104 555.75h1.5M168.5 558.75h1.5M95 560.25h1.5M114.5 560.25h1.5M195.5 560.25h1.5M186.5 561.75h1.5M135.5 563.25h1.5M105.5 564.75h1.5M135.5 564.75h1.5M90.5 566.25h1.5M93.5 567.75h1.5M108.5 567.75h1.5M191 567.75h1.5M215 567.75h1.5M129.5 569.25h1.5M96.5 570.75h1.5M116 570.75h1.5M161 570.75h1.5M183.5 570.75h1.5M116 572.25h1.5M104 573.75h1.5M89 575.25h1.5M153.5 575.25h1.5M167 575.25h1.5M107 576.75h1.5M123.5 576.75h1.5M179 576.75h1.5M212 578.25h1.5M95 579.75h1.5M159.5 581.25h1.5M174.5 581.25h1.5M102.5 582.75h1.5M152 584.25h1.5M189.5 584.25h1.5M105.5 585.75h1.5M122 585.75h1.5M152 585.75h1.5M165.5 585.75h1.5M90.5 587.25h1.5M110 587.25h1.5M126.5 587.25h1.5M131 590.25h1.5M185 590.25h1.5M173 591.75h1.5M101 593.25h1.5M135.5 593.25h1.5M105.5 594.75h1.5M122 594.75h1.5M164 594.75h1.5M90.5 596.25h1.5M140 596.25h1.5M189.5 596.25h1.5M140 597.75h1.5M156.5 597.75h1.5M191 597.75h1.5M203 597.75h1.5M93.5 599.25h1.5M156.5 599.25h1.5M171.5 599.25h1.5M183.5 599.25h1.5M192.5 599.25h1.5M98 600.75h1.5M194 600.75h1.5M117.5 602.25h1.5M195.5 602.25h1.5M101 603.75h1.5M150.5 603.75h1.5M186.5 603.75h1.5M197 603.75h1.5M105.5 605.25h1.5M150.5 605.25h1.5M188 605.25h1.5M90.5 606.75h1.5M140 606.75h1.5M212 606.75h1.5M108.5 608.25h1.5M156.5 608.25h1.5M203 608.25h1.5M93.5 609.75h1.5M156.5 609.75h1.5M171.5 609.75h1.5M183.5 609.75h1.5M98 611.25h1.5M171.5 611.25h1.5M185 611.25h1.5M194 611.25h1.5M215 611.25h1.5M117.5 612.75h1.5M195.5 612.75h1.5M101 614.25h1.5M135.5 614.25h1.5M164 614.25h1.5M186.5 614.25h1.5M122 615.75h1.5M150.5 615.75h1.5M164 615.75h1.5M188 615.75h1.5M200 615.75h1.5M189.5 617.25h1.5M212 617.25h1.5M110 618.75h1.5M126.5 618.75h1.5M140 618.75h1.5M191 618.75h1.5M95 620.25h1.5M158 620.25h1.5M192.5 620.25h1.5" stroke="#5C2E98"/>
<path d="M224 489.75h1.5M116 497.25h1.5M132.5 497.25h1.5M197 497.25h1.5M131 498.75h1.5M146 498.75h1.5M135.5 500.25h1.5M189.5 501.75h1.5M107 503.25h1.5M123.5 503.25h1.5M150.5 503.25h1.5M92 504.75h1.5M189.5 504.75h1.5M192.5 504.75h1.5M158 506.25h1.5M128 507.75h1.5M131 507.75h1.5M213.5 507.75h1.5M101 510.75h1.5M104 512.25h1.5M123.5 512.25h1.5M191 512.25h1.5M110 513.75h1.5M126.5 513.75h1.5M179 513.75h1.5M203 513.75h1.5M113 515.25h1.5M126.5 515.25h1.5M116 516.75h1.5M99.5 518.25h1.5M119 518.25h1.5M198.5 518.25h1.5M122 519.75h1.5M155 521.25h1.5M128 524.25h1.5M143 524.25h1.5M159.5 525.75h1.5M101 527.25h1.5M104 528.75h1.5M120.5 528.75h1.5M107 530.25h1.5M110 531.75h1.5M98 533.25h1.5M158 533.25h1.5M206 533.25h1.5M101 534.75h1.5M134 534.75h1.5M173 534.75h1.5M162.5 536.25h1.5M89 537.75h1.5M123.5 537.75h1.5M167 539.25h1.5M126.5 540.75h1.5M171.5 540.75h1.5M183.5 540.75h1.5M98 542.25h1.5M215 542.25h1.5M101 543.75h1.5M116 543.75h1.5M134 543.75h1.5M149 543.75h1.5M104 545.25h1.5M149 545.25h1.5M89 546.75h1.5M123.5 546.75h1.5M92 548.25h1.5M141.5 548.25h1.5M167 548.25h1.5M213.5 548.25h1.5M95 549.75h1.5M126.5 549.75h1.5M216.5 549.75h1.5M113 551.25h1.5M162.5 552.75h1.5M207.5 552.75h1.5M134 554.25h1.5M162.5 554.25h1.5M138.5 555.75h1.5M107 557.25h1.5M123.5 557.25h1.5M111.5 558.75h1.5M128 558.75h1.5M98 561.75h1.5M131 561.75h1.5M197 561.75h1.5M102.5 563.25h1.5M117.5 563.25h1.5M164 563.25h1.5M174.5 563.25h1.5M122 564.75h1.5M140 566.25h1.5M189.5 566.25h1.5M125 567.75h1.5M170 567.75h1.5M182 567.75h1.5M113 569.25h1.5M99.5 572.25h3M149 572.25h1.5M161 572.25h1.5M119 573.75h1.5M177.5 573.75h1.5M137 575.25h1.5M153.5 576.75h1.5M167 576.75h1.5M110 578.25h3M128 578.25h1.5M141.5 578.25h1.5M159.5 579.75h1.5M98 581.25h3M132.5 581.25h1.5M117.5 582.75h3M174.5 582.75h1.5M135.5 584.25h1.5M165.5 584.25h1.5M191 585.75h1.5M140 587.25h1.5M93.5 588.75h3M158 588.75h1.5M113 590.25h3M146 590.25h1.5M173 590.25h1.5M194 590.25h1.5M215 590.25h1.5M186.5 591.75h1.5M195.5 591.75h1.5M102.5 593.25h1.5M164 593.25h1.5M186.5 593.25h1.5M150.5 594.75h1.5M188 594.75h1.5M200 594.75h1.5M89 596.25h1.5M201.5 596.25h1.5M212 596.25h1.5M108.5 597.75h3M125 597.75h3M95 599.25h1.5M216.5 599.25h1.5M96.5 600.75h1.5M129.5 600.75h3M144.5 600.75h3M171.5 600.75h1.5M183.5 600.75h3M116 602.25h1.5M185 602.25h3M102.5 603.75h1.5M134 603.75h3M162.5 603.75h3M104 605.25h1.5M120.5 605.25h3M198.5 605.25h1.5M89 606.75h1.5M201.5 606.75h1.5M110 608.25h1.5M125 608.25h3M95 609.75h1.5M96.5 611.25h1.5M129.5 611.25h3M144.5 611.25h3M173 611.25h1.5M183.5 611.25h1.5M116 612.75h1.5M185 612.75h3M102.5 614.25h1.5M134 614.25h1.5M162.5 614.25h1.5M188 614.25h1.5M197 614.25h3M104 615.75h1.5M120.5 615.75h1.5M152 615.75h1.5M189.5 615.75h1.5M89 617.25h1.5M191 617.25h1.5M92 618.75h1.5M108.5 618.75h1.5M125 618.75h1.5M141.5 618.75h1.5M192.5 618.75h1.5M93.5 620.25h1.5M156.5 620.25h1.5M194 620.25h1.5" stroke="#642E99"/>
<path d="M222.5 489.75h1.5M225.5 491.25h1.5M222.5 492.75h3M222.5 495.75h1.5M147.5 497.25h1.5M173 497.25h3M149 498.75h1.5M99.5 500.25h1.5M161 500.25h1.5M164 500.25h1.5M134 501.75h1.5M137 501.75h1.5M165.5 501.75h1.5M186.5 501.75h1.5M197 501.75h1.5M188 503.25h1.5M89 504.75h1.5M213.5 504.75h1.5M155 506.25h1.5M95 507.75h1.5M203 507.75h1.5M98 509.25h1.5M162.5 509.25h1.5M120.5 510.75h1.5M177.5 510.75h1.5M89 512.25h1.5M198.5 512.25h1.5M153.5 513.75h1.5M144.5 515.25h1.5M96.5 516.75h1.5M129.5 516.75h1.5M144.5 516.75h1.5M194 516.75h1.5M215 516.75h1.5M161 518.25h1.5M90.5 521.25h1.5M180.5 521.25h1.5M93.5 522.75h1.5M143 522.75h1.5M95 524.25h1.5M195.5 524.25h1.5M203 524.25h1.5M98 525.75h1.5M131 525.75h1.5M209 527.25h1.5M138.5 528.75h1.5M198.5 528.75h1.5M123.5 530.25h1.5M141.5 531.75h1.5M158 531.75h1.5M113 533.25h1.5M131 533.25h1.5M116 534.75h1.5M195.5 534.75h1.5M120.5 536.25h1.5M149 536.25h1.5M177.5 536.25h1.5M137 537.75h1.5M153.5 537.75h1.5M90.5 539.25h3M141.5 539.25h1.5M93.5 540.75h3M96.5 542.25h1.5M129.5 542.25h1.5M144.5 542.25h1.5M206 542.25h1.5M99.5 543.75h1.5M185 543.75h1.5M120.5 545.25h1.5M177.5 545.25h1.5M137 546.75h1.5M153.5 546.75h1.5M167 546.75h1.5M90.5 548.25h1.5M192.5 548.25h1.5M93.5 549.75h1.5M158 549.75h1.5M96.5 551.25h1.5M131 551.25h1.5M185 551.25h1.5M116 552.75h3M195.5 552.75h1.5M149 554.25h1.5M179 555.75h1.5M90.5 557.25h1.5M108.5 557.25h1.5M153.5 557.25h1.5M179 557.25h1.5M93.5 558.75h1.5M110 558.75h1.5M141.5 558.75h3M96.5 560.25h1.5M159.5 560.25h1.5M99.5 561.75h1.5M146 561.75h1.5M174.5 561.75h1.5M101 563.25h1.5M119 563.25h1.5M188 563.25h1.5M198.5 563.25h1.5M104 564.75h1.5M120.5 564.75h1.5M150.5 564.75h1.5M164 564.75h1.5M200 564.75h1.5M89 566.25h1.5M92 567.75h1.5M110 567.75h1.5M126.5 567.75h1.5M156.5 567.75h1.5M95 569.25h1.5M111.5 569.25h1.5M144.5 569.25h1.5M170 569.25h1.5M182 569.25h1.5M98 570.75h1.5M132.5 572.25h3M102.5 573.75h1.5M120.5 573.75h1.5M105.5 575.25h1.5M138.5 575.25h1.5M177.5 575.25h1.5M90.5 576.75h1.5M108.5 576.75h1.5M93.5 578.25h1.5M126.5 578.25h1.5M143 578.25h1.5M96.5 579.75h1.5M113 579.75h1.5M158 579.75h1.5M116 581.25h1.5M131 581.25h1.5M146 581.25h3M101 582.75h1.5M176 582.75h1.5M104 584.25h1.5M137 584.25h1.5M164 584.25h1.5M89 585.75h1.5M107 585.75h1.5M123.5 585.75h1.5M92 587.25h1.5M108.5 587.25h1.5M125 587.25h1.5M141.5 587.25h1.5M191 587.25h3M111.5 588.75h1.5M128 588.75h1.5M156.5 588.75h1.5M192.5 588.75h3M96.5 590.25h1.5M129.5 590.25h1.5M144.5 590.25h1.5M171.5 590.25h1.5M195.5 590.25h1.5M99.5 591.75h1.5M116 591.75h1.5M185 591.75h1.5M197 591.75h1.5M119 593.25h1.5M134 593.25h1.5M162.5 593.25h1.5M188 593.25h1.5M197 593.25h3M104 594.75h1.5M120.5 594.75h1.5M137 594.75h1.5M152 594.75h1.5M165.5 594.75h1.5M189.5 594.75h1.5M198.5 594.75h1.5M107 596.25h1.5M123.5 596.25h1.5M138.5 596.25h1.5M92 597.75h1.5M141.5 597.75h1.5M155 597.75h1.5M111.5 599.25h1.5M128 599.25h1.5M143 599.25h1.5M158 599.25h1.5M170 599.25h1.5M182 599.25h1.5M114.5 600.75h1.5M173 600.75h1.5M216.5 600.75h1.5M99.5 602.25h1.5M132.5 602.25h1.5M119 603.75h1.5M149 603.75h1.5M188 603.75h1.5M198.5 603.75h1.5M137 605.25h1.5M152 605.25h1.5M165.5 605.25h1.5M189.5 605.25h1.5M200 605.25h1.5M107 606.75h1.5M123.5 606.75h1.5M138.5 606.75h1.5M191 606.75h1.5M200 606.75h1.5M92 608.25h1.5M141.5 608.25h1.5M155 608.25h1.5M111.5 609.75h1.5M128 609.75h1.5M143 609.75h1.5M158 609.75h1.5M170 609.75h1.5M182 609.75h1.5M194 609.75h1.5M114.5 611.25h1.5M195.5 611.25h1.5M99.5 612.75h1.5M132.5 612.75h1.5M147.5 612.75h1.5M161 612.75h1.5M174.5 612.75h1.5M197 612.75h1.5M119 614.25h1.5M149 614.25h1.5M137 615.75h1.5M165.5 615.75h1.5M198.5 615.75h1.5M107 617.25h1.5M123.5 617.25h1.5M138.5 617.25h1.5M153.5 617.25h1.5M167 617.25h1.5M155 618.75h1.5M213.5 618.75h1.5M111.5 620.25h1.5M128 620.25h1.5M143 620.25h1.5M170 620.25h1.5M182 620.25h1.5" stroke="#6C2F99"/>
<path d="M306.5 491.25h3M360.5 491.25h1.5M221 495.75h1.5M224 495.75h1.5M161 497.25h1.5M101 498.75h1.5M134 498.75h1.5M102.5 500.25h1.5M132.5 500.25h1.5M162.5 501.75h1.5M89 503.25h1.5M104 503.25h1.5M120.5 503.25h1.5M153.5 503.25h1.5M138.5 504.75h1.5M92 506.25h1.5M194 506.25h1.5M114.5 507.75h1.5M146 507.75h1.5M185 507.75h1.5M117.5 509.25h1.5M131 509.25h1.5M146 509.25h1.5M207.5 509.25h1.5M153.5 512.25h1.5M92 513.75h1.5M167 513.75h1.5M93.5 515.25h1.5M161 516.75h1.5M171.5 516.75h1.5M132.5 518.25h1.5M176 519.75h1.5M207.5 519.75h1.5M89 521.25h1.5M140 521.25h1.5M92 522.75h1.5M155 522.75h1.5M96.5 524.25h1.5M213.5 524.25h1.5M99.5 525.75h1.5M146 525.75h1.5M186.5 525.75h1.5M102.5 527.25h1.5M150.5 527.25h1.5M105.5 528.75h1.5M179 528.75h1.5M90.5 530.25h1.5M108.5 530.25h1.5M153.5 530.25h1.5M179 530.25h1.5M93.5 531.75h1.5M111.5 531.75h1.5M126.5 531.75h3M212 531.75h1.5M216.5 531.75h1.5M96.5 533.25h1.5M114.5 533.25h1.5M146 533.25h1.5M99.5 534.75h1.5M117.5 534.75h1.5M162.5 534.75h1.5M185 534.75h1.5M207.5 534.75h1.5M102.5 536.25h1.5M119 536.25h1.5M105.5 537.75h1.5M167 537.75h1.5M108.5 539.25h1.5M192.5 539.25h1.5M111.5 540.75h1.5M158 540.75h1.5M216.5 540.75h1.5M114.5 542.25h1.5M131 542.25h1.5M171.5 542.25h1.5M194 542.25h1.5M117.5 543.75h1.5M162.5 543.75h1.5M102.5 545.25h1.5M119 545.25h1.5M105.5 546.75h1.5M122 546.75h1.5M177.5 546.75h1.5M108.5 548.25h1.5M210.5 548.25h1.5M111.5 549.75h1.5M128 549.75h1.5M194 549.75h1.5M114.5 551.25h1.5M129.5 551.25h1.5M144.5 551.25h3M173 551.25h1.5M194 551.25h1.5M215 551.25h1.5M99.5 552.75h1.5M185 552.75h1.5M102.5 554.25h1.5M119 554.25h1.5M135.5 554.25h1.5M150.5 554.25h1.5M209 554.25h1.5M105.5 555.75h1.5M122 555.75h1.5M137 555.75h1.5M125 557.25h1.5M155 557.25h1.5M167 557.25h3M126.5 558.75h1.5M212 558.75h1.5M113 560.25h1.5M158 560.25h1.5M116 561.75h1.5M132.5 561.75h1.5M147.5 561.75h1.5M134 563.25h1.5M137 564.75h1.5M152 564.75h1.5M188 564.75h1.5M107 566.25h1.5M123.5 566.25h1.5M138.5 566.25h1.5M201.5 566.25h1.5M212 566.25h1.5M155 567.75h1.5M203 567.75h1.5M128 569.25h1.5M143 569.25h1.5M171.5 569.25h1.5M183.5 569.25h1.5M204.5 569.25h1.5M114.5 570.75h1.5M131 570.75h1.5M206 570.75h1.5M117.5 572.25h1.5M147.5 572.25h1.5M162.5 572.25h1.5M135.5 573.75h1.5M122 575.25h1.5M152 575.25h1.5M179 575.25h1.5M125 576.75h1.5M140 576.75h1.5M155 576.75h1.5M168.5 576.75h1.5M210.5 576.75h1.5M129.5 579.75h1.5M144.5 579.75h1.5M161 581.25h1.5M173 581.25h1.5M134 582.75h1.5M149 582.75h1.5M120.5 584.25h1.5M150.5 584.25h1.5M188 584.25h1.5M138.5 585.75h1.5M153.5 585.75h1.5M167 585.75h1.5M189.5 585.75h1.5M155 587.25h1.5M213.5 587.25h1.5M143 588.75h1.5M170 588.75h1.5M216.5 588.75h1.5M159.5 590.25h1.5M183.5 590.25h1.5M132.5 591.75h1.5M147.5 591.75h1.5M161 591.75h1.5M174.5 591.75h1.5M149 593.25h1.5M153.5 596.25h1.5M167 596.25h1.5M191 596.25h1.5M200 596.25h1.5M168.5 597.75h1.5M180.5 597.75h1.5M192.5 597.75h1.5M201.5 597.75h1.5M194 599.25h1.5M159.5 600.75h1.5M195.5 600.75h1.5M147.5 602.25h1.5M161 602.25h1.5M174.5 602.25h1.5M197 602.25h1.5M176 603.75h1.5M177.5 605.25h1.5M153.5 606.75h1.5M167 606.75h1.5M179 606.75h1.5M168.5 608.25h1.5M180.5 608.25h1.5M192.5 608.25h1.5M201.5 608.25h1.5M159.5 611.25h1.5M216.5 611.25h1.5M176 614.25h1.5M177.5 615.75h1.5M179 617.25h1.5M200 617.25h1.5M168.5 618.75h1.5M180.5 618.75h1.5" stroke="#742F9A"/>
<path d="M222.5 408.75h1.5M222.5 410.25h1.5M221 491.25h1.5M302 491.25h4.5M309.5 491.25h3M359 491.25h1.5M219.5 495.75h1.5M185 497.25h1.5M195.5 497.25h1.5M173 498.75h1.5M149 501.75h1.5M167 503.25h1.5M111.5 506.25h1.5M128 506.25h1.5M180.5 506.25h1.5M201.5 506.25h1.5M173 507.75h1.5M134 510.75h1.5M167 512.25h1.5M90.5 513.75h1.5M141.5 513.75h1.5M95 515.25h1.5M98 516.75h1.5M183.5 516.75h1.5M101 518.25h1.5M147.5 518.25h1.5M176 518.25h1.5M104 519.75h1.5M135.5 519.75h1.5M152 519.75h1.5M200 519.75h1.5M107 521.25h1.5M189.5 521.25h1.5M110 522.75h1.5M215 522.75h1.5M113 524.25h1.5M159.5 524.25h1.5M116 525.75h1.5M119 527.25h1.5M134 527.25h3M122 528.75h1.5M125 530.25h1.5M194 531.75h1.5M129.5 533.25h1.5M144.5 533.25h1.5M173 533.25h1.5M185 533.25h1.5M122 537.75h1.5M138.5 537.75h1.5M177.5 537.75h1.5M125 539.25h1.5M140 539.25h1.5M210.5 539.25h1.5M213.5 539.25h1.5M128 540.75h1.5M156.5 540.75h1.5M146 542.25h1.5M132.5 543.75h1.5M161 543.75h1.5M207.5 543.75h1.5M135.5 545.25h1.5M138.5 546.75h1.5M152 546.75h1.5M125 548.25h1.5M140 548.25h1.5M143 549.75h1.5M156.5 549.75h1.5M171.5 551.25h1.5M132.5 552.75h1.5M140 557.25h1.5M129.5 560.25h1.5M144.5 560.25h1.5M173 561.75h1.5M149 563.25h1.5M162.5 563.25h1.5M186.5 563.25h1.5M165.5 564.75h1.5M189.5 564.75h1.5M198.5 564.75h1.5M153.5 566.25h1.5M200 566.25h1.5M141.5 567.75h1.5M168.5 567.75h1.5M180.5 567.75h1.5M201.5 567.75h1.5M158 569.25h1.5M203 569.25h1.5M213.5 569.25h1.5M146 570.75h1.5M159.5 570.75h1.5M204.5 570.75h1.5M206 572.25h3M150.5 573.75h1.5M164 573.75h1.5M176 573.75h1.5M165.5 575.25h1.5M180.5 576.75h1.5M156.5 578.25h1.5M170 578.25h1.5M215 578.25h1.5M171.5 579.75h1.5M162.5 582.75h1.5M186.5 582.75h1.5M177.5 584.25h1.5M179 585.75h1.5M168.5 587.25h1.5M180.5 587.25h1.5M182 588.75h1.5M176 593.25h1.5M177.5 594.75h1.5M179 596.25h1.5M213.5 597.75h1.5M203 599.25h1.5M213.5 608.25h1.5M203 609.75h1.5M216.5 609.75h1.5M201.5 618.75h1.5M203 620.25h1.5" stroke="#7C2F9B"/>
<path d="M224 360.75h1.5M222.5 383.25h3M222.5 384.75h3M222.5 386.25h3M222.5 387.75h3M224 389.25h1.5M224 390.75h1.5M222.5 405.75h1.5M222.5 407.25h1.5M222.5 411.75h1.5M222.5 413.25h1.5M300.5 491.25h1.5M312.5 491.25h3M329 491.25h16.5M357.5 491.25h1.5M221 492.75h1.5M147.5 500.25h1.5M188 500.25h1.5M198.5 500.25h1.5M104 501.75h1.5M198.5 503.25h1.5M107 504.75h1.5M200 504.75h1.5M168.5 506.25h1.5M162.5 510.75h1.5M186.5 510.75h1.5M105.5 512.25h1.5M137 512.25h3M108.5 513.75h1.5M192.5 513.75h1.5M213.5 513.75h1.5M111.5 515.25h1.5M156.5 515.25h1.5M171.5 515.25h1.5M183.5 515.25h1.5M204.5 515.25h1.5M114.5 516.75h1.5M117.5 518.25h1.5M120.5 519.75h1.5M137 519.75h1.5M165.5 519.75h1.5M189.5 519.75h1.5M123.5 521.25h1.5M138.5 521.25h1.5M126.5 522.75h1.5M180.5 522.75h1.5M201.5 522.75h1.5M129.5 524.25h1.5M132.5 525.75h1.5M147.5 525.75h1.5M197 525.75h1.5M149 527.25h1.5M162.5 527.25h3M186.5 527.25h1.5M197 527.25h1.5M137 528.75h1.5M155 530.25h1.5M167 530.25h3M143 531.75h1.5M171.5 533.25h1.5M194 533.25h1.5M215 533.25h1.5M132.5 534.75h1.5M135.5 536.25h1.5M150.5 536.25h1.5M152 537.75h1.5M143 540.75h1.5M192.5 540.75h3M173 542.25h1.5M183.5 542.25h3M216.5 542.25h1.5M147.5 543.75h1.5M150.5 545.25h1.5M165.5 546.75h1.5M179 546.75h1.5M155 548.25h1.5M192.5 549.75h1.5M159.5 551.25h1.5M183.5 551.25h1.5M195.5 551.25h1.5M147.5 552.75h1.5M161 552.75h1.5M186.5 552.75h1.5M164 554.25h1.5M152 555.75h1.5M165.5 555.75h1.5M177.5 555.75h1.5M210.5 555.75h1.5M180.5 557.25h1.5M156.5 558.75h1.5M170 558.75h1.5M171.5 560.25h1.5M161 561.75h1.5M195.5 561.75h1.5M176 563.25h1.5M197 563.25h1.5M167 566.25h1.5M179 566.25h1.5M191 566.25h1.5M173 570.75h1.5M185 570.75h1.5M174.5 572.25h1.5M186.5 572.25h1.5M207.5 573.75h3M209 575.25h1.5M191 576.75h1.5M182 578.25h1.5M192.5 578.25h1.5M183.5 579.75h1.5M194 579.75h1.5M185 581.25h1.5M195.5 581.25h1.5M197 582.75h1.5M198.5 584.25h1.5M200 585.75h1.5M216.5 590.25h1.5M213.5 599.25h1.5M204.5 600.75h1.5M204.5 611.25h1.5" stroke="#84309B"/>
<path d="M222.5 360.75h1.5M224 362.25h1.5M224 363.75h1.5M222.5 374.25h1.5M222.5 375.75h1.5M222.5 377.25h1.5M222.5 378.75h3M222.5 380.25h3M222.5 381.75h3M222.5 389.25h1.5M222.5 390.75h1.5M224 392.25h1.5M222.5 402.75h1.5M222.5 404.25h1.5M224 407.25h1.5M224 408.75h1.5M224 410.25h1.5M224 411.75h1.5M224 413.25h1.5M222.5 414.75h3M222.5 416.25h1.5M224 488.25h1.5M225.5 489.75h1.5M297.5 491.25h3M315.5 491.25h1.5M326 491.25h3M345.5 491.25h1.5M225.5 492.75h1.5M306.5 492.75h7.5M222.5 494.25h1.5M225.5 495.75h1.5M116 498.75h3M162.5 498.75h1.5M119 500.25h1.5M138.5 503.25h1.5M108.5 504.75h1.5M123.5 504.75h1.5M93.5 506.25h1.5M110 506.25h1.5M143 506.25h1.5M96.5 507.75h1.5M113 507.75h1.5M195.5 507.75h1.5M99.5 509.25h1.5M116 509.25h1.5M102.5 510.75h1.5M119 510.75h1.5M149 510.75h3M197 510.75h1.5M122 512.25h1.5M125 513.75h1.5M210.5 513.75h1.5M128 515.25h1.5M131 516.75h1.5M216.5 516.75h1.5M134 518.25h1.5M149 518.25h1.5M150.5 519.75h1.5M212 521.25h1.5M141.5 522.75h1.5M168.5 522.75h3M144.5 524.25h1.5M158 524.25h1.5M173 525.75h3M140 530.25h1.5M156.5 531.75h1.5M159.5 533.25h1.5M147.5 534.75h1.5M161 534.75h1.5M165.5 537.75h1.5M179 537.75h1.5M155 539.25h1.5M168.5 539.25h1.5M170 540.75h1.5M159.5 542.25h1.5M164 545.25h1.5M176 545.25h1.5M209 546.75h1.5M168.5 548.25h1.5M170 549.75h1.5M216.5 551.25h1.5M174.5 552.75h1.5M197 552.75h1.5M176 554.25h1.5M210.5 557.25h1.5M182 558.75h1.5M215 558.75h1.5M183.5 560.25h1.5M194 560.25h1.5M185 561.75h1.5M177.5 564.75h1.5M192.5 567.75h1.5M194 569.25h1.5M216.5 569.25h1.5M195.5 570.75h1.5M188 573.75h1.5M189.5 575.25h1.5M215 579.75h1.5M201.5 587.25h1.5M203 588.75h1.5M206 602.25h1.5M213.5 609.75h1.5M206 612.75h1.5M207.5 614.25h1.5M213.5 620.25h3" stroke="#8C309C"/>
<path d="M222.5 362.25h1.5M224 365.25h1.5M222.5 372.75h1.5M224 375.75h1.5M224 377.25h1.5M222.5 392.25h1.5M224 393.75h1.5M224 405.75h1.5M224 416.25h1.5M222.5 417.75h3M222.5 419.25h3M222.5 432.75h1.5M222.5 434.25h1.5M222.5 435.75h3M222.5 437.25h3M222.5 438.75h3M222.5 440.25h3M222.5 441.75h3M222.5 443.25h3M224 444.75h1.5M222.5 488.25h1.5M221 489.75h1.5M227 491.25h1.5M251 491.25h7.5M270.5 491.25h16.5M296 491.25h1.5M324.5 491.25h1.5M347 491.25h1.5M356 491.25h1.5M303.5 492.75h3M314 492.75h3M341 492.75h7.5M224 494.25h1.5M342.5 495.75h12M99.5 498.75h1.5M195.5 498.75h1.5M207.5 498.75h1.5M206 500.25h1.5M102.5 501.75h1.5M119 501.75h3M90.5 504.75h1.5M125 504.75h1.5M126.5 506.25h1.5M141.5 506.25h1.5M158 507.75h1.5M132.5 509.25h1.5M173 509.25h1.5M135.5 510.75h1.5M140 513.75h1.5M143 515.25h1.5M158 515.25h1.5M192.5 515.25h1.5M216.5 515.25h1.5M146 516.75h1.5M206 518.25h1.5M164 519.75h1.5M153.5 521.25h1.5M156.5 522.75h1.5M152 528.75h1.5M177.5 528.75h1.5M210.5 528.75h1.5M183.5 533.25h1.5M195.5 533.25h1.5M186.5 534.75h1.5M164 536.25h1.5M176 536.25h1.5M209 536.25h1.5M209 537.75h1.5M191 539.25h1.5M182 540.75h1.5M195.5 542.25h1.5M174.5 543.75h1.5M186.5 543.75h1.5M209 545.25h1.5M180.5 548.25h1.5M191 548.25h1.5M182 549.75h1.5M188 554.25h1.5M198.5 554.25h1.5M189.5 555.75h1.5M191 557.25h1.5M192.5 558.75h1.5M197 572.25h1.5M198.5 573.75h1.5M200 575.25h1.5M210.5 575.25h1.5M201.5 576.75h1.5M203 578.25h1.5M204.5 579.75h1.5M216.5 579.75h1.5M204.5 590.25h1.5M206 591.75h1.5M207.5 593.25h1.5M207.5 603.75h1.5M209 605.25h1.5M210.5 606.75h1.5M212 608.25h1.5M209 615.75h1.5" stroke="#97329D"/>
<path d="M222.5 363.75h1.5M222.5 371.25h1.5M224 374.25h1.5M222.5 393.75h1.5M224 395.25h1.5M222.5 401.25h1.5M224 404.25h1.5M222.5 420.75h3M224 422.25h1.5M222.5 429.75h1.5M222.5 431.25h1.5M224 432.75h1.5M224 434.25h1.5M222.5 444.75h1.5M224 446.25h1.5M222.5 456.75h1.5M222.5 458.25h1.5M222.5 459.75h1.5M222.5 461.25h1.5M222.5 462.75h1.5M222.5 464.25h1.5M360.5 489.75h1.5M219.5 491.25h1.5M246.5 491.25h4.5M258.5 491.25h3M269 491.25h1.5M287 491.25h1.5M317 491.25h1.5M348.5 491.25h1.5M354.5 491.25h1.5M302 492.75h1.5M317 492.75h1.5M330.5 492.75h10.5M348.5 492.75h1.5M360.5 492.75h1.5M221 494.25h1.5M255.5 495.75h9M284 495.75h10.5M308 495.75h16.5M338 495.75h4.5M354.5 495.75h3M206 497.25h1.5M185 498.75h1.5M101 500.25h1.5M117.5 500.25h1.5M177.5 501.75h1.5M105.5 503.25h1.5M137 503.25h1.5M179 503.25h1.5M153.5 504.75h3M168.5 504.75h1.5M129.5 507.75h1.5M159.5 507.75h1.5M186.5 509.25h1.5M209 510.75h1.5M152 512.25h1.5M177.5 512.25h3M159.5 516.75h1.5M162.5 518.25h1.5M201.5 521.25h1.5M182 522.75h1.5M161 525.75h1.5M188 527.25h1.5M198.5 527.25h1.5M165.5 528.75h1.5M180.5 530.25h1.5M210.5 530.25h1.5M170 531.75h1.5M192.5 531.75h1.5M174.5 534.75h1.5M180.5 539.25h1.5M188 545.25h1.5M207.5 545.25h1.5M189.5 546.75h1.5M200 555.75h1.5M209 555.75h1.5M201.5 557.25h1.5M206 581.25h1.5M207.5 582.75h1.5M209 584.25h1.5M210.5 585.75h1.5M209 594.75h1.5M212 597.75h1.5M215 599.25h1.5M210.5 617.25h1.5M212 618.75h1.5" stroke="#A2339E"/>
<path d="M222.5 365.25h1.5M224 366.75h1.5M222.5 369.75h1.5M224 372.75h1.5M222.5 395.25h1.5M224 396.75h1.5M222.5 399.75h1.5M224 402.75h1.5M221 404.25h1.5M221 405.75h1.5M221 407.25h1.5M221 408.75h1.5M221 410.25h1.5M222.5 422.25h1.5M224 423.75h1.5M222.5 428.25h1.5M234.5 429.75h1.5M224 431.25h1.5M222.5 446.25h1.5M224 447.75h1.5M222.5 455.25h1.5M224 458.25h1.5M224 459.75h1.5M224 461.25h1.5M224 462.75h1.5M224 464.25h1.5M222.5 465.75h3M222.5 467.25h3M222.5 468.75h1.5M222.5 480.75h1.5M321.5 480.75h4.5M222.5 482.25h1.5M303.5 489.75h4.5M357.5 489.75h3M231.5 491.25h4.5M245 491.25h1.5M261.5 491.25h1.5M267.5 491.25h1.5M288.5 491.25h1.5M294.5 491.25h1.5M318.5 491.25h6M350 491.25h4.5M219.5 492.75h1.5M252.5 492.75h7.5M275 492.75h13.5M300.5 492.75h1.5M318.5 492.75h1.5M329 492.75h1.5M350 492.75h1.5M359 492.75h1.5M227 495.75h1.5M230 495.75h16.5M251 495.75h4.5M264.5 495.75h6M278 495.75h6M294.5 495.75h4.5M305 495.75h3M324.5 495.75h4.5M333.5 495.75h4.5M357.5 495.75h3M132.5 498.75h1.5M122 503.25h1.5M140 504.75h1.5M179 504.75h1.5M212 506.25h1.5M144.5 507.75h1.5M147.5 509.25h1.5M164 510.75h1.5M155 513.75h1.5M170 515.25h1.5M206 516.75h1.5M174.5 518.25h1.5M177.5 519.75h1.5M188 519.75h1.5M167 521.25h1.5M200 521.25h1.5M171.5 524.25h1.5M185 525.75h1.5M195.5 525.75h1.5M176 527.25h1.5M182 531.75h1.5M216.5 533.25h1.5M197 534.75h1.5M188 536.25h1.5M207.5 536.25h1.5M189.5 537.75h1.5M197 543.75h1.5M206 543.75h1.5M207.5 554.25h1.5M212 557.25h1.5M203 558.75h1.5M204.5 560.25h1.5M215 560.25h1.5M206 561.75h1.5M213.5 567.75h1.5M212 576.75h1.5M213.5 588.75h1.5M210.5 596.25h1.5" stroke="#AE35A0"/>
<path d="M222.5 366.75h1.5M222.5 368.25h3M224 369.75h1.5M224 371.25h1.5M234.5 393.75h1.5M233 395.25h3M222.5 396.75h1.5M234.5 396.75h1.5M222.5 398.25h3M224 401.25h1.5M221 402.75h1.5M221 411.75h1.5M221 413.25h1.5M222.5 423.75h1.5M222.5 425.25h3M222.5 426.75h1.5M234.5 428.25h1.5M224 429.75h1.5M234.5 431.25h1.5M222.5 447.75h1.5M224 449.25h1.5M222.5 453.75h1.5M224 456.75h1.5M224 468.75h1.5M222.5 470.25h3M224 471.75h1.5M222.5 477.75h1.5M222.5 479.25h1.5M224 480.75h1.5M287 480.75h1.5M320 480.75h1.5M326 480.75h1.5M224 482.25h1.5M321.5 482.25h6M222.5 483.75h3M222.5 485.25h3M222.5 486.75h3M300.5 489.75h3M308 489.75h3M326 489.75h12M356 489.75h1.5M228.5 491.25h3M236 491.25h3M243.5 491.25h1.5M263 491.25h1.5M266 491.25h1.5M290 491.25h4.5M227 492.75h1.5M249.5 492.75h3M260 492.75h3M272 492.75h3M288.5 492.75h3M299 492.75h1.5M320 492.75h1.5M327.5 492.75h1.5M351.5 492.75h1.5M357.5 492.75h1.5M219.5 494.25h1.5M228.5 495.75h1.5M246.5 495.75h4.5M270.5 495.75h7.5M299 495.75h6M329 495.75h4.5M360.5 495.75h1.5M147.5 498.75h1.5M161 498.75h1.5M134 500.25h1.5M176 500.25h1.5M135.5 501.75h1.5M167 504.75h1.5M161 509.25h1.5M174.5 509.25h1.5M185 509.25h1.5M195.5 509.25h3M165.5 512.25h1.5M168.5 513.75h1.5M182 515.25h1.5M194 515.25h1.5M173 516.75h1.5M185 516.75h1.5M179 521.25h1.5M191 521.25h1.5M183.5 524.25h1.5M189.5 528.75h1.5M191 530.25h1.5M198.5 536.25h1.5M204.5 542.25h1.5M198.5 545.25h1.5M200 546.75h1.5M210.5 546.75h1.5M201.5 548.25h1.5M203 549.75h1.5M215 549.75h1.5M204.5 551.25h1.5M206 552.75h1.5M216.5 560.25h1.5M207.5 563.25h1.5M209 564.75h1.5M212 567.75h1.5M213.5 578.25h1.5M212 587.25h1.5M215 588.75h1.5M215 609.75h1.5" stroke="#B73897"/>
<path d="M221 371.25h1.5M221 372.75h1.5M221 374.25h1.5M221 375.75h1.5M221 377.25h1.5M221 378.75h1.5M221 380.25h1.5M221 381.75h1.5M221 383.25h1.5M221 384.75h1.5M221 386.25h1.5M225.5 386.25h1.5M221 387.75h1.5M225.5 387.75h1.5M225.5 389.25h1.5M225.5 390.75h1.5M225.5 392.25h1.5M233 392.25h3M233 393.75h1.5M233 396.75h1.5M234.5 398.25h1.5M221 399.75h1.5M224 399.75h1.5M221 401.25h1.5M221 414.75h1.5M224 426.75h1.5M234.5 426.75h1.5M224 428.25h1.5M234.5 432.75h1.5M222.5 449.25h1.5M222.5 450.75h3M222.5 452.25h1.5M224 455.25h1.5M222.5 471.75h1.5M222.5 476.25h1.5M224 479.25h1.5M285.5 480.75h1.5M288.5 480.75h3M327.5 480.75h1.5M320 482.25h1.5M327.5 482.25h1.5M227 489.75h1.5M272 489.75h4.5M297.5 489.75h3M311 489.75h1.5M324.5 489.75h1.5M338 489.75h6M354.5 489.75h1.5M239 491.25h1.5M242 491.25h1.5M264.5 491.25h1.5M233 492.75h6M248 492.75h1.5M263 492.75h1.5M270.5 492.75h1.5M291.5 492.75h1.5M297.5 492.75h1.5M321.5 492.75h1.5M326 492.75h1.5M353 492.75h1.5M356 492.75h1.5M149 500.25h1.5M174.5 500.25h1.5M150.5 501.75h1.5M152 503.25h1.5M177.5 503.25h1.5M180.5 504.75h1.5M156.5 506.25h1.5M170 506.25h1.5M215 506.25h1.5M191 513.75h1.5M204.5 516.75h1.5M203 522.75h1.5M212 522.75h1.5M194 524.25h1.5M200 528.75h1.5M206 534.75h1.5M200 537.75h1.5M210.5 537.75h1.5M201.5 539.25h1.5M203 540.75h1.5M213.5 549.75h1.5M210.5 566.25h1.5M215 569.25h1.5" stroke="#BF3C8B"/>
<path d="M221 360.75h1.5M225.5 360.75h1.5M233 360.75h3M225.5 362.25h1.5M234.5 362.25h1.5M234.5 363.75h1.5M221 369.75h1.5M225.5 381.75h1.5M225.5 383.25h1.5M225.5 384.75h1.5M221 389.25h1.5M225.5 393.75h1.5M221 398.25h1.5M233 398.25h1.5M234.5 399.75h1.5M221 416.25h1.5M234.5 425.25h1.5M233 426.75h1.5M221 428.25h1.5M233 428.25h1.5M236 428.25h1.5M221 429.75h1.5M233 429.75h1.5M236 429.75h1.5M221 431.25h1.5M233 431.25h1.5M236 431.25h1.5M221 432.75h1.5M221 434.25h1.5M234.5 434.25h1.5M221 435.75h1.5M221 437.25h1.5M221 438.75h1.5M221 440.25h1.5M221 441.75h1.5M224 452.25h1.5M224 453.75h1.5M221 455.25h1.5M221 456.75h1.5M221 458.25h1.5M221 459.75h1.5M221 461.25h1.5M221 462.75h1.5M222.5 473.25h3M222.5 474.75h1.5M224 477.75h1.5M323 479.25h1.5M284 480.75h1.5M291.5 480.75h1.5M318.5 480.75h1.5M357.5 480.75h4.5M360.5 482.25h1.5M221 488.25h1.5M225.5 488.25h1.5M252.5 489.75h3M269 489.75h3M276.5 489.75h7.5M294.5 489.75h3M312.5 489.75h1.5M323 489.75h1.5M344 489.75h1.5M353 489.75h1.5M240.5 491.25h1.5M228.5 492.75h4.5M239 492.75h1.5M246.5 492.75h1.5M264.5 492.75h1.5M269 492.75h1.5M293 492.75h4.5M323 492.75h3M354.5 492.75h1.5M225.5 494.25h1.5M308 494.25h7.5M342.5 494.25h7.5M186.5 498.75h1.5M176 501.75h1.5M165.5 503.25h1.5M171.5 507.75h1.5M176 510.75h1.5M188 510.75h1.5M180.5 513.75h1.5M186.5 518.25h1.5M198.5 519.75h1.5M192.5 522.75h1.5M209 528.75h1.5M201.5 530.25h1.5M204.5 533.25h1.5M213.5 540.75h1.5" stroke="#C84080"/>
<path d="M233 362.25h1.5M225.5 363.75h1.5M233 363.75h1.5M225.5 365.25h1.5M234.5 365.25h1.5M221 368.25h1.5M225.5 380.25h1.5M221 390.75h1.5M233 390.75h3M225.5 395.25h1.5M236 395.25h1.5M236 396.75h1.5M233 399.75h1.5M225.5 408.75h1.5M225.5 410.25h1.5M225.5 411.75h1.5M225.5 413.25h1.5M225.5 414.75h1.5M225.5 416.25h1.5M221 417.75h1.5M233 425.25h1.5M221 426.75h1.5M236 426.75h1.5M233 432.75h1.5M236 432.75h1.5M225.5 440.25h1.5M225.5 441.75h1.5M221 443.25h1.5M225.5 443.25h1.5M225.5 444.75h1.5M221 452.25h1.5M221 453.75h1.5M221 464.25h1.5M221 465.75h1.5M224 474.75h1.5M224 476.25h1.5M221 479.25h1.5M285.5 479.25h6M320 479.25h3M324.5 479.25h1.5M221 480.75h1.5M282.5 480.75h1.5M293 480.75h1.5M317 480.75h1.5M329 480.75h1.5M356 480.75h1.5M221 482.25h1.5M285.5 482.25h6M318.5 482.25h1.5M329 482.25h1.5M359 482.25h1.5M219.5 489.75h1.5M246.5 489.75h6M255.5 489.75h3M267.5 489.75h1.5M284 489.75h1.5M293 489.75h1.5M314 489.75h1.5M321.5 489.75h1.5M345.5 489.75h1.5M351.5 489.75h1.5M240.5 492.75h1.5M245 492.75h1.5M266 492.75h3M305 494.25h3M315.5 494.25h4.5M336.5 494.25h6M350 494.25h3M174.5 498.75h1.5M162.5 500.25h1.5M164 501.75h1.5M182 506.25h1.5M194 507.75h1.5M215 507.75h1.5M198.5 510.75h1.5M209 512.25h1.5M195.5 516.75h1.5M197 518.25h1.5M203 531.75h1.5M215 531.75h1.5M215 540.75h1.5M212 548.25h1.5M213.5 558.75h1.5" stroke="#CF4978"/>
<path d="M221 362.25h1.5M221 363.75h1.5M221 365.25h1.5M233 365.25h1.5M221 366.75h1.5M225.5 366.75h1.5M234.5 366.75h1.5M225.5 378.75h1.5M221 392.25h1.5M231.5 393.75h1.5M236 393.75h1.5M221 395.25h1.5M231.5 395.25h1.5M221 396.75h1.5M225.5 396.75h1.5M236 398.25h1.5M236 399.75h1.5M234.5 401.25h1.5M225.5 407.25h1.5M225.5 417.75h1.5M221 419.25h1.5M225.5 419.25h1.5M225.5 420.75h1.5M225.5 422.25h1.5M234.5 423.75h1.5M221 425.25h1.5M236 425.25h1.5M236 434.25h1.5M225.5 435.75h1.5M234.5 435.75h1.5M225.5 437.25h1.5M225.5 438.75h1.5M221 444.75h1.5M225.5 446.25h1.5M225.5 447.75h1.5M221 467.25h1.5M221 476.25h1.5M221 477.75h1.5M284 479.25h1.5M291.5 479.25h1.5M318.5 479.25h1.5M326 479.25h1.5M284 482.25h1.5M291.5 482.25h1.5M357.5 482.25h1.5M221 483.75h1.5M323 483.75h3M221 485.25h1.5M221 486.75h1.5M228.5 489.75h1.5M231.5 489.75h3M243.5 489.75h3M258.5 489.75h1.5M266 489.75h1.5M285.5 489.75h1.5M291.5 489.75h1.5M315.5 489.75h1.5M320 489.75h1.5M347 489.75h4.5M242 492.75h3M252.5 494.25h10.5M281 494.25h10.5M303.5 494.25h1.5M320 494.25h3M333.5 494.25h3M353 494.25h1.5M197 498.75h1.5M207.5 501.75h1.5M210.5 503.25h1.5M183.5 507.75h1.5M216.5 507.75h1.5M189.5 512.25h1.5M210.5 512.25h1.5M203 515.25h1.5M207.5 518.25h1.5M204.5 524.25h1.5M216.5 524.25h1.5M207.5 527.25h1.5M212 530.25h1.5" stroke="#D65370"/>
<path d="M236 363.75h1.5M233 366.75h1.5M225.5 368.25h1.5M225.5 377.25h1.5M233 389.25h3M231.5 392.25h1.5M236 392.25h1.5M221 393.75h1.5M231.5 396.75h1.5M225.5 398.25h1.5M231.5 398.25h1.5M219.5 401.25h1.5M233 401.25h1.5M219.5 402.75h1.5M234.5 402.75h1.5M219.5 404.25h1.5M219.5 405.75h1.5M225.5 405.75h1.5M219.5 407.25h1.5M219.5 408.75h1.5M219.5 410.25h1.5M221 420.75h1.5M221 422.25h1.5M221 423.75h1.5M225.5 423.75h1.5M233 423.75h1.5M225.5 425.25h1.5M225.5 434.25h1.5M233 434.25h1.5M236 435.75h1.5M221 446.25h1.5M221 447.75h1.5M221 449.25h1.5M225.5 449.25h1.5M221 450.75h1.5M225.5 461.25h1.5M234.5 461.25h1.5M225.5 462.75h1.5M234.5 462.75h1.5M225.5 464.25h1.5M221 468.75h1.5M221 474.75h1.5M282.5 479.25h1.5M293 479.25h1.5M317 479.25h1.5M327.5 479.25h1.5M254 480.75h3M281 480.75h1.5M294.5 480.75h1.5M315.5 480.75h1.5M330.5 480.75h1.5M354.5 480.75h1.5M293 482.25h1.5M317 482.25h1.5M330.5 482.25h1.5M356 482.25h1.5M321.5 483.75h1.5M326 483.75h3M225.5 486.75h1.5M360.5 488.25h1.5M230 489.75h1.5M234.5 489.75h1.5M242 489.75h1.5M260 489.75h1.5M264.5 489.75h1.5M287 489.75h4.5M317 489.75h3M227 494.25h1.5M236 494.25h4.5M251 494.25h1.5M263 494.25h3M275 494.25h6M291.5 494.25h3M302 494.25h1.5M323 494.25h1.5M330.5 494.25h3M354.5 494.25h1.5M209 501.75h1.5M210.5 504.75h1.5M192.5 506.25h1.5M200 512.25h1.5M201.5 513.75h1.5M213.5 515.25h1.5M215 524.25h1.5M206 525.75h1.5M212 539.25h1.5" stroke="#DD5B68"/>
<path d="M231.5 360.75h1.5M236 360.75h1.5M236 362.25h1.5M236 365.25h1.5M236 366.75h1.5M219.5 368.25h1.5M233 368.25h3M219.5 369.75h1.5M225.5 369.75h1.5M219.5 371.25h1.5M219.5 372.75h1.5M219.5 374.25h1.5M219.5 375.75h1.5M225.5 375.75h1.5M219.5 377.25h1.5M219.5 378.75h1.5M219.5 380.25h1.5M219.5 381.75h1.5M219.5 383.25h1.5M227 390.75h1.5M231.5 390.75h1.5M219.5 398.25h1.5M219.5 399.75h1.5M225.5 399.75h1.5M231.5 399.75h1.5M236 401.25h1.5M233 402.75h1.5M225.5 404.25h1.5M219.5 411.75h1.5M233 422.25h3M236 423.75h1.5M237.5 429.75h1.5M237.5 431.25h1.5M225.5 432.75h1.5M237.5 432.75h1.5M225.5 450.75h1.5M219.5 455.25h1.5M219.5 456.75h1.5M219.5 458.25h1.5M219.5 459.75h1.5M225.5 459.75h1.5M234.5 459.75h1.5M236 462.75h1.5M234.5 464.25h1.5M225.5 465.75h1.5M234.5 465.75h1.5M225.5 467.25h1.5M234.5 467.25h1.5M225.5 468.75h1.5M233 468.75h3M221 470.25h1.5M225.5 470.25h1.5M234.5 470.25h1.5M221 471.75h1.5M225.5 471.75h1.5M221 473.25h1.5M225.5 473.25h1.5M281 479.25h1.5M356 479.25h6M245 480.75h9M257 480.75h1.5M296 480.75h1.5M353 480.75h1.5M225.5 482.25h1.5M282.5 482.25h1.5M294.5 482.25h1.5M315.5 482.25h1.5M354.5 482.25h1.5M225.5 483.75h1.5M320 483.75h1.5M329 483.75h1.5M360.5 483.75h1.5M225.5 485.25h1.5M357.5 488.25h3M236 489.75h1.5M240.5 489.75h1.5M261.5 489.75h3M228.5 494.25h7.5M240.5 494.25h1.5M249.5 494.25h1.5M266 494.25h1.5M273.5 494.25h1.5M294.5 494.25h1.5M300.5 494.25h1.5M324.5 494.25h1.5M329 494.25h1.5M356 494.25h1.5M359 494.25h3M186.5 500.25h1.5M189.5 503.25h1.5M191 504.75h1.5M209 519.75h1.5M210.5 521.25h1.5M213.5 522.75h1.5" stroke="#E06260"/>
<path d="M231.5 362.25h1.5M231.5 363.75h1.5M219.5 365.25h1.5M219.5 366.75h1.5M236 368.25h1.5M234.5 369.75h3M225.5 371.25h1.5M225.5 372.75h1.5M344 372.75h1.5M225.5 374.25h1.5M219.5 384.75h1.5M219.5 386.25h1.5M227 387.75h1.5M233 387.75h1.5M227 389.25h1.5M231.5 389.25h1.5M236 390.75h1.5M227 392.25h1.5M227 393.75h1.5M219.5 396.75h1.5M225.5 401.25h1.5M225.5 402.75h1.5M236 402.75h1.5M234.5 404.25h1.5M219.5 413.25h1.5M219.5 414.75h1.5M219.5 425.25h1.5M231.5 425.25h1.5M219.5 426.75h1.5M225.5 426.75h1.5M231.5 426.75h1.5M219.5 428.25h1.5M225.5 428.25h1.5M231.5 428.25h1.5M237.5 428.25h1.5M219.5 429.75h1.5M231.5 429.75h1.5M219.5 431.25h1.5M225.5 431.25h1.5M231.5 431.25h1.5M219.5 432.75h1.5M219.5 434.25h1.5M237.5 434.25h1.5M219.5 435.75h1.5M233 435.75h1.5M219.5 437.25h1.5M234.5 437.25h3M219.5 438.75h1.5M219.5 440.25h1.5M219.5 450.75h1.5M219.5 452.25h1.5M225.5 452.25h1.5M219.5 453.75h1.5M225.5 458.25h1.5M234.5 458.25h1.5M236 459.75h1.5M219.5 461.25h1.5M236 461.25h1.5M219.5 462.75h1.5M219.5 464.25h1.5M236 464.25h1.5M233 465.75h1.5M233 467.25h1.5M233 470.25h1.5M234.5 471.75h1.5M219.5 474.75h1.5M219.5 476.25h1.5M219.5 477.75h1.5M284 477.75h6M219.5 479.25h1.5M252.5 479.25h4.5M294.5 479.25h1.5M315.5 479.25h1.5M329 479.25h1.5M353 479.25h3M219.5 480.75h1.5M225.5 480.75h1.5M258.5 480.75h1.5M314 480.75h1.5M332 480.75h1.5M219.5 482.25h1.5M245 482.25h6M296 482.25h1.5M332 482.25h1.5M353 482.25h1.5M219.5 483.75h1.5M318.5 483.75h1.5M330.5 483.75h1.5M357.5 483.75h3M219.5 488.25h1.5M227 488.25h1.5M302 488.25h4.5M324.5 488.25h10.5M354.5 488.25h3M237.5 489.75h3M242 494.25h3M248 494.25h1.5M267.5 494.25h6M296 494.25h4.5M326 494.25h3M357.5 494.25h1.5M206 498.75h1.5M197 500.25h1.5M188 501.75h1.5M209 503.25h1.5M201.5 504.75h1.5M203 506.25h1.5M207.5 510.75h1.5M213.5 531.75h1.5" stroke="#E46958"/>
<path d="M227 360.75h1.5M248 360.75h4.5M299 360.75h7.5M359 360.75h3M249.5 362.25h3M300.5 362.25h6M219.5 363.75h1.5M249.5 363.75h4.5M302 363.75h4.5M231.5 365.25h1.5M251 365.25h3M231.5 366.75h1.5M339.5 368.25h4.5M233 369.75h1.5M339.5 369.75h6M234.5 371.25h3M339.5 371.25h7.5M236 372.75h1.5M284 372.75h4.5M341 372.75h3M345.5 372.75h3M285.5 374.25h4.5M342.5 374.25h7.5M285.5 375.75h4.5M344 375.75h6M287 377.25h4.5M347 377.25h1.5M324.5 383.25h3M227 384.75h1.5M324.5 384.75h6M227 386.25h1.5M324.5 386.25h7.5M219.5 387.75h1.5M234.5 387.75h1.5M326 387.75h7.5M327.5 389.25h6M330.5 390.75h3M230 392.25h1.5M219.5 393.75h1.5M230 393.75h1.5M219.5 395.25h1.5M227 395.25h1.5M230 395.25h1.5M237.5 396.75h1.5M237.5 398.25h1.5M237.5 399.75h1.5M311 399.75h3M231.5 401.25h1.5M311 401.25h4.5M312.5 402.75h4.5M233 404.25h1.5M353 410.25h4.5M353 411.75h7.5M354.5 413.25h7.5M356 414.75h6M219.5 416.25h1.5M357.5 416.25h4.5M233 420.75h3M219.5 422.25h1.5M236 422.25h1.5M219.5 423.75h1.5M231.5 423.75h1.5M338 425.25h4.5M237.5 426.75h1.5M339.5 426.75h4.5M341 428.25h4.5M225.5 429.75h1.5M231.5 432.75h1.5M237.5 435.75h1.5M219.5 441.75h1.5M219.5 449.25h1.5M225.5 453.75h1.5M225.5 455.25h1.5M225.5 456.75h1.5M234.5 456.75h1.5M233 458.25h1.5M236 458.25h1.5M233 459.75h1.5M233 461.25h1.5M351.5 461.25h4.5M233 462.75h1.5M353 462.75h4.5M233 464.25h1.5M354.5 464.25h3M219.5 465.75h1.5M236 465.75h1.5M233 471.75h1.5M219.5 473.25h1.5M234.5 473.25h1.5M225.5 474.75h1.5M282.5 477.75h1.5M290 477.75h1.5M318.5 477.75h6M225.5 479.25h1.5M251 479.25h1.5M257 479.25h1.5M279.5 479.25h1.5M296 479.25h1.5M314 479.25h1.5M351.5 479.25h1.5M243.5 480.75h1.5M260 480.75h1.5M279.5 480.75h1.5M297.5 480.75h1.5M351.5 480.75h1.5M251 482.25h9M281 482.25h1.5M314 482.25h1.5M351.5 482.25h1.5M287 483.75h6M317 483.75h1.5M356 483.75h1.5M219.5 485.25h1.5M324.5 485.25h1.5M219.5 486.75h1.5M270.5 488.25h6M297.5 488.25h4.5M306.5 488.25h3M321.5 488.25h3M335 488.25h4.5M353 488.25h1.5M245 494.25h3M200 503.25h1.5M212 504.75h1.5M204.5 507.75h1.5M206 509.25h1.5M215 515.25h1.5" stroke="#E87050"/>
<path d="M219.5 360.75h1.5M246.5 360.75h1.5M252.5 360.75h1.5M297.5 360.75h1.5M306.5 360.75h1.5M357.5 360.75h1.5M219.5 362.25h1.5M227 362.25h1.5M246.5 362.25h3M252.5 362.25h3M299 362.25h1.5M306.5 362.25h1.5M359 362.25h3M227 363.75h1.5M248 363.75h1.5M254 363.75h1.5M300.5 363.75h1.5M306.5 363.75h3M227 365.25h1.5M249.5 365.25h1.5M254 365.25h1.5M302 365.25h7.5M338 365.25h4.5M227 366.75h1.5M237.5 366.75h1.5M251 366.75h6M305 366.75h3M336.5 366.75h7.5M231.5 368.25h1.5M237.5 368.25h1.5M252.5 368.25h3M336.5 368.25h3M344 368.25h3M237.5 369.75h1.5M282.5 369.75h4.5M336.5 369.75h3M345.5 369.75h3M233 371.25h1.5M237.5 371.25h1.5M282.5 371.25h7.5M338 371.25h1.5M347 371.25h3M233 372.75h3M237.5 372.75h1.5M282.5 372.75h1.5M288.5 372.75h1.5M339.5 372.75h1.5M348.5 372.75h3M234.5 374.25h6M282.5 374.25h3M290 374.25h1.5M339.5 374.25h3M350 374.25h1.5M236 375.75h6M284 375.75h1.5M290 375.75h3M341 375.75h3M350 375.75h3M236 377.25h6M285.5 377.25h1.5M291.5 377.25h1.5M344 377.25h3M348.5 377.25h4.5M237.5 378.75h6M287 378.75h7.5M345.5 378.75h6M237.5 380.25h6M288.5 380.25h4.5M323 380.25h3M227 381.75h1.5M237.5 381.75h6M321.5 381.75h7.5M227 383.25h1.5M321.5 383.25h3M327.5 383.25h3M270.5 384.75h1.5M323 384.75h1.5M330.5 384.75h1.5M234.5 386.25h1.5M269 386.25h6M323 386.25h1.5M332 386.25h1.5M231.5 387.75h1.5M270.5 387.75h6M324.5 387.75h1.5M333.5 387.75h1.5M219.5 389.25h1.5M230 389.25h1.5M236 389.25h1.5M270.5 389.25h7.5M326 389.25h1.5M333.5 389.25h3M219.5 390.75h1.5M228.5 390.75h3M272 390.75h6M327.5 390.75h3M333.5 390.75h3M219.5 392.25h1.5M228.5 392.25h1.5M273.5 392.25h6M329 392.25h7.5M228.5 393.75h1.5M275 393.75h3M332 393.75h3M237.5 395.25h1.5M227 396.75h1.5M230 396.75h1.5M308 396.75h6M230 398.25h1.5M308 398.25h7.5M308 399.75h3M314 399.75h3M237.5 401.25h1.5M309.5 401.25h1.5M315.5 401.25h3M231.5 402.75h1.5M258.5 402.75h3M311 402.75h1.5M317 402.75h3M236 404.25h1.5M260 404.25h3M312.5 404.25h7.5M234.5 405.75h1.5M261.5 405.75h1.5M314 405.75h6M317 407.25h1.5M350 407.25h6M350 408.75h9M350 410.25h3M357.5 410.25h3M296 411.75h1.5M351.5 411.75h1.5M360.5 411.75h1.5M296 413.25h4.5M351.5 413.25h3M296 414.75h6M353 414.75h3M297.5 416.25h6M354.5 416.25h3M219.5 417.75h1.5M299 417.75h4.5M357.5 417.75h4.5M219.5 419.25h1.5M300.5 419.25h3M359 419.25h3M219.5 420.75h1.5M231.5 422.25h1.5M335 422.25h6M335 423.75h9M237.5 425.25h1.5M336.5 425.25h1.5M342.5 425.25h3M336.5 426.75h3M344 426.75h3M338 428.25h3M345.5 428.25h3M339.5 429.75h9M342.5 431.25h6M239 432.75h1.5M323 435.75h1.5M233 437.25h1.5M237.5 437.25h1.5M321.5 437.25h6M234.5 438.75h3M321.5 438.75h7.5M323 440.25h7.5M227 441.75h1.5M324.5 441.75h7.5M219.5 443.25h1.5M227 443.25h1.5M326 443.25h6M219.5 444.75h1.5M227 444.75h1.5M219.5 446.25h1.5M227 446.25h1.5M219.5 447.75h1.5M309.5 452.25h3M311 453.75h3M233 456.75h1.5M348.5 458.25h6M348.5 459.75h7.5M348.5 461.25h3M356 461.25h3M350 462.75h3M357.5 462.75h3M351.5 464.25h3M357.5 464.25h4.5M354.5 465.75h7.5M219.5 467.25h1.5M236 467.25h1.5M219.5 468.75h1.5M231.5 468.75h1.5M236 468.75h1.5M219.5 470.25h1.5M236 470.25h1.5M335 470.25h3M219.5 471.75h1.5M236 471.75h1.5M333.5 471.75h7.5M233 473.25h1.5M335 473.25h7.5M234.5 474.75h1.5M336.5 474.75h7.5M225.5 476.25h1.5M338 476.25h6M225.5 477.75h1.5M281 477.75h1.5M291.5 477.75h3M315.5 477.75h3M324.5 477.75h1.5M243.5 479.25h7.5M258.5 479.25h1.5M330.5 479.25h1.5M350 479.25h1.5M242 480.75h1.5M261.5 480.75h1.5M312.5 480.75h1.5M333.5 480.75h1.5M350 480.75h1.5M243.5 482.25h1.5M260 482.25h1.5M297.5 482.25h1.5M333.5 482.25h1.5M285.5 483.75h1.5M293 483.75h1.5M332 483.75h1.5M354.5 483.75h1.5M321.5 485.25h3M326 485.25h4.5M360.5 486.75h1.5M267.5 488.25h3M276.5 488.25h4.5M293 488.25h4.5M309.5 488.25h1.5M320 488.25h1.5M339.5 488.25h3M351.5 488.25h1.5M207.5 500.25h1.5M198.5 501.75h1.5M212 513.75h1.5" stroke="#E9784C"/>
<path d="M230 360.75h1.5M245 360.75h1.5M254 360.75h1.5M296 360.75h1.5M308 360.75h1.5M356 360.75h1.5M245 362.25h1.5M255.5 362.25h1.5M297.5 362.25h1.5M308 362.25h3M336.5 362.25h3M357.5 362.25h1.5M246.5 363.75h1.5M255.5 363.75h1.5M299 363.75h1.5M309.5 363.75h1.5M335 363.75h7.5M359 363.75h3M237.5 365.25h1.5M248 365.25h1.5M255.5 365.25h3M300.5 365.25h1.5M309.5 365.25h1.5M333.5 365.25h4.5M342.5 365.25h3M360.5 365.25h1.5M249.5 366.75h1.5M257 366.75h1.5M279.5 366.75h6M302 366.75h3M308 366.75h3M333.5 366.75h3M344 366.75h3M227 368.25h1.5M249.5 368.25h3M255.5 368.25h3M279.5 368.25h9M303.5 368.25h7.5M335 368.25h1.5M347 368.25h1.5M227 369.75h1.5M231.5 369.75h1.5M251 369.75h7.5M279.5 369.75h3M287 369.75h3M306.5 369.75h1.5M335 369.75h1.5M348.5 369.75h1.5M231.5 371.25h1.5M239 371.25h1.5M254 371.25h3M279.5 371.25h3M290 371.25h1.5M336.5 371.25h1.5M350 371.25h1.5M239 372.75h1.5M281 372.75h1.5M290 372.75h3M336.5 372.75h3M351.5 372.75h1.5M233 374.25h1.5M240.5 374.25h1.5M281 374.25h1.5M291.5 374.25h1.5M338 374.25h1.5M351.5 374.25h1.5M234.5 375.75h1.5M242 375.75h1.5M282.5 375.75h1.5M293 375.75h1.5M339.5 375.75h1.5M353 375.75h1.5M234.5 377.25h1.5M242 377.25h1.5M284 377.25h1.5M293 377.25h3M341 377.25h3M353 377.25h1.5M236 378.75h1.5M243.5 378.75h1.5M285.5 378.75h1.5M294.5 378.75h1.5M320 378.75h7.5M344 378.75h1.5M351.5 378.75h4.5M227 380.25h1.5M236 380.25h1.5M243.5 380.25h1.5M287 380.25h1.5M293 380.25h3M320 380.25h3M326 380.25h3M345.5 380.25h9M236 381.75h1.5M243.5 381.75h1.5M269 381.75h1.5M288.5 381.75h7.5M318.5 381.75h3M329 381.75h1.5M348.5 381.75h4.5M236 383.25h9M267.5 383.25h6M290 383.25h4.5M320 383.25h1.5M330.5 383.25h1.5M234.5 384.75h10.5M267.5 384.75h3M272 384.75h3M320 384.75h3M332 384.75h1.5M233 386.25h1.5M236 386.25h1.5M267.5 386.25h1.5M275 386.25h1.5M321.5 386.25h1.5M333.5 386.25h1.5M228.5 387.75h3M236 387.75h1.5M267.5 387.75h3M276.5 387.75h1.5M323 387.75h1.5M335 387.75h1.5M228.5 389.25h1.5M269 389.25h1.5M278 389.25h1.5M324.5 389.25h1.5M336.5 389.25h1.5M269 390.75h3M278 390.75h3M326 390.75h1.5M336.5 390.75h1.5M270.5 392.25h3M279.5 392.25h1.5M327.5 392.25h1.5M336.5 392.25h3M237.5 393.75h1.5M272 393.75h3M278 393.75h3M306.5 393.75h4.5M329 393.75h3M335 393.75h4.5M228.5 395.25h1.5M273.5 395.25h7.5M305 395.25h9M330.5 395.25h7.5M228.5 396.75h1.5M276.5 396.75h4.5M305 396.75h3M314 396.75h1.5M227 398.25h1.5M255.5 398.25h4.5M305 398.25h3M315.5 398.25h1.5M230 399.75h1.5M255.5 399.75h6M306.5 399.75h1.5M317 399.75h1.5M255.5 401.25h7.5M308 401.25h1.5M318.5 401.25h1.5M237.5 402.75h1.5M257 402.75h1.5M261.5 402.75h3M308 402.75h3M320 402.75h1.5M231.5 404.25h1.5M237.5 404.25h1.5M257 404.25h3M263 404.25h3M309.5 404.25h3M320 404.25h3M350 404.25h3M233 405.75h1.5M236 405.75h1.5M258.5 405.75h3M263 405.75h3M311 405.75h3M320 405.75h3M347 405.75h9M260 407.25h6M314 407.25h3M318.5 407.25h4.5M347 407.25h3M356 407.25h3M261.5 408.75h4.5M293 408.75h3M315.5 408.75h6M347 408.75h3M359 408.75h1.5M227 410.25h1.5M293 410.25h6M348.5 410.25h1.5M360.5 410.25h1.5M227 411.75h1.5M293 411.75h3M297.5 411.75h4.5M348.5 411.75h3M227 413.25h1.5M293 413.25h3M300.5 413.25h3M350 413.25h1.5M227 414.75h1.5M246.5 414.75h1.5M293 414.75h3M302 414.75h3M351.5 414.75h1.5M227 416.25h1.5M246.5 416.25h3M294.5 416.25h3M303.5 416.25h1.5M353 416.25h1.5M227 417.75h1.5M246.5 417.75h4.5M296 417.75h3M303.5 417.75h3M354.5 417.75h3M227 419.25h1.5M233 419.25h3M248 419.25h4.5M297.5 419.25h3M303.5 419.25h3M333.5 419.25h6M357.5 419.25h1.5M227 420.75h1.5M231.5 420.75h1.5M236 420.75h1.5M249.5 420.75h1.5M299 420.75h7.5M332 420.75h9M359 420.75h3M227 422.25h1.5M302 422.25h3M332 422.25h3M341 422.25h3M227 423.75h1.5M237.5 423.75h1.5M333.5 423.75h1.5M344 423.75h1.5M281 425.25h4.5M333.5 425.25h3M345.5 425.25h1.5M281 426.75h6M335 426.75h1.5M347 426.75h1.5M239 428.25h1.5M281 428.25h7.5M336.5 428.25h1.5M348.5 428.25h1.5M239 429.75h1.5M282.5 429.75h7.5M338 429.75h1.5M348.5 429.75h3M239 431.25h1.5M284 431.25h6M339.5 431.25h3M348.5 431.25h3M285.5 432.75h4.5M342.5 432.75h9M231.5 434.25h1.5M239 434.25h1.5M318.5 434.25h7.5M344 434.25h6M239 435.75h1.5M318.5 435.75h4.5M324.5 435.75h3M318.5 437.25h3M327.5 437.25h3M227 438.75h1.5M320 438.75h1.5M329 438.75h3M227 440.25h1.5M321.5 440.25h1.5M330.5 440.25h3M323 441.75h1.5M332 441.75h1.5M324.5 443.25h1.5M332 443.25h3M326 444.75h9M360.5 444.75h1.5M329 446.25h4.5M360.5 446.25h1.5M227 447.75h1.5M306.5 447.75h3M360.5 447.75h1.5M227 449.25h1.5M305 449.25h7.5M306.5 450.75h7.5M306.5 452.25h3M312.5 452.25h3M308 453.75h3M314 453.75h3M233 455.25h3M309.5 455.25h9M348.5 455.25h1.5M236 456.75h1.5M312.5 456.75h4.5M345.5 456.75h9M345.5 458.25h3M354.5 458.25h1.5M237.5 459.75h1.5M345.5 459.75h3M356 459.75h3M237.5 461.25h1.5M347 461.25h1.5M359 461.25h1.5M237.5 462.75h1.5M294.5 462.75h3M348.5 462.75h1.5M360.5 462.75h1.5M237.5 464.25h1.5M294.5 464.25h4.5M350 464.25h1.5M231.5 465.75h1.5M296 465.75h4.5M351.5 465.75h3M231.5 467.25h1.5M354.5 467.25h7.5M332 468.75h6M357.5 468.75h4.5M231.5 470.25h1.5M330.5 470.25h4.5M338 470.25h3M231.5 471.75h1.5M332 471.75h1.5M341 471.75h1.5M236 473.25h1.5M333.5 473.25h1.5M342.5 473.25h3M233 474.75h1.5M236 474.75h1.5M333.5 474.75h3M344 474.75h3M281 476.25h7.5M335 476.25h3M344 476.25h4.5M252.5 477.75h4.5M279.5 477.75h1.5M314 477.75h1.5M326 477.75h1.5M335 477.75h22.5M242 479.25h1.5M260 479.25h3M278 479.25h1.5M297.5 479.25h1.5M312.5 479.25h1.5M332 479.25h12M345.5 479.25h4.5M240.5 480.75h1.5M263 480.75h1.5M278 480.75h1.5M299 480.75h1.5M335 480.75h1.5M348.5 480.75h1.5M242 482.25h1.5M261.5 482.25h1.5M279.5 482.25h1.5M299 482.25h1.5M312.5 482.25h1.5M348.5 482.25h3M246.5 483.75h4.5M284 483.75h1.5M294.5 483.75h3M315.5 483.75h1.5M351.5 483.75h3M320 485.25h1.5M330.5 485.25h1.5M357.5 485.25h4.5M323 486.75h9M357.5 486.75h3M228.5 488.25h1.5M243.5 488.25h12M266 488.25h1.5M281 488.25h1.5M291.5 488.25h1.5M311 488.25h1.5M342.5 488.25h1.5M350 488.25h1.5" stroke="#EA8048"/>
<path d="M228.5 360.75h1.5M237.5 360.75h1.5M243.5 360.75h1.5M255.5 360.75h1.5M269 360.75h3M294.5 360.75h1.5M309.5 360.75h1.5M330.5 360.75h10.5M354.5 360.75h1.5M230 362.25h1.5M237.5 362.25h1.5M278 362.25h4.5M296 362.25h1.5M311 362.25h1.5M329 362.25h7.5M339.5 362.25h3M356 362.25h1.5M230 363.75h1.5M237.5 363.75h1.5M245 363.75h1.5M257 363.75h1.5M276.5 363.75h7.5M297.5 363.75h1.5M311 363.75h3M329 363.75h6M342.5 363.75h3M357.5 363.75h1.5M230 365.25h1.5M246.5 365.25h1.5M258.5 365.25h1.5M276.5 365.25h10.5M299 365.25h1.5M311 365.25h3M330.5 365.25h3M345.5 365.25h1.5M359 365.25h1.5M230 366.75h1.5M248 366.75h1.5M258.5 366.75h1.5M276.5 366.75h3M285.5 366.75h3M300.5 366.75h1.5M311 366.75h4.5M330.5 366.75h3M347 366.75h1.5M360.5 366.75h1.5M258.5 368.25h3M276.5 368.25h3M288.5 368.25h1.5M302 368.25h1.5M311 368.25h4.5M332 368.25h3M348.5 368.25h1.5M239 369.75h1.5M249.5 369.75h1.5M258.5 369.75h3M276.5 369.75h3M290 369.75h1.5M303.5 369.75h3M308 369.75h7.5M333.5 369.75h1.5M350 369.75h1.5M227 371.25h1.5M251 371.25h3M257 371.25h4.5M278 371.25h1.5M291.5 371.25h1.5M305 371.25h9M335 371.25h1.5M351.5 371.25h1.5M231.5 372.75h1.5M240.5 372.75h1.5M252.5 372.75h7.5M278 372.75h3M308 372.75h4.5M353 372.75h1.5M242 374.25h1.5M255.5 374.25h3M279.5 374.25h1.5M293 374.25h1.5M318.5 374.25h4.5M336.5 374.25h1.5M353 374.25h3M233 375.75h1.5M243.5 375.75h1.5M281 375.75h1.5M294.5 375.75h1.5M317 375.75h9M338 375.75h1.5M354.5 375.75h1.5M243.5 377.25h1.5M282.5 377.25h1.5M296 377.25h1.5M315.5 377.25h12M354.5 377.25h3M234.5 378.75h1.5M245 378.75h1.5M266 378.75h4.5M284 378.75h1.5M296 378.75h3M315.5 378.75h4.5M327.5 378.75h1.5M342.5 378.75h1.5M356 378.75h3M234.5 380.25h1.5M245 380.25h1.5M264.5 380.25h7.5M285.5 380.25h1.5M296 380.25h3M315.5 380.25h4.5M329 380.25h1.5M344 380.25h1.5M354.5 380.25h6M234.5 381.75h1.5M245 381.75h3M264.5 381.75h4.5M270.5 381.75h3M287 381.75h1.5M296 381.75h4.5M317 381.75h1.5M330.5 381.75h1.5M345.5 381.75h3M353 381.75h7.5M234.5 383.25h1.5M245 383.25h3M264.5 383.25h3M273.5 383.25h1.5M288.5 383.25h1.5M294.5 383.25h6M317 383.25h3M332 383.25h1.5M347 383.25h13.5M245 384.75h3M264.5 384.75h3M275 384.75h1.5M290 384.75h9M318.5 384.75h1.5M333.5 384.75h1.5M350 384.75h9M228.5 386.25h1.5M231.5 386.25h1.5M237.5 386.25h10.5M264.5 386.25h3M276.5 386.25h1.5M291.5 386.25h6M320 386.25h1.5M335 386.25h1.5M351.5 386.25h4.5M360.5 386.25h1.5M237.5 387.75h1.5M242 387.75h4.5M266 387.75h1.5M278 387.75h1.5M321.5 387.75h1.5M336.5 387.75h1.5M359 387.75h3M267.5 389.25h1.5M279.5 389.25h1.5M323 389.25h1.5M338 389.25h1.5M357.5 389.25h4.5M267.5 390.75h1.5M281 390.75h1.5M303.5 390.75h6M324.5 390.75h1.5M338 390.75h3M357.5 390.75h4.5M237.5 392.25h1.5M269 392.25h1.5M281 392.25h1.5M302 392.25h10.5M326 392.25h1.5M339.5 392.25h3M359 392.25h3M270.5 393.75h1.5M281 393.75h3M302 393.75h4.5M311 393.75h3M327.5 393.75h1.5M339.5 393.75h3M359 393.75h3M254 395.25h4.5M272 395.25h1.5M281 395.25h3M302 395.25h3M314 395.25h1.5M329 395.25h1.5M338 395.25h6M360.5 395.25h1.5M252.5 396.75h7.5M273.5 396.75h3M281 396.75h3M302 396.75h3M315.5 396.75h1.5M330.5 396.75h12M228.5 398.25h1.5M252.5 398.25h3M260 398.25h3M275 398.25h9M303.5 398.25h1.5M317 398.25h1.5M333.5 398.25h7.5M227 399.75h1.5M239 399.75h1.5M252.5 399.75h3M261.5 399.75h1.5M278 399.75h4.5M305 399.75h1.5M318.5 399.75h1.5M335 399.75h4.5M230 401.25h1.5M239 401.25h1.5M254 401.25h1.5M263 401.25h1.5M305 401.25h3M320 401.25h1.5M345.5 401.25h6M254 402.75h3M264.5 402.75h1.5M306.5 402.75h1.5M321.5 402.75h1.5M344 402.75h10.5M255.5 404.25h1.5M266 404.25h1.5M308 404.25h1.5M323 404.25h1.5M342.5 404.25h7.5M353 404.25h3M237.5 405.75h1.5M257 405.75h1.5M266 405.75h3M291.5 405.75h4.5M309.5 405.75h1.5M323 405.75h3M342.5 405.75h4.5M356 405.75h3M233 407.25h4.5M258.5 407.25h1.5M266 407.25h3M290 407.25h7.5M311 407.25h3M323 407.25h3M344 407.25h3M359 407.25h1.5M227 408.75h1.5M260 408.75h1.5M266 408.75h3M290 408.75h3M296 408.75h3M314 408.75h1.5M321.5 408.75h4.5M344 408.75h3M360.5 408.75h1.5M261.5 410.25h7.5M290 410.25h3M299 410.25h3M315.5 410.25h10.5M345.5 410.25h3M243.5 411.75h4.5M263 411.75h6M290 411.75h3M302 411.75h1.5M317 411.75h7.5M347 411.75h1.5M243.5 413.25h6M290 413.25h3M303.5 413.25h1.5M348.5 413.25h1.5M243.5 414.75h3M248 414.75h3M291.5 414.75h1.5M305 414.75h1.5M350 414.75h1.5M243.5 416.25h3M249.5 416.25h3M293 416.25h1.5M305 416.25h3M330.5 416.25h6M351.5 416.25h1.5M245 417.75h1.5M251 417.75h3M294.5 417.75h1.5M306.5 417.75h1.5M330.5 417.75h9M353 417.75h1.5M231.5 419.25h1.5M245 419.25h3M252.5 419.25h1.5M296 419.25h1.5M306.5 419.25h3M329 419.25h4.5M339.5 419.25h1.5M354.5 419.25h3M246.5 420.75h3M251 420.75h4.5M297.5 420.75h1.5M306.5 420.75h3M329 420.75h3M341 420.75h3M357.5 420.75h1.5M248 422.25h7.5M278 422.25h6M299 422.25h3M305 422.25h4.5M329 422.25h3M344 422.25h1.5M359 422.25h3M249.5 423.75h4.5M278 423.75h7.5M302 423.75h7.5M330.5 423.75h3M345.5 423.75h1.5M227 425.25h1.5M230 425.25h1.5M278 425.25h3M285.5 425.25h3M305 425.25h1.5M332 425.25h1.5M347 425.25h1.5M227 426.75h1.5M230 426.75h1.5M239 426.75h1.5M278 426.75h3M287 426.75h3M333.5 426.75h1.5M348.5 426.75h1.5M230 428.25h1.5M279.5 428.25h1.5M288.5 428.25h3M335 428.25h1.5M350 428.25h1.5M279.5 429.75h3M290 429.75h1.5M336.5 429.75h1.5M351.5 429.75h1.5M240.5 431.25h1.5M281 431.25h3M290 431.25h3M317 431.25h6M338 431.25h1.5M351.5 431.25h3M240.5 432.75h1.5M282.5 432.75h3M290 432.75h3M315.5 432.75h10.5M339.5 432.75h3M351.5 432.75h4.5M240.5 434.25h1.5M285.5 434.25h9M315.5 434.25h3M326 434.25h1.5M342.5 434.25h1.5M350 434.25h6M240.5 435.75h1.5M287 435.75h6M315.5 435.75h3M327.5 435.75h1.5M344 435.75h10.5M227 437.25h1.5M239 437.25h1.5M267.5 437.25h3M317 437.25h1.5M330.5 437.25h1.5M347 437.25h6M233 438.75h1.5M237.5 438.75h1.5M266 438.75h7.5M317 438.75h3M332 438.75h1.5M267.5 440.25h7.5M318.5 440.25h3M333.5 440.25h1.5M359 440.25h3M267.5 441.75h9M320 441.75h3M333.5 441.75h3M357.5 441.75h4.5M269 443.25h7.5M321.5 443.25h3M335 443.25h3M356 443.25h6M270.5 444.75h7.5M305 444.75h3M324.5 444.75h1.5M335 444.75h3M357.5 444.75h3M272 446.25h6M303.5 446.25h7.5M326 446.25h3M333.5 446.25h4.5M357.5 446.25h3M302 447.75h4.5M309.5 447.75h3M329 447.75h9M359 447.75h1.5M303.5 449.25h1.5M312.5 449.25h3M332 449.25h3M360.5 449.25h1.5M227 450.75h1.5M303.5 450.75h3M314 450.75h3M305 452.25h1.5M315.5 452.25h3M233 453.75h3M306.5 453.75h1.5M317 453.75h3M344 453.75h7.5M236 455.25h1.5M308 455.25h1.5M318.5 455.25h3M342.5 455.25h6M350 455.25h4.5M309.5 456.75h3M317 456.75h4.5M342.5 456.75h3M354.5 456.75h1.5M237.5 458.25h1.5M312.5 458.25h9M342.5 458.25h3M356 458.25h3M290 459.75h6M315.5 459.75h4.5M344 459.75h1.5M359 459.75h1.5M290 461.25h9M345.5 461.25h1.5M360.5 461.25h1.5M291.5 462.75h3M297.5 462.75h3M347 462.75h1.5M227 464.25h1.5M231.5 464.25h1.5M291.5 464.25h3M299 464.25h3M348.5 464.25h1.5M237.5 465.75h1.5M293 465.75h3M300.5 465.75h3M330.5 465.75h4.5M350 465.75h1.5M294.5 467.25h10.5M329 467.25h9M353 467.25h1.5M297.5 468.75h7.5M327.5 468.75h4.5M338 468.75h3M354.5 468.75h3M329 470.25h1.5M341 470.25h1.5M357.5 470.25h4.5M329 471.75h3M342.5 471.75h3M231.5 473.25h1.5M279.5 473.25h4.5M330.5 473.25h3M345.5 473.25h1.5M279.5 474.75h7.5M332 474.75h1.5M347 474.75h1.5M233 476.25h4.5M279.5 476.25h1.5M288.5 476.25h3M315.5 476.25h6M333.5 476.25h1.5M348.5 476.25h3M251 477.75h1.5M257 477.75h3M278 477.75h1.5M294.5 477.75h1.5M312.5 477.75h1.5M327.5 477.75h1.5M333.5 477.75h1.5M357.5 477.75h4.5M239 479.25h3M263 479.25h1.5M311 479.25h1.5M344 479.25h1.5M239 480.75h1.5M264.5 480.75h1.5M311 480.75h1.5M336.5 480.75h12M240.5 482.25h1.5M263 482.25h3M335 482.25h1.5M347 482.25h1.5M243.5 483.75h3M251 483.75h1.5M297.5 483.75h1.5M314 483.75h1.5M333.5 483.75h1.5M350 483.75h1.5M318.5 485.25h1.5M332 485.25h1.5M354.5 485.25h3M227 486.75h1.5M321.5 486.75h1.5M332 486.75h3M353 486.75h4.5M230 488.25h3M240.5 488.25h3M255.5 488.25h1.5M264.5 488.25h1.5M282.5 488.25h1.5M290 488.25h1.5M312.5 488.25h1.5M318.5 488.25h1.5M344 488.25h1.5M348.5 488.25h1.5M213.5 506.25h1.5" stroke="#EB8844"/>
<path d="M242 360.75h1.5M266 360.75h3M272 360.75h12M293 360.75h1.5M311 360.75h1.5M323 360.75h7.5M341 360.75h1.5M353 360.75h1.5M228.5 362.25h1.5M243.5 362.25h1.5M257 362.25h1.5M267.5 362.25h10.5M282.5 362.25h3M294.5 362.25h1.5M312.5 362.25h1.5M324.5 362.25h4.5M342.5 362.25h1.5M354.5 362.25h1.5M228.5 363.75h1.5M258.5 363.75h1.5M269 363.75h7.5M284 363.75h3M296 363.75h1.5M314 363.75h1.5M326 363.75h3M356 363.75h1.5M228.5 365.25h1.5M245 365.25h1.5M260 365.25h1.5M270.5 365.25h6M287 365.25h1.5M297.5 365.25h1.5M314 365.25h3M327.5 365.25h3M357.5 365.25h1.5M228.5 366.75h1.5M246.5 366.75h1.5M260 366.75h1.5M272 366.75h4.5M299 366.75h1.5M315.5 366.75h1.5M329 366.75h1.5M348.5 366.75h1.5M359 366.75h1.5M228.5 368.25h3M239 368.25h1.5M248 368.25h1.5M261.5 368.25h1.5M273.5 368.25h3M300.5 368.25h1.5M315.5 368.25h3M330.5 368.25h1.5M350 368.25h1.5M228.5 369.75h3M261.5 369.75h3M275 369.75h1.5M302 369.75h1.5M315.5 369.75h4.5M332 369.75h1.5M351.5 369.75h1.5M230 371.25h1.5M240.5 371.25h1.5M261.5 371.25h4.5M276.5 371.25h1.5M303.5 371.25h1.5M314 371.25h7.5M333.5 371.25h1.5M353 371.25h1.5M227 372.75h1.5M242 372.75h1.5M251 372.75h1.5M260 372.75h6M276.5 372.75h1.5M293 372.75h1.5M305 372.75h3M312.5 372.75h12M335 372.75h1.5M354.5 372.75h1.5M231.5 374.25h1.5M252.5 374.25h3M258.5 374.25h9M278 374.25h1.5M294.5 374.25h1.5M306.5 374.25h12M323 374.25h3M356 374.25h1.5M231.5 375.75h1.5M254 375.75h15M279.5 375.75h1.5M296 375.75h1.5M308 375.75h9M326 375.75h1.5M356 375.75h3M233 377.25h1.5M245 377.25h1.5M255.5 377.25h15M281 377.25h1.5M297.5 377.25h1.5M309.5 377.25h6M327.5 377.25h1.5M339.5 377.25h1.5M357.5 377.25h3M227 378.75h1.5M233 378.75h1.5M246.5 378.75h1.5M257 378.75h9M270.5 378.75h1.5M282.5 378.75h1.5M299 378.75h1.5M311 378.75h4.5M329 378.75h1.5M341 378.75h1.5M359 378.75h3M246.5 380.25h1.5M258.5 380.25h6M272 380.25h1.5M284 380.25h1.5M299 380.25h3M312.5 380.25h3M330.5 380.25h1.5M342.5 380.25h1.5M360.5 380.25h1.5M248 381.75h1.5M260 381.75h4.5M273.5 381.75h1.5M285.5 381.75h1.5M300.5 381.75h1.5M314 381.75h3M332 381.75h1.5M344 381.75h1.5M360.5 381.75h1.5M248 383.25h3M261.5 383.25h3M275 383.25h1.5M287 383.25h1.5M300.5 383.25h3M315.5 383.25h1.5M333.5 383.25h1.5M345.5 383.25h1.5M360.5 383.25h1.5M228.5 384.75h1.5M233 384.75h1.5M248 384.75h3M261.5 384.75h3M276.5 384.75h1.5M288.5 384.75h1.5M299 384.75h6M317 384.75h1.5M335 384.75h1.5M347 384.75h3M359 384.75h3M230 386.25h1.5M248 386.25h4.5M263 386.25h1.5M278 386.25h1.5M290 386.25h1.5M297.5 386.25h9M318.5 386.25h1.5M336.5 386.25h1.5M348.5 386.25h3M356 386.25h4.5M239 387.75h3M246.5 387.75h7.5M264.5 387.75h1.5M279.5 387.75h1.5M291.5 387.75h16.5M320 387.75h1.5M338 387.75h1.5M351.5 387.75h7.5M237.5 389.25h1.5M242 389.25h13.5M266 389.25h1.5M281 389.25h1.5M293 389.25h18M321.5 389.25h1.5M339.5 389.25h1.5M353 389.25h4.5M237.5 390.75h1.5M243.5 390.75h13.5M282.5 390.75h1.5M294.5 390.75h9M309.5 390.75h3M323 390.75h1.5M341 390.75h1.5M354.5 390.75h3M245 392.25h13.5M267.5 392.25h1.5M282.5 392.25h1.5M296 392.25h6M312.5 392.25h1.5M324.5 392.25h1.5M342.5 392.25h1.5M356 392.25h3M246.5 393.75h13.5M269 393.75h1.5M284 393.75h1.5M297.5 393.75h4.5M314 393.75h1.5M326 393.75h1.5M342.5 393.75h3M357.5 393.75h1.5M248 395.25h6M258.5 395.25h3M270.5 395.25h1.5M284 395.25h3M299 395.25h3M315.5 395.25h1.5M327.5 395.25h1.5M344 395.25h3M359 395.25h1.5M239 396.75h1.5M249.5 396.75h3M260 396.75h3M272 396.75h1.5M284 396.75h4.5M300.5 396.75h1.5M317 396.75h1.5M329 396.75h1.5M342.5 396.75h6M360.5 396.75h1.5M239 398.25h1.5M249.5 398.25h3M273.5 398.25h1.5M284 398.25h6M302 398.25h1.5M318.5 398.25h1.5M330.5 398.25h3M341 398.25h9M228.5 399.75h1.5M251 399.75h1.5M263 399.75h1.5M275 399.75h3M282.5 399.75h9M303.5 399.75h1.5M320 399.75h1.5M332 399.75h3M339.5 399.75h13.5M227 401.25h1.5M252.5 401.25h1.5M264.5 401.25h1.5M276.5 401.25h16.5M321.5 401.25h1.5M335 401.25h10.5M351.5 401.25h3M230 402.75h1.5M239 402.75h3M252.5 402.75h1.5M266 402.75h1.5M279.5 402.75h15M323 402.75h1.5M336.5 402.75h7.5M354.5 402.75h1.5M239 404.25h3M254 404.25h1.5M267.5 404.25h1.5M281 404.25h15M324.5 404.25h1.5M338 404.25h4.5M356 404.25h1.5M231.5 405.75h1.5M239 405.75h4.5M255.5 405.75h1.5M269 405.75h1.5M282.5 405.75h9M296 405.75h1.5M326 405.75h1.5M339.5 405.75h3M227 407.25h1.5M237.5 407.25h9M257 407.25h1.5M269 407.25h1.5M284 407.25h6M297.5 407.25h1.5M326 407.25h3M341 407.25h3M360.5 407.25h1.5M234.5 408.75h13.5M258.5 408.75h1.5M269 408.75h3M285.5 408.75h4.5M299 408.75h1.5M312.5 408.75h1.5M326 408.75h4.5M342.5 408.75h1.5M239 410.25h10.5M260 410.25h1.5M269 410.25h4.5M287 410.25h3M302 410.25h1.5M314 410.25h1.5M326 410.25h6M344 410.25h1.5M239 411.75h4.5M248 411.75h1.5M261.5 411.75h1.5M269 411.75h4.5M287 411.75h3M303.5 411.75h1.5M315.5 411.75h1.5M324.5 411.75h9M345.5 411.75h1.5M240.5 413.25h3M249.5 413.25h1.5M263 413.25h12M288.5 413.25h1.5M305 413.25h1.5M317 413.25h18M347 413.25h1.5M240.5 414.75h3M251 414.75h1.5M264.5 414.75h9M290 414.75h1.5M306.5 414.75h1.5M318.5 414.75h19.5M348.5 414.75h1.5M242 416.25h1.5M252.5 416.25h1.5M266 416.25h6M275 416.25h3M291.5 416.25h1.5M308 416.25h1.5M321.5 416.25h9M336.5 416.25h3M350 416.25h1.5M231.5 417.75h3M242 417.75h3M254 417.75h1.5M275 417.75h6M293 417.75h1.5M308 417.75h3M323 417.75h7.5M339.5 417.75h1.5M351.5 417.75h1.5M243.5 419.25h1.5M254 419.25h3M273.5 419.25h9M294.5 419.25h1.5M309.5 419.25h1.5M324.5 419.25h4.5M341 419.25h1.5M245 420.75h1.5M255.5 420.75h1.5M273.5 420.75h10.5M296 420.75h1.5M309.5 420.75h3M326 420.75h3M344 420.75h1.5M356 420.75h1.5M230 422.25h1.5M237.5 422.25h1.5M246.5 422.25h1.5M255.5 422.25h3M273.5 422.25h4.5M284 422.25h1.5M297.5 422.25h1.5M309.5 422.25h4.5M327.5 422.25h1.5M345.5 422.25h1.5M357.5 422.25h1.5M230 423.75h1.5M248 423.75h1.5M254 423.75h4.5M273.5 423.75h4.5M285.5 423.75h3M299 423.75h3M309.5 423.75h6M329 423.75h1.5M347 423.75h1.5M359 423.75h3M239 425.25h1.5M249.5 425.25h9M275 425.25h3M288.5 425.25h1.5M300.5 425.25h4.5M306.5 425.25h10.5M330.5 425.25h1.5M348.5 425.25h1.5M251 426.75h6M276.5 426.75h1.5M290 426.75h1.5M303.5 426.75h16.5M332 426.75h1.5M350 426.75h1.5M227 428.25h1.5M276.5 428.25h3M291.5 428.25h1.5M305 428.25h16.5M333.5 428.25h1.5M351.5 428.25h1.5M230 429.75h1.5M240.5 429.75h1.5M278 429.75h1.5M291.5 429.75h3M306.5 429.75h16.5M335 429.75h1.5M353 429.75h1.5M279.5 431.25h1.5M293 431.25h1.5M309.5 431.25h7.5M323 431.25h3M336.5 431.25h1.5M354.5 431.25h1.5M242 432.75h1.5M264.5 432.75h3M281 432.75h1.5M293 432.75h3M311 432.75h4.5M326 432.75h1.5M338 432.75h1.5M356 432.75h3M242 434.25h1.5M263 434.25h7.5M282.5 434.25h3M294.5 434.25h3M312.5 434.25h3M327.5 434.25h1.5M341 434.25h1.5M356 434.25h4.5M227 435.75h1.5M231.5 435.75h1.5M242 435.75h3M263 435.75h9M284 435.75h3M293 435.75h6M312.5 435.75h3M329 435.75h1.5M342.5 435.75h1.5M354.5 435.75h7.5M240.5 437.25h3M263 437.25h4.5M270.5 437.25h3M287 437.25h12M314 437.25h3M332 437.25h1.5M344 437.25h3M353 437.25h9M239 438.75h4.5M263 438.75h3M273.5 438.75h1.5M288.5 438.75h10.5M315.5 438.75h1.5M333.5 438.75h1.5M347 438.75h15M234.5 440.25h6M264.5 440.25h3M275 440.25h1.5M291.5 440.25h4.5M300.5 440.25h3M317 440.25h1.5M335 440.25h1.5M348.5 440.25h10.5M266 441.75h1.5M276.5 441.75h1.5M300.5 441.75h6M318.5 441.75h1.5M336.5 441.75h1.5M350 441.75h7.5M228.5 443.25h1.5M266 443.25h3M276.5 443.25h3M299 443.25h9M338 443.25h1.5M351.5 443.25h4.5M228.5 444.75h1.5M267.5 444.75h3M278 444.75h3M297.5 444.75h7.5M308 444.75h3M323 444.75h1.5M338 444.75h3M354.5 444.75h3M228.5 446.25h1.5M269 446.25h3M278 446.25h3M299 446.25h4.5M311 446.25h1.5M324.5 446.25h1.5M338 446.25h4.5M356 446.25h1.5M272 447.75h9M299 447.75h3M312.5 447.75h1.5M326 447.75h3M338 447.75h6M357.5 447.75h1.5M252.5 449.25h6M273.5 449.25h7.5M300.5 449.25h3M315.5 449.25h1.5M329 449.25h3M335 449.25h12M359 449.25h1.5M252.5 450.75h7.5M276.5 450.75h1.5M302 450.75h1.5M317 450.75h1.5M330.5 450.75h18M360.5 450.75h1.5M227 452.25h1.5M233 452.25h4.5M252.5 452.25h9M303.5 452.25h1.5M318.5 452.25h1.5M332 452.25h19.5M231.5 453.75h1.5M236 453.75h1.5M254 453.75h9M305 453.75h1.5M320 453.75h1.5M335 453.75h9M351.5 453.75h1.5M231.5 455.25h1.5M237.5 455.25h1.5M255.5 455.25h9M306.5 455.25h1.5M321.5 455.25h1.5M336.5 455.25h6M354.5 455.25h1.5M231.5 456.75h1.5M237.5 456.75h1.5M257 456.75h9M288.5 456.75h6M308 456.75h1.5M321.5 456.75h3M338 456.75h4.5M356 456.75h1.5M231.5 458.25h1.5M258.5 458.25h7.5M287 458.25h10.5M309.5 458.25h3M321.5 458.25h4.5M339.5 458.25h3M231.5 459.75h1.5M239 459.75h1.5M260 459.75h4.5M287 459.75h3M296 459.75h3M312.5 459.75h3M320 459.75h7.5M341 459.75h3M360.5 459.75h1.5M227 461.25h1.5M231.5 461.25h1.5M239 461.25h1.5M287 461.25h3M299 461.25h1.5M314 461.25h16.5M344 461.25h1.5M227 462.75h1.5M231.5 462.75h1.5M239 462.75h1.5M288.5 462.75h3M300.5 462.75h3M317 462.75h15M345.5 462.75h1.5M239 464.25h1.5M243.5 464.25h4.5M290 464.25h1.5M302 464.25h3M318.5 464.25h16.5M347 464.25h1.5M227 465.75h1.5M245 465.75h4.5M291.5 465.75h1.5M303.5 465.75h3M321.5 465.75h9M335 465.75h3M348.5 465.75h1.5M227 467.25h1.5M237.5 467.25h1.5M245 467.25h4.5M293 467.25h1.5M305 467.25h3M323 467.25h6M338 467.25h1.5M351.5 467.25h1.5M227 468.75h1.5M248 468.75h1.5M294.5 468.75h3M305 468.75h4.5M324.5 468.75h3M341 468.75h1.5M353 468.75h1.5M227 470.25h1.5M276.5 470.25h6M297.5 470.25h12M326 470.25h3M342.5 470.25h1.5M356 470.25h1.5M227 471.75h1.5M275 471.75h9M299 471.75h10.5M327.5 471.75h1.5M345.5 471.75h1.5M357.5 471.75h4.5M227 473.25h1.5M237.5 473.25h1.5M276.5 473.25h3M284 473.25h3M303.5 473.25h1.5M329 473.25h1.5M347 473.25h1.5M360.5 473.25h1.5M227 474.75h1.5M231.5 474.75h1.5M237.5 474.75h1.5M276.5 474.75h3M287 474.75h3M312.5 474.75h6M330.5 474.75h1.5M348.5 474.75h1.5M231.5 476.25h1.5M237.5 476.25h1.5M276.5 476.25h3M291.5 476.25h1.5M311 476.25h4.5M321.5 476.25h1.5M332 476.25h1.5M351.5 476.25h1.5M233 477.75h9M249.5 477.75h1.5M260 477.75h3M276.5 477.75h1.5M296 477.75h1.5M309.5 477.75h3M329 477.75h4.5M236 479.25h3M264.5 479.25h1.5M276.5 479.25h1.5M309.5 479.25h1.5M237.5 480.75h1.5M266 480.75h1.5M309.5 480.75h1.5M239 482.25h1.5M266 482.25h3M278 482.25h1.5M300.5 482.25h1.5M311 482.25h1.5M342.5 482.25h4.5M227 483.75h1.5M242 483.75h1.5M252.5 483.75h1.5M257 483.75h13.5M282.5 483.75h1.5M299 483.75h3M335 483.75h1.5M347 483.75h3M227 485.25h1.5M290 485.25h3M317 485.25h1.5M333.5 485.25h1.5M351.5 485.25h3M267.5 486.75h7.5M297.5 486.75h9M320 486.75h1.5M335 486.75h3M350 486.75h3M233 488.25h1.5M239 488.25h1.5M257 488.25h1.5M263 488.25h1.5M284 488.25h3M288.5 488.25h1.5M314 488.25h4.5M345.5 488.25h3" stroke="#EC9040"/>
<path d="M240.5 360.75h1.5M257 360.75h1.5M312.5 360.75h1.5M321.5 360.75h1.5M342.5 360.75h1.5M351.5 360.75h1.5M242 362.25h1.5M258.5 362.25h1.5M293 362.25h1.5M314 362.25h1.5M323 362.25h1.5M344 362.25h1.5M353 362.25h1.5M243.5 363.75h1.5M260 363.75h1.5M267.5 363.75h1.5M294.5 363.75h1.5M315.5 363.75h1.5M324.5 363.75h1.5M345.5 363.75h1.5M269 365.25h1.5M296 365.25h1.5M326 365.25h1.5M347 365.25h1.5M239 366.75h1.5M261.5 366.75h1.5M270.5 366.75h1.5M288.5 366.75h1.5M297.5 366.75h1.5M317 366.75h1.5M327.5 366.75h1.5M246.5 368.25h1.5M263 368.25h1.5M272 368.25h1.5M290 368.25h1.5M299 368.25h1.5M318.5 368.25h1.5M329 368.25h1.5M360.5 368.25h1.5M240.5 369.75h1.5M248 369.75h1.5M264.5 369.75h1.5M273.5 369.75h1.5M291.5 369.75h1.5M300.5 369.75h1.5M320 369.75h1.5M330.5 369.75h1.5M228.5 371.25h1.5M242 371.25h1.5M249.5 371.25h1.5M266 371.25h1.5M275 371.25h1.5M293 371.25h1.5M302 371.25h1.5M321.5 371.25h1.5M332 371.25h1.5M230 372.75h1.5M266 372.75h1.5M294.5 372.75h1.5M303.5 372.75h1.5M333.5 372.75h1.5M227 374.25h1.5M243.5 374.25h1.5M267.5 374.25h1.5M296 374.25h1.5M305 374.25h1.5M326 374.25h1.5M335 374.25h1.5M227 375.75h1.5M245 375.75h1.5M252.5 375.75h1.5M269 375.75h1.5M278 375.75h1.5M297.5 375.75h1.5M306.5 375.75h1.5M327.5 375.75h1.5M336.5 375.75h1.5M227 377.25h1.5M231.5 377.25h1.5M246.5 377.25h1.5M254 377.25h1.5M270.5 377.25h1.5M279.5 377.25h1.5M299 377.25h1.5M308 377.25h1.5M329 377.25h1.5M338 377.25h1.5M255.5 378.75h1.5M272 378.75h1.5M281 378.75h1.5M300.5 378.75h1.5M309.5 378.75h1.5M330.5 378.75h1.5M339.5 378.75h1.5M233 380.25h1.5M248 380.25h1.5M257 380.25h1.5M273.5 380.25h1.5M282.5 380.25h1.5M302 380.25h1.5M311 380.25h1.5M332 380.25h1.5M341 380.25h1.5M233 381.75h1.5M249.5 381.75h1.5M258.5 381.75h1.5M275 381.75h1.5M284 381.75h1.5M302 381.75h1.5M312.5 381.75h1.5M333.5 381.75h1.5M342.5 381.75h1.5M228.5 383.25h1.5M233 383.25h1.5M251 383.25h1.5M260 383.25h1.5M276.5 383.25h1.5M285.5 383.25h1.5M303.5 383.25h1.5M314 383.25h1.5M335 383.25h1.5M344 383.25h1.5M230 384.75h3M251 384.75h1.5M278 384.75h1.5M287 384.75h1.5M305 384.75h1.5M315.5 384.75h1.5M336.5 384.75h1.5M345.5 384.75h1.5M252.5 386.25h1.5M261.5 386.25h1.5M279.5 386.25h1.5M288.5 386.25h1.5M306.5 386.25h1.5M317 386.25h1.5M338 386.25h1.5M347 386.25h1.5M254 387.75h1.5M263 387.75h1.5M281 387.75h1.5M290 387.75h1.5M308 387.75h1.5M318.5 387.75h1.5M339.5 387.75h1.5M350 387.75h1.5M239 389.25h3M255.5 389.25h1.5M264.5 389.25h1.5M291.5 389.25h1.5M311 389.25h1.5M320 389.25h1.5M341 389.25h1.5M351.5 389.25h1.5M242 390.75h1.5M257 390.75h1.5M266 390.75h1.5M293 390.75h1.5M312.5 390.75h1.5M321.5 390.75h1.5M342.5 390.75h1.5M353 390.75h1.5M243.5 392.25h1.5M258.5 392.25h1.5M284 392.25h1.5M294.5 392.25h1.5M314 392.25h1.5M323 392.25h1.5M344 392.25h1.5M354.5 392.25h1.5M245 393.75h1.5M285.5 393.75h1.5M296 393.75h1.5M315.5 393.75h1.5M324.5 393.75h1.5M345.5 393.75h1.5M356 393.75h1.5M239 395.25h1.5M245 395.25h3M287 395.25h1.5M297.5 395.25h1.5M317 395.25h1.5M326 395.25h1.5M347 395.25h1.5M357.5 395.25h1.5M246.5 396.75h3M288.5 396.75h1.5M299 396.75h1.5M318.5 396.75h1.5M327.5 396.75h1.5M348.5 396.75h1.5M359 396.75h1.5M248 398.25h1.5M263 398.25h1.5M272 398.25h1.5M290 398.25h1.5M300.5 398.25h1.5M320 398.25h1.5M329 398.25h1.5M350 398.25h1.5M360.5 398.25h1.5M240.5 399.75h1.5M249.5 399.75h1.5M264.5 399.75h1.5M273.5 399.75h1.5M291.5 399.75h1.5M302 399.75h1.5M321.5 399.75h1.5M353 399.75h1.5M228.5 401.25h1.5M240.5 401.25h1.5M251 401.25h1.5M266 401.25h1.5M275 401.25h1.5M293 401.25h1.5M303.5 401.25h1.5M323 401.25h1.5M333.5 401.25h1.5M354.5 401.25h1.5M227 402.75h1.5M242 402.75h1.5M267.5 402.75h1.5M276.5 402.75h3M294.5 402.75h1.5M305 402.75h1.5M324.5 402.75h1.5M335 402.75h1.5M356 402.75h1.5M242 404.25h3M252.5 404.25h1.5M269 404.25h1.5M278 404.25h3M296 404.25h1.5M306.5 404.25h1.5M326 404.25h1.5M336.5 404.25h1.5M357.5 404.25h1.5M227 405.75h1.5M243.5 405.75h3M254 405.75h1.5M270.5 405.75h1.5M279.5 405.75h3M297.5 405.75h1.5M308 405.75h1.5M327.5 405.75h1.5M338 405.75h1.5M359 405.75h1.5M246.5 407.25h1.5M255.5 407.25h1.5M270.5 407.25h1.5M281 407.25h3M299 407.25h1.5M309.5 407.25h1.5M329 407.25h1.5M339.5 407.25h1.5M233 408.75h1.5M248 408.75h1.5M257 408.75h1.5M272 408.75h1.5M282.5 408.75h3M300.5 408.75h1.5M311 408.75h1.5M330.5 408.75h1.5M341 408.75h1.5M236 410.25h3M258.5 410.25h1.5M273.5 410.25h1.5M284 410.25h3M312.5 410.25h1.5M332 410.25h1.5M342.5 410.25h1.5M237.5 411.75h1.5M249.5 411.75h1.5M260 411.75h1.5M273.5 411.75h3M285.5 411.75h1.5M314 411.75h1.5M333.5 411.75h1.5M344 411.75h1.5M237.5 413.25h3M251 413.25h1.5M261.5 413.25h1.5M275 413.25h3M287 413.25h1.5M315.5 413.25h1.5M335 413.25h1.5M345.5 413.25h1.5M228.5 414.75h1.5M239 414.75h1.5M252.5 414.75h1.5M263 414.75h1.5M273.5 414.75h6M288.5 414.75h1.5M317 414.75h1.5M338 414.75h1.5M347 414.75h1.5M228.5 416.25h1.5M231.5 416.25h1.5M240.5 416.25h1.5M254 416.25h1.5M264.5 416.25h1.5M272 416.25h3M278 416.25h3M290 416.25h1.5M318.5 416.25h3M339.5 416.25h1.5M228.5 417.75h3M234.5 417.75h1.5M255.5 417.75h1.5M266 417.75h9M281 417.75h1.5M291.5 417.75h1.5M321.5 417.75h1.5M341 417.75h1.5M228.5 419.25h3M236 419.25h1.5M242 419.25h1.5M267.5 419.25h6M282.5 419.25h1.5M293 419.25h1.5M311 419.25h1.5M323 419.25h1.5M342.5 419.25h1.5M353 419.25h1.5M228.5 420.75h3M243.5 420.75h1.5M257 420.75h1.5M269 420.75h4.5M284 420.75h1.5M294.5 420.75h1.5M312.5 420.75h3M324.5 420.75h1.5M354.5 420.75h1.5M228.5 422.25h1.5M245 422.25h1.5M258.5 422.25h1.5M270.5 422.25h3M285.5 422.25h1.5M296 422.25h1.5M314 422.25h3M326 422.25h1.5M347 422.25h1.5M356 422.25h1.5M228.5 423.75h1.5M246.5 423.75h1.5M258.5 423.75h3M272 423.75h1.5M297.5 423.75h1.5M315.5 423.75h3M327.5 423.75h1.5M348.5 423.75h1.5M357.5 423.75h1.5M228.5 425.25h1.5M248 425.25h1.5M258.5 425.25h4.5M273.5 425.25h1.5M299 425.25h1.5M317 425.25h3M329 425.25h1.5M350 425.25h1.5M360.5 425.25h1.5M228.5 426.75h1.5M249.5 426.75h1.5M257 426.75h7.5M273.5 426.75h3M302 426.75h1.5M320 426.75h1.5M330.5 426.75h1.5M351.5 426.75h1.5M228.5 428.25h1.5M240.5 428.25h1.5M251 428.25h15M275 428.25h1.5M303.5 428.25h1.5M321.5 428.25h1.5M332 428.25h1.5M353 428.25h1.5M227 429.75h1.5M242 429.75h1.5M252.5 429.75h15M276.5 429.75h1.5M294.5 429.75h1.5M305 429.75h1.5M323 429.75h1.5M333.5 429.75h1.5M354.5 429.75h1.5M230 431.25h1.5M242 431.25h1.5M254 431.25h15M278 431.25h1.5M294.5 431.25h3M306.5 431.25h3M326 431.25h1.5M335 431.25h1.5M356 431.25h1.5M243.5 432.75h1.5M255.5 432.75h9M267.5 432.75h3M279.5 432.75h1.5M296 432.75h3M308 432.75h3M327.5 432.75h1.5M359 432.75h1.5M227 434.25h1.5M243.5 434.25h3M257 434.25h6M270.5 434.25h1.5M281 434.25h1.5M297.5 434.25h3M309.5 434.25h3M329 434.25h1.5M339.5 434.25h1.5M360.5 434.25h1.5M245 435.75h3M258.5 435.75h4.5M272 435.75h1.5M282.5 435.75h1.5M299 435.75h3M311 435.75h1.5M330.5 435.75h1.5M341 435.75h1.5M231.5 437.25h1.5M243.5 437.25h4.5M260 437.25h3M273.5 437.25h1.5M285.5 437.25h1.5M299 437.25h4.5M312.5 437.25h1.5M342.5 437.25h1.5M243.5 438.75h6M261.5 438.75h1.5M275 438.75h1.5M287 438.75h1.5M299 438.75h6M314 438.75h1.5M335 438.75h1.5M345.5 438.75h1.5M228.5 440.25h1.5M233 440.25h1.5M240.5 440.25h10.5M261.5 440.25h3M276.5 440.25h1.5M288.5 440.25h3M296 440.25h4.5M303.5 440.25h3M336.5 440.25h1.5M347 440.25h1.5M228.5 441.75h1.5M231.5 441.75h3M239 441.75h13.5M263 441.75h3M278 441.75h1.5M290 441.75h10.5M306.5 441.75h1.5M338 441.75h1.5M348.5 441.75h1.5M230 443.25h4.5M242 443.25h12M264.5 443.25h1.5M279.5 443.25h1.5M291.5 443.25h7.5M308 443.25h3M320 443.25h1.5M339.5 443.25h1.5M350 443.25h1.5M230 444.75h4.5M246.5 444.75h9M266 444.75h1.5M281 444.75h1.5M293 444.75h4.5M311 444.75h1.5M321.5 444.75h1.5M341 444.75h1.5M353 444.75h1.5M230 446.25h4.5M248 446.25h9M267.5 446.25h1.5M281 446.25h3M294.5 446.25h4.5M312.5 446.25h1.5M323 446.25h1.5M342.5 446.25h1.5M354.5 446.25h1.5M228.5 447.75h6M248 447.75h10.5M269 447.75h3M281 447.75h4.5M296 447.75h3M314 447.75h1.5M324.5 447.75h1.5M344 447.75h3M356 447.75h1.5M228.5 449.25h7.5M248 449.25h4.5M258.5 449.25h3M270.5 449.25h3M281 449.25h6M299 449.25h1.5M327.5 449.25h1.5M347 449.25h1.5M357.5 449.25h1.5M228.5 450.75h1.5M231.5 450.75h6M249.5 450.75h3M260 450.75h3M273.5 450.75h3M278 450.75h10.5M300.5 450.75h1.5M318.5 450.75h1.5M329 450.75h1.5M348.5 450.75h1.5M359 450.75h1.5M231.5 452.25h1.5M237.5 452.25h1.5M251 452.25h1.5M261.5 452.25h3M275 452.25h16.5M302 452.25h1.5M320 452.25h1.5M330.5 452.25h1.5M351.5 452.25h1.5M227 453.75h1.5M237.5 453.75h3M251 453.75h3M263 453.75h3M276.5 453.75h16.5M303.5 453.75h1.5M321.5 453.75h1.5M333.5 453.75h1.5M353 453.75h1.5M239 455.25h1.5M252.5 455.25h3M264.5 455.25h3M278 455.25h16.5M305 455.25h1.5M323 455.25h1.5M335 455.25h1.5M239 456.75h3M254 456.75h3M266 456.75h1.5M281 456.75h7.5M294.5 456.75h3M306.5 456.75h1.5M324.5 456.75h1.5M336.5 456.75h1.5M357.5 456.75h1.5M239 458.25h4.5M255.5 458.25h3M266 458.25h3M282.5 458.25h4.5M297.5 458.25h1.5M308 458.25h1.5M326 458.25h3M338 458.25h1.5M359 458.25h1.5M227 459.75h1.5M240.5 459.75h6M257 459.75h3M264.5 459.75h6M284 459.75h3M299 459.75h1.5M311 459.75h1.5M327.5 459.75h3M240.5 461.25h7.5M260 461.25h12M285.5 461.25h1.5M300.5 461.25h1.5M312.5 461.25h1.5M330.5 461.25h1.5M342.5 461.25h1.5M240.5 462.75h9M261.5 462.75h12M287 462.75h1.5M303.5 462.75h1.5M314 462.75h3M332 462.75h3M344 462.75h1.5M240.5 464.25h3M248 464.25h3M263 464.25h13.5M288.5 464.25h1.5M305 464.25h1.5M317 464.25h1.5M335 464.25h1.5M345.5 464.25h1.5M230 465.75h1.5M239 465.75h6M249.5 465.75h3M270.5 465.75h7.5M290 465.75h1.5M306.5 465.75h1.5M318.5 465.75h3M338 465.75h1.5M230 467.25h1.5M242 467.25h3M249.5 467.25h4.5M270.5 467.25h10.5M291.5 467.25h1.5M308 467.25h1.5M320 467.25h3M339.5 467.25h1.5M350 467.25h1.5M230 468.75h1.5M237.5 468.75h1.5M243.5 468.75h4.5M249.5 468.75h4.5M270.5 468.75h12M293 468.75h1.5M309.5 468.75h1.5M323 468.75h1.5M342.5 468.75h1.5M230 470.25h1.5M237.5 470.25h1.5M245 470.25h10.5M270.5 470.25h6M282.5 470.25h1.5M296 470.25h1.5M309.5 470.25h4.5M324.5 470.25h1.5M344 470.25h1.5M354.5 470.25h1.5M230 471.75h1.5M237.5 471.75h1.5M248 471.75h7.5M272 471.75h3M284 471.75h3M297.5 471.75h1.5M309.5 471.75h6M326 471.75h1.5M356 471.75h1.5M230 473.25h1.5M249.5 473.25h4.5M273.5 473.25h3M287 473.25h1.5M299 473.25h4.5M305 473.25h13.5M327.5 473.25h1.5M348.5 473.25h1.5M359 473.25h1.5M251 474.75h4.5M275 474.75h1.5M290 474.75h1.5M302 474.75h10.5M318.5 474.75h1.5M329 474.75h1.5M350 474.75h1.5M360.5 474.75h1.5M227 476.25h1.5M239 476.25h1.5M249.5 476.25h15M275 476.25h1.5M293 476.25h1.5M303.5 476.25h7.5M323 476.25h1.5M330.5 476.25h1.5M353 476.25h3M231.5 477.75h1.5M242 477.75h4.5M248 477.75h1.5M263 477.75h3M305 477.75h4.5M233 479.25h3M266 479.25h1.5M299 479.25h1.5M308 479.25h1.5M234.5 480.75h3M267.5 480.75h3M276.5 480.75h1.5M300.5 480.75h1.5M227 482.25h1.5M236 482.25h3M269 482.25h9M302 482.25h1.5M336.5 482.25h6M239 483.75h3M254 483.75h3M270.5 483.75h6M281 483.75h1.5M302 483.75h1.5M312.5 483.75h1.5M344 483.75h3M248 485.25h3M264.5 485.25h10.5M287 485.25h3M293 485.25h10.5M315.5 485.25h1.5M335 485.25h1.5M348.5 485.25h3M264.5 486.75h3M275 486.75h4.5M290 486.75h7.5M306.5 486.75h1.5M318.5 486.75h1.5M338 486.75h1.5M348.5 486.75h1.5M234.5 488.25h1.5M237.5 488.25h1.5M258.5 488.25h4.5M287 488.25h1.5" stroke="#EC9A3E"/>
<path d="M239 360.75h1.5M258.5 360.75h1.5M264.5 360.75h1.5M284 360.75h1.5M291.5 360.75h1.5M320 360.75h1.5M344 360.75h1.5M239 362.25h1.5M266 362.25h1.5M285.5 362.25h1.5M321.5 362.25h1.5M345.5 362.25h1.5M239 363.75h1.5M242 363.75h1.5M287 363.75h1.5M323 363.75h1.5M347 363.75h1.5M354.5 363.75h1.5M239 365.25h1.5M243.5 365.25h1.5M261.5 365.25h1.5M288.5 365.25h1.5M317 365.25h1.5M324.5 365.25h1.5M348.5 365.25h1.5M356 365.25h1.5M245 366.75h1.5M263 366.75h1.5M269 366.75h1.5M290 366.75h1.5M318.5 366.75h1.5M326 366.75h1.5M350 366.75h1.5M357.5 366.75h1.5M240.5 368.25h1.5M264.5 368.25h1.5M270.5 368.25h1.5M291.5 368.25h1.5M320 368.25h1.5M327.5 368.25h1.5M351.5 368.25h1.5M359 368.25h1.5M266 369.75h1.5M272 369.75h1.5M293 369.75h1.5M299 369.75h1.5M321.5 369.75h1.5M329 369.75h1.5M353 369.75h1.5M360.5 369.75h1.5M248 371.25h1.5M273.5 371.25h1.5M294.5 371.25h1.5M300.5 371.25h1.5M323 371.25h1.5M330.5 371.25h1.5M354.5 371.25h1.5M228.5 372.75h1.5M243.5 372.75h1.5M249.5 372.75h1.5M267.5 372.75h1.5M275 372.75h1.5M296 372.75h1.5M302 372.75h1.5M324.5 372.75h1.5M332 372.75h1.5M356 372.75h1.5M230 374.25h1.5M245 374.25h1.5M251 374.25h1.5M269 374.25h1.5M276.5 374.25h1.5M297.5 374.25h1.5M303.5 374.25h1.5M333.5 374.25h1.5M357.5 374.25h1.5M270.5 375.75h1.5M305 375.75h1.5M335 375.75h1.5M359 375.75h1.5M272 377.25h1.5M306.5 377.25h1.5M336.5 377.25h1.5M360.5 377.25h1.5M248 378.75h1.5M254 378.75h1.5M273.5 378.75h1.5M308 378.75h1.5M338 378.75h1.5M249.5 380.25h1.5M255.5 380.25h1.5M275 380.25h1.5M281 380.25h1.5M309.5 380.25h1.5M339.5 380.25h1.5M228.5 381.75h1.5M257 381.75h1.5M276.5 381.75h1.5M282.5 381.75h1.5M303.5 381.75h1.5M311 381.75h1.5M335 381.75h1.5M341 381.75h1.5M231.5 383.25h1.5M258.5 383.25h1.5M278 383.25h1.5M284 383.25h1.5M305 383.25h1.5M312.5 383.25h1.5M336.5 383.25h1.5M252.5 384.75h1.5M260 384.75h1.5M285.5 384.75h1.5M306.5 384.75h1.5M314 384.75h1.5M338 384.75h1.5M254 386.25h1.5M287 386.25h1.5M308 386.25h1.5M315.5 386.25h1.5M339.5 386.25h1.5M255.5 387.75h1.5M288.5 387.75h1.5M309.5 387.75h1.5M317 387.75h1.5M341 387.75h1.5M348.5 387.75h1.5M257 389.25h1.5M263 389.25h1.5M282.5 389.25h1.5M290 389.25h1.5M318.5 389.25h1.5M342.5 389.25h1.5M350 389.25h1.5M239 390.75h3M264.5 390.75h1.5M284 390.75h1.5M291.5 390.75h1.5M320 390.75h1.5M344 390.75h1.5M351.5 390.75h1.5M242 392.25h1.5M266 392.25h1.5M285.5 392.25h1.5M293 392.25h1.5M321.5 392.25h1.5M345.5 392.25h1.5M353 392.25h1.5M239 393.75h1.5M243.5 393.75h1.5M260 393.75h1.5M267.5 393.75h1.5M287 393.75h1.5M294.5 393.75h1.5M323 393.75h1.5M347 393.75h1.5M354.5 393.75h1.5M261.5 395.25h1.5M269 395.25h1.5M288.5 395.25h1.5M296 395.25h1.5M324.5 395.25h1.5M348.5 395.25h1.5M356 395.25h1.5M263 396.75h1.5M270.5 396.75h1.5M290 396.75h1.5M297.5 396.75h1.5M320 396.75h1.5M350 396.75h1.5M357.5 396.75h1.5M240.5 398.25h1.5M246.5 398.25h1.5M264.5 398.25h1.5M291.5 398.25h1.5M299 398.25h1.5M321.5 398.25h1.5M351.5 398.25h1.5M359 398.25h1.5M248 399.75h1.5M266 399.75h1.5M293 399.75h1.5M300.5 399.75h1.5M323 399.75h1.5M330.5 399.75h1.5M242 401.25h1.5M249.5 401.25h1.5M267.5 401.25h1.5M294.5 401.25h1.5M302 401.25h1.5M324.5 401.25h1.5M332 401.25h1.5M356 401.25h1.5M228.5 402.75h1.5M243.5 402.75h1.5M251 402.75h1.5M269 402.75h1.5M296 402.75h1.5M303.5 402.75h1.5M326 402.75h1.5M333.5 402.75h1.5M357.5 402.75h1.5M227 404.25h1.5M230 404.25h1.5M245 404.25h1.5M297.5 404.25h1.5M305 404.25h1.5M327.5 404.25h1.5M335 404.25h1.5M359 404.25h1.5M246.5 405.75h1.5M299 405.75h1.5M306.5 405.75h1.5M329 405.75h1.5M336.5 405.75h1.5M360.5 405.75h1.5M231.5 407.25h1.5M254 407.25h1.5M272 407.25h1.5M300.5 407.25h1.5M308 407.25h1.5M330.5 407.25h1.5M338 407.25h1.5M255.5 408.75h1.5M273.5 408.75h1.5M302 408.75h1.5M309.5 408.75h1.5M332 408.75h1.5M339.5 408.75h1.5M234.5 410.25h1.5M249.5 410.25h1.5M257 410.25h1.5M275 410.25h1.5M303.5 410.25h1.5M311 410.25h1.5M333.5 410.25h1.5M341 410.25h1.5M228.5 411.75h1.5M236 411.75h1.5M251 411.75h1.5M258.5 411.75h1.5M276.5 411.75h1.5M284 411.75h1.5M305 411.75h1.5M312.5 411.75h1.5M335 411.75h1.5M342.5 411.75h1.5M228.5 413.25h1.5M252.5 413.25h1.5M260 413.25h1.5M278 413.25h1.5M285.5 413.25h1.5M306.5 413.25h1.5M314 413.25h1.5M336.5 413.25h1.5M230 414.75h1.5M237.5 414.75h1.5M254 414.75h1.5M261.5 414.75h1.5M279.5 414.75h1.5M287 414.75h1.5M308 414.75h1.5M315.5 414.75h1.5M339.5 414.75h1.5M230 416.25h1.5M233 416.25h1.5M239 416.25h1.5M255.5 416.25h1.5M263 416.25h1.5M281 416.25h1.5M288.5 416.25h1.5M309.5 416.25h1.5M341 416.25h1.5M348.5 416.25h1.5M236 417.75h1.5M240.5 417.75h1.5M264.5 417.75h1.5M282.5 417.75h1.5M290 417.75h1.5M311 417.75h1.5M320 417.75h1.5M342.5 417.75h1.5M350 417.75h1.5M257 419.25h1.5M266 419.25h1.5M284 419.25h1.5M291.5 419.25h1.5M312.5 419.25h1.5M321.5 419.25h1.5M344 419.25h1.5M351.5 419.25h1.5M237.5 420.75h1.5M258.5 420.75h1.5M267.5 420.75h1.5M285.5 420.75h1.5M293 420.75h1.5M323 420.75h1.5M345.5 420.75h1.5M353 420.75h1.5M243.5 422.25h1.5M260 422.25h1.5M269 422.25h1.5M287 422.25h1.5M317 422.25h1.5M324.5 422.25h1.5M354.5 422.25h1.5M239 423.75h1.5M245 423.75h1.5M261.5 423.75h1.5M270.5 423.75h1.5M288.5 423.75h1.5M318.5 423.75h1.5M326 423.75h1.5M246.5 425.25h1.5M263 425.25h1.5M272 425.25h1.5M290 425.25h1.5M320 425.25h1.5M327.5 425.25h1.5M351.5 425.25h1.5M359 425.25h1.5M240.5 426.75h1.5M248 426.75h1.5M264.5 426.75h1.5M291.5 426.75h1.5M300.5 426.75h1.5M321.5 426.75h1.5M329 426.75h1.5M353 426.75h1.5M360.5 426.75h1.5M242 428.25h1.5M249.5 428.25h1.5M266 428.25h1.5M293 428.25h1.5M302 428.25h1.5M323 428.25h1.5M330.5 428.25h1.5M354.5 428.25h1.5M228.5 429.75h1.5M251 429.75h1.5M267.5 429.75h1.5M303.5 429.75h1.5M324.5 429.75h1.5M356 429.75h1.5M227 431.25h1.5M243.5 431.25h1.5M252.5 431.25h1.5M269 431.25h1.5M305 431.25h1.5M357.5 431.25h1.5M227 432.75h1.5M230 432.75h1.5M245 432.75h1.5M254 432.75h1.5M270.5 432.75h1.5M306.5 432.75h1.5M329 432.75h1.5M336.5 432.75h1.5M360.5 432.75h1.5M246.5 434.25h1.5M255.5 434.25h1.5M272 434.25h1.5M300.5 434.25h1.5M308 434.25h1.5M330.5 434.25h1.5M338 434.25h1.5M248 435.75h1.5M257 435.75h1.5M273.5 435.75h1.5M302 435.75h1.5M309.5 435.75h1.5M332 435.75h1.5M339.5 435.75h1.5M248 437.25h3M258.5 437.25h1.5M275 437.25h1.5M284 437.25h1.5M303.5 437.25h1.5M333.5 437.25h1.5M341 437.25h1.5M228.5 438.75h1.5M231.5 438.75h1.5M249.5 438.75h1.5M260 438.75h1.5M276.5 438.75h1.5M285.5 438.75h1.5M305 438.75h1.5M344 438.75h1.5M230 440.25h3M251 440.25h1.5M278 440.25h1.5M287 440.25h1.5M306.5 440.25h1.5M315.5 440.25h1.5M345.5 440.25h1.5M230 441.75h1.5M234.5 441.75h4.5M252.5 441.75h1.5M279.5 441.75h1.5M288.5 441.75h1.5M308 441.75h1.5M317 441.75h1.5M339.5 441.75h1.5M347 441.75h1.5M234.5 443.25h1.5M240.5 443.25h1.5M254 443.25h1.5M263 443.25h1.5M281 443.25h1.5M290 443.25h1.5M318.5 443.25h1.5M341 443.25h1.5M348.5 443.25h1.5M234.5 444.75h1.5M242 444.75h4.5M255.5 444.75h1.5M264.5 444.75h1.5M282.5 444.75h1.5M291.5 444.75h1.5M312.5 444.75h1.5M320 444.75h1.5M342.5 444.75h1.5M351.5 444.75h1.5M234.5 446.25h1.5M243.5 446.25h4.5M257 446.25h1.5M266 446.25h1.5M284 446.25h1.5M293 446.25h1.5M314 446.25h1.5M321.5 446.25h1.5M344 446.25h1.5M353 446.25h1.5M234.5 447.75h1.5M245 447.75h3M258.5 447.75h1.5M285.5 447.75h1.5M294.5 447.75h1.5M315.5 447.75h1.5M347 447.75h1.5M354.5 447.75h1.5M236 449.25h1.5M246.5 449.25h1.5M287 449.25h1.5M297.5 449.25h1.5M317 449.25h1.5M326 449.25h1.5M348.5 449.25h1.5M356 449.25h1.5M230 450.75h1.5M237.5 450.75h1.5M248 450.75h1.5M272 450.75h1.5M288.5 450.75h3M299 450.75h1.5M327.5 450.75h1.5M350 450.75h1.5M228.5 452.25h3M239 452.25h1.5M248 452.25h3M273.5 452.25h1.5M291.5 452.25h1.5M300.5 452.25h1.5M321.5 452.25h1.5M329 452.25h1.5M353 452.25h1.5M360.5 452.25h1.5M228.5 453.75h3M240.5 453.75h1.5M249.5 453.75h1.5M266 453.75h1.5M275 453.75h1.5M293 453.75h1.5M302 453.75h1.5M323 453.75h1.5M332 453.75h1.5M354.5 453.75h1.5M227 455.25h1.5M230 455.25h1.5M240.5 455.25h3M251 455.25h1.5M267.5 455.25h1.5M276.5 455.25h1.5M294.5 455.25h1.5M303.5 455.25h1.5M324.5 455.25h1.5M333.5 455.25h1.5M356 455.25h1.5M242 456.75h3M252.5 456.75h1.5M267.5 456.75h3M278 456.75h3M305 456.75h1.5M326 456.75h1.5M335 456.75h1.5M359 456.75h1.5M227 458.25h1.5M243.5 458.25h3M254 458.25h1.5M269 458.25h3M279.5 458.25h3M299 458.25h1.5M329 458.25h1.5M336.5 458.25h1.5M360.5 458.25h1.5M246.5 459.75h1.5M255.5 459.75h1.5M270.5 459.75h3M281 459.75h3M300.5 459.75h1.5M309.5 459.75h1.5M330.5 459.75h1.5M339.5 459.75h1.5M248 461.25h1.5M257 461.25h3M272 461.25h3M284 461.25h1.5M302 461.25h1.5M311 461.25h1.5M332 461.25h1.5M341 461.25h1.5M249.5 462.75h1.5M260 462.75h1.5M273.5 462.75h3M285.5 462.75h1.5M312.5 462.75h1.5M335 462.75h1.5M342.5 462.75h1.5M228.5 464.25h3M251 464.25h1.5M261.5 464.25h1.5M276.5 464.25h1.5M287 464.25h1.5M306.5 464.25h1.5M315.5 464.25h1.5M336.5 464.25h1.5M228.5 465.75h1.5M252.5 465.75h1.5M263 465.75h7.5M278 465.75h3M288.5 465.75h1.5M308 465.75h1.5M317 465.75h1.5M347 465.75h1.5M228.5 467.25h1.5M239 467.25h3M254 467.25h1.5M264.5 467.25h6M281 467.25h1.5M290 467.25h1.5M309.5 467.25h1.5M318.5 467.25h1.5M341 467.25h1.5M348.5 467.25h1.5M228.5 468.75h1.5M242 468.75h1.5M254 468.75h3M266 468.75h4.5M282.5 468.75h1.5M291.5 468.75h1.5M311 468.75h1.5M321.5 468.75h1.5M351.5 468.75h1.5M228.5 470.25h1.5M243.5 470.25h1.5M255.5 470.25h3M267.5 470.25h3M284 470.25h1.5M294.5 470.25h1.5M314 470.25h1.5M323 470.25h1.5M345.5 470.25h1.5M353 470.25h1.5M228.5 471.75h1.5M245 471.75h3M255.5 471.75h4.5M269 471.75h3M287 471.75h1.5M296 471.75h1.5M315.5 471.75h1.5M324.5 471.75h1.5M347 471.75h1.5M228.5 473.25h1.5M246.5 473.25h3M254 473.25h7.5M272 473.25h1.5M288.5 473.25h1.5M297.5 473.25h1.5M318.5 473.25h1.5M350 473.25h1.5M357.5 473.25h1.5M228.5 474.75h3M239 474.75h1.5M248 474.75h3M255.5 474.75h9M273.5 474.75h1.5M291.5 474.75h1.5M300.5 474.75h1.5M320 474.75h1.5M351.5 474.75h1.5M359 474.75h1.5M230 476.25h1.5M240.5 476.25h1.5M248 476.25h1.5M264.5 476.25h1.5M294.5 476.25h1.5M302 476.25h1.5M324.5 476.25h1.5M329 476.25h1.5M356 476.25h1.5M359 476.25h3M227 477.75h1.5M246.5 477.75h1.5M266 477.75h1.5M275 477.75h1.5M297.5 477.75h1.5M303.5 477.75h1.5M231.5 479.25h1.5M267.5 479.25h3M275 479.25h1.5M300.5 479.25h1.5M306.5 479.25h1.5M227 480.75h1.5M233 480.75h1.5M270.5 480.75h6M308 480.75h1.5M234.5 482.25h1.5M309.5 482.25h1.5M237.5 483.75h1.5M276.5 483.75h4.5M303.5 483.75h1.5M336.5 483.75h1.5M342.5 483.75h1.5M242 485.25h6M251 485.25h1.5M261.5 485.25h3M275 485.25h3M285.5 485.25h1.5M303.5 485.25h3M336.5 485.25h1.5M347 485.25h1.5M228.5 486.75h1.5M240.5 486.75h13.5M263 486.75h1.5M279.5 486.75h1.5M288.5 486.75h1.5M308 486.75h1.5M317 486.75h1.5M339.5 486.75h1.5M347 486.75h1.5M236 488.25h1.5" stroke="#ECA43B"/>
<path d="M263 360.75h1.5M285.5 360.75h1.5M290 360.75h1.5M314 360.75h1.5M318.5 360.75h1.5M345.5 360.75h1.5M350 360.75h1.5M240.5 362.25h1.5M260 362.25h1.5M264.5 362.25h1.5M287 362.25h1.5M291.5 362.25h1.5M315.5 362.25h1.5M320 362.25h1.5M347 362.25h1.5M351.5 362.25h1.5M240.5 363.75h1.5M261.5 363.75h1.5M266 363.75h1.5M288.5 363.75h1.5M293 363.75h1.5M317 363.75h1.5M321.5 363.75h1.5M348.5 363.75h1.5M353 363.75h1.5M263 365.25h1.5M267.5 365.25h1.5M290 365.25h1.5M294.5 365.25h1.5M318.5 365.25h1.5M323 365.25h1.5M350 365.25h1.5M354.5 365.25h1.5M240.5 366.75h1.5M243.5 366.75h1.5M264.5 366.75h1.5M291.5 366.75h1.5M296 366.75h1.5M320 366.75h1.5M324.5 366.75h1.5M351.5 366.75h1.5M356 366.75h1.5M245 368.25h1.5M269 368.25h1.5M293 368.25h1.5M297.5 368.25h1.5M321.5 368.25h1.5M326 368.25h1.5M353 368.25h1.5M357.5 368.25h1.5M242 369.75h1.5M246.5 369.75h1.5M270.5 369.75h1.5M294.5 369.75h1.5M323 369.75h1.5M327.5 369.75h1.5M354.5 369.75h1.5M359 369.75h1.5M243.5 371.25h1.5M267.5 371.25h1.5M272 371.25h1.5M296 371.25h1.5M324.5 371.25h1.5M329 371.25h1.5M356 371.25h1.5M360.5 371.25h1.5M245 372.75h1.5M248 372.75h1.5M269 372.75h1.5M273.5 372.75h1.5M326 372.75h1.5M330.5 372.75h1.5M357.5 372.75h1.5M228.5 374.25h1.5M249.5 374.25h1.5M270.5 374.25h1.5M275 374.25h1.5M302 374.25h1.5M327.5 374.25h1.5M332 374.25h1.5M359 374.25h1.5M230 375.75h1.5M246.5 375.75h1.5M251 375.75h1.5M272 375.75h1.5M276.5 375.75h1.5M299 375.75h1.5M303.5 375.75h1.5M329 375.75h1.5M333.5 375.75h1.5M360.5 375.75h1.5M248 377.25h1.5M252.5 377.25h1.5M273.5 377.25h1.5M278 377.25h1.5M300.5 377.25h1.5M305 377.25h1.5M330.5 377.25h1.5M335 377.25h1.5M231.5 378.75h1.5M249.5 378.75h1.5M275 378.75h1.5M279.5 378.75h1.5M302 378.75h1.5M306.5 378.75h1.5M332 378.75h1.5M336.5 378.75h1.5M228.5 380.25h1.5M231.5 380.25h1.5M303.5 380.25h1.5M308 380.25h1.5M333.5 380.25h1.5M338 380.25h1.5M231.5 381.75h1.5M251 381.75h1.5M255.5 381.75h1.5M305 381.75h1.5M309.5 381.75h1.5M339.5 381.75h1.5M230 383.25h1.5M252.5 383.25h1.5M257 383.25h1.5M306.5 383.25h1.5M311 383.25h1.5M338 383.25h1.5M342.5 383.25h1.5M254 384.75h1.5M258.5 384.75h1.5M279.5 384.75h1.5M284 384.75h1.5M308 384.75h1.5M312.5 384.75h1.5M339.5 384.75h1.5M344 384.75h1.5M255.5 386.25h1.5M260 386.25h1.5M281 386.25h1.5M285.5 386.25h1.5M309.5 386.25h1.5M314 386.25h1.5M341 386.25h1.5M345.5 386.25h1.5M261.5 387.75h1.5M282.5 387.75h1.5M287 387.75h1.5M311 387.75h1.5M315.5 387.75h1.5M342.5 387.75h1.5M347 387.75h1.5M284 389.25h1.5M288.5 389.25h1.5M312.5 389.25h1.5M317 389.25h1.5M344 389.25h1.5M348.5 389.25h1.5M258.5 390.75h1.5M285.5 390.75h1.5M290 390.75h1.5M314 390.75h1.5M318.5 390.75h1.5M345.5 390.75h1.5M350 390.75h1.5M239 392.25h3M260 392.25h1.5M264.5 392.25h1.5M287 392.25h1.5M291.5 392.25h1.5M315.5 392.25h1.5M347 392.25h1.5M351.5 392.25h1.5M242 393.75h1.5M261.5 393.75h1.5M266 393.75h1.5M288.5 393.75h1.5M293 393.75h1.5M317 393.75h1.5M348.5 393.75h1.5M353 393.75h1.5M243.5 395.25h1.5M263 395.25h1.5M267.5 395.25h1.5M290 395.25h1.5M294.5 395.25h1.5M318.5 395.25h1.5M350 395.25h1.5M354.5 395.25h1.5M240.5 396.75h1.5M245 396.75h1.5M264.5 396.75h1.5M269 396.75h1.5M291.5 396.75h1.5M296 396.75h1.5M326 396.75h1.5M351.5 396.75h1.5M356 396.75h1.5M266 398.25h1.5M270.5 398.25h1.5M293 398.25h1.5M297.5 398.25h1.5M327.5 398.25h1.5M353 398.25h1.5M357.5 398.25h1.5M242 399.75h1.5M246.5 399.75h1.5M272 399.75h1.5M294.5 399.75h1.5M299 399.75h1.5M324.5 399.75h1.5M329 399.75h1.5M354.5 399.75h1.5M359 399.75h3M243.5 401.25h1.5M248 401.25h1.5M273.5 401.25h1.5M296 401.25h1.5M300.5 401.25h1.5M326 401.25h1.5M330.5 401.25h1.5M357.5 401.25h1.5M245 402.75h1.5M249.5 402.75h1.5M275 402.75h1.5M297.5 402.75h1.5M302 402.75h1.5M327.5 402.75h1.5M332 402.75h1.5M359 402.75h1.5M251 404.25h1.5M270.5 404.25h1.5M276.5 404.25h1.5M299 404.25h1.5M303.5 404.25h1.5M329 404.25h1.5M333.5 404.25h1.5M360.5 404.25h1.5M230 405.75h1.5M252.5 405.75h1.5M272 405.75h1.5M278 405.75h1.5M300.5 405.75h1.5M305 405.75h1.5M330.5 405.75h1.5M335 405.75h1.5M248 407.25h1.5M273.5 407.25h1.5M279.5 407.25h1.5M302 407.25h1.5M306.5 407.25h1.5M332 407.25h1.5M336.5 407.25h1.5M231.5 408.75h1.5M249.5 408.75h1.5M275 408.75h1.5M281 408.75h1.5M303.5 408.75h1.5M308 408.75h1.5M333.5 408.75h1.5M338 408.75h1.5M228.5 410.25h1.5M233 410.25h1.5M251 410.25h1.5M255.5 410.25h1.5M276.5 410.25h1.5M282.5 410.25h1.5M305 410.25h1.5M309.5 410.25h1.5M335 410.25h1.5M339.5 410.25h1.5M234.5 411.75h1.5M252.5 411.75h1.5M257 411.75h1.5M278 411.75h1.5M306.5 411.75h1.5M311 411.75h1.5M336.5 411.75h1.5M230 413.25h1.5M236 413.25h1.5M258.5 413.25h1.5M279.5 413.25h1.5M308 413.25h1.5M338 413.25h1.5M344 413.25h1.5M231.5 414.75h1.5M236 414.75h1.5M260 414.75h1.5M281 414.75h1.5M309.5 414.75h1.5M345.5 414.75h1.5M234.5 416.25h4.5M261.5 416.25h1.5M282.5 416.25h1.5M311 416.25h1.5M317 416.25h1.5M342.5 416.25h1.5M347 416.25h1.5M237.5 417.75h3M257 417.75h1.5M263 417.75h1.5M284 417.75h1.5M312.5 417.75h1.5M318.5 417.75h1.5M344 417.75h1.5M348.5 417.75h1.5M237.5 419.25h1.5M240.5 419.25h1.5M258.5 419.25h1.5M264.5 419.25h1.5M285.5 419.25h1.5M314 419.25h1.5M320 419.25h1.5M345.5 419.25h1.5M350 419.25h1.5M242 420.75h1.5M260 420.75h1.5M266 420.75h1.5M287 420.75h1.5M315.5 420.75h1.5M321.5 420.75h1.5M347 420.75h1.5M351.5 420.75h1.5M239 422.25h1.5M261.5 422.25h1.5M267.5 422.25h1.5M288.5 422.25h1.5M294.5 422.25h1.5M323 422.25h1.5M348.5 422.25h1.5M353 422.25h1.5M263 423.75h1.5M269 423.75h1.5M290 423.75h1.5M296 423.75h1.5M320 423.75h1.5M324.5 423.75h1.5M350 423.75h1.5M356 423.75h1.5M240.5 425.25h1.5M245 425.25h1.5M264.5 425.25h1.5M270.5 425.25h1.5M291.5 425.25h1.5M297.5 425.25h1.5M321.5 425.25h1.5M326 425.25h1.5M353 425.25h1.5M357.5 425.25h1.5M246.5 426.75h1.5M266 426.75h1.5M272 426.75h1.5M293 426.75h1.5M299 426.75h1.5M323 426.75h1.5M327.5 426.75h1.5M354.5 426.75h1.5M359 426.75h1.5M248 428.25h1.5M267.5 428.25h1.5M273.5 428.25h1.5M294.5 428.25h1.5M300.5 428.25h1.5M324.5 428.25h1.5M356 428.25h1.5M360.5 428.25h1.5M243.5 429.75h1.5M249.5 429.75h1.5M269 429.75h1.5M275 429.75h1.5M296 429.75h1.5M302 429.75h1.5M326 429.75h1.5M332 429.75h1.5M357.5 429.75h1.5M245 431.25h1.5M251 431.25h1.5M270.5 431.25h1.5M276.5 431.25h1.5M297.5 431.25h1.5M303.5 431.25h1.5M327.5 431.25h1.5M333.5 431.25h1.5M359 431.25h1.5M246.5 432.75h1.5M252.5 432.75h1.5M272 432.75h1.5M278 432.75h1.5M299 432.75h1.5M305 432.75h1.5M335 432.75h1.5M230 434.25h1.5M248 434.25h1.5M254 434.25h1.5M273.5 434.25h1.5M279.5 434.25h1.5M306.5 434.25h1.5M332 434.25h1.5M336.5 434.25h1.5M249.5 435.75h1.5M255.5 435.75h1.5M275 435.75h1.5M281 435.75h1.5M303.5 435.75h1.5M333.5 435.75h1.5M338 435.75h1.5M228.5 437.25h1.5M257 437.25h1.5M276.5 437.25h1.5M282.5 437.25h1.5M305 437.25h1.5M311 437.25h1.5M335 437.25h1.5M230 438.75h1.5M251 438.75h1.5M258.5 438.75h1.5M278 438.75h1.5M284 438.75h1.5M306.5 438.75h1.5M312.5 438.75h1.5M336.5 438.75h1.5M342.5 438.75h1.5M252.5 440.25h1.5M260 440.25h1.5M279.5 440.25h1.5M285.5 440.25h1.5M308 440.25h1.5M314 440.25h1.5M338 440.25h1.5M344 440.25h1.5M254 441.75h1.5M261.5 441.75h1.5M281 441.75h1.5M287 441.75h1.5M309.5 441.75h1.5M315.5 441.75h1.5M341 441.75h1.5M345.5 441.75h1.5M236 443.25h4.5M255.5 443.25h1.5M282.5 443.25h1.5M288.5 443.25h1.5M311 443.25h1.5M317 443.25h1.5M342.5 443.25h1.5M347 443.25h1.5M240.5 444.75h1.5M257 444.75h1.5M284 444.75h1.5M290 444.75h1.5M318.5 444.75h1.5M344 444.75h1.5M350 444.75h1.5M236 446.25h1.5M242 446.25h1.5M258.5 446.25h1.5M285.5 446.25h1.5M291.5 446.25h1.5M315.5 446.25h1.5M345.5 446.25h1.5M351.5 446.25h1.5M236 447.75h1.5M243.5 447.75h1.5M260 447.75h1.5M267.5 447.75h1.5M287 447.75h1.5M317 447.75h1.5M323 447.75h1.5M348.5 447.75h1.5M353 447.75h1.5M237.5 449.25h1.5M245 449.25h1.5M261.5 449.25h1.5M269 449.25h1.5M288.5 449.25h1.5M296 449.25h1.5M318.5 449.25h1.5M324.5 449.25h1.5M350 449.25h1.5M354.5 449.25h1.5M239 450.75h1.5M246.5 450.75h1.5M263 450.75h1.5M270.5 450.75h1.5M297.5 450.75h1.5M320 450.75h1.5M326 450.75h1.5M351.5 450.75h1.5M357.5 450.75h1.5M240.5 452.25h1.5M264.5 452.25h1.5M272 452.25h1.5M293 452.25h1.5M299 452.25h1.5M323 452.25h1.5M327.5 452.25h1.5M354.5 452.25h1.5M359 452.25h1.5M242 453.75h1.5M273.5 453.75h1.5M294.5 453.75h1.5M300.5 453.75h1.5M324.5 453.75h1.5M330.5 453.75h1.5M356 453.75h1.5M360.5 453.75h1.5M228.5 455.25h1.5M243.5 455.25h1.5M275 455.25h1.5M296 455.25h1.5M302 455.25h1.5M326 455.25h1.5M332 455.25h1.5M357.5 455.25h1.5M227 456.75h1.5M230 456.75h1.5M245 456.75h1.5M276.5 456.75h1.5M297.5 456.75h1.5M327.5 456.75h1.5M333.5 456.75h1.5M360.5 456.75h1.5M246.5 458.25h1.5M272 458.25h1.5M278 458.25h1.5M306.5 458.25h1.5M330.5 458.25h1.5M335 458.25h1.5M248 459.75h1.5M273.5 459.75h1.5M302 459.75h1.5M308 459.75h1.5M332 459.75h1.5M338 459.75h1.5M249.5 461.25h1.5M275 461.25h1.5M282.5 461.25h1.5M303.5 461.25h1.5M309.5 461.25h1.5M333.5 461.25h1.5M339.5 461.25h1.5M228.5 462.75h3M251 462.75h1.5M258.5 462.75h1.5M276.5 462.75h1.5M284 462.75h1.5M305 462.75h1.5M311 462.75h1.5M336.5 462.75h1.5M341 462.75h1.5M252.5 464.25h1.5M260 464.25h1.5M278 464.25h1.5M285.5 464.25h1.5M308 464.25h1.5M314 464.25h1.5M338 464.25h1.5M344 464.25h1.5M254 465.75h1.5M261.5 465.75h1.5M287 465.75h1.5M309.5 465.75h1.5M315.5 465.75h1.5M339.5 465.75h1.5M345.5 465.75h1.5M255.5 467.25h1.5M263 467.25h1.5M282.5 467.25h1.5M288.5 467.25h1.5M311 467.25h1.5M317 467.25h1.5M342.5 467.25h1.5M347 467.25h1.5M239 468.75h3M257 468.75h1.5M264.5 468.75h1.5M284 468.75h1.5M312.5 468.75h1.5M320 468.75h1.5M344 468.75h1.5M350 468.75h1.5M242 470.25h1.5M258.5 470.25h1.5M266 470.25h1.5M285.5 470.25h1.5M293 470.25h1.5M315.5 470.25h1.5M321.5 470.25h1.5M347 470.25h1.5M351.5 470.25h1.5M243.5 471.75h1.5M260 471.75h1.5M267.5 471.75h1.5M288.5 471.75h1.5M294.5 471.75h1.5M317 471.75h1.5M323 471.75h1.5M348.5 471.75h1.5M354.5 471.75h1.5M239 473.25h1.5M245 473.25h1.5M261.5 473.25h1.5M270.5 473.25h1.5M290 473.25h1.5M296 473.25h1.5M320 473.25h1.5M326 473.25h1.5M351.5 473.25h1.5M356 473.25h1.5M240.5 474.75h1.5M246.5 474.75h1.5M264.5 474.75h1.5M272 474.75h1.5M299 474.75h1.5M321.5 474.75h1.5M327.5 474.75h1.5M353 474.75h1.5M357.5 474.75h1.5M228.5 476.25h1.5M242 476.25h1.5M266 476.25h1.5M273.5 476.25h1.5M296 476.25h1.5M300.5 476.25h1.5M326 476.25h3M357.5 476.25h1.5M230 477.75h1.5M267.5 477.75h1.5M299 477.75h4.5M227 479.25h1.5M270.5 479.25h1.5M302 479.25h4.5M302 480.75h1.5M306.5 480.75h1.5M233 482.25h1.5M303.5 482.25h1.5M236 483.75h1.5M305 483.75h1.5M311 483.75h1.5M338 483.75h1.5M341 483.75h1.5M237.5 485.25h4.5M252.5 485.25h1.5M260 485.25h1.5M278 485.25h1.5M284 485.25h1.5M306.5 485.25h1.5M314 485.25h1.5M345.5 485.25h1.5M230 486.75h1.5M239 486.75h1.5M254 486.75h1.5M261.5 486.75h1.5M281 486.75h1.5M287 486.75h1.5M309.5 486.75h1.5M315.5 486.75h1.5M341 486.75h1.5M345.5 486.75h1.5" stroke="#ECAE38"/>
<path d="M260 360.75h3M287 360.75h3M315.5 360.75h3M347 360.75h3M261.5 362.25h3M288.5 362.25h3M317 362.25h3M348.5 362.25h3M263 363.75h3M290 363.75h3M318.5 363.75h3M350 363.75h3M240.5 365.25h3M264.5 365.25h3M291.5 365.25h3M320 365.25h3M351.5 365.25h3M242 366.75h1.5M266 366.75h3M293 366.75h3M321.5 366.75h3M353 366.75h3M242 368.25h3M266 368.25h3M294.5 368.25h3M323 368.25h3M354.5 368.25h3M243.5 369.75h3M267.5 369.75h3M296 369.75h3M324.5 369.75h3M356 369.75h3M245 371.25h3M269 371.25h3M297.5 371.25h3M326 371.25h3M357.5 371.25h3M246.5 372.75h1.5M270.5 372.75h3M297.5 372.75h4.5M327.5 372.75h3M359 372.75h3M246.5 374.25h3M272 374.25h3M299 374.25h3M329 374.25h3M360.5 374.25h1.5M228.5 375.75h1.5M248 375.75h3M273.5 375.75h3M300.5 375.75h3M330.5 375.75h3M230 377.25h1.5M249.5 377.25h3M275 377.25h3M302 377.25h3M332 377.25h3M228.5 378.75h1.5M251 378.75h3M276.5 378.75h3M303.5 378.75h3M333.5 378.75h3M251 380.25h4.5M276.5 380.25h4.5M305 380.25h3M335 380.25h3M230 381.75h1.5M252.5 381.75h3M278 381.75h4.5M306.5 381.75h3M336.5 381.75h3M254 383.25h3M279.5 383.25h4.5M308 383.25h3M339.5 383.25h3M255.5 384.75h3M281 384.75h3M309.5 384.75h3M341 384.75h3M257 386.25h3M282.5 386.25h3M311 386.25h3M342.5 386.25h3M257 387.75h4.5M284 387.75h3M312.5 387.75h3M344 387.75h3M258.5 389.25h4.5M285.5 389.25h3M314 389.25h3M345.5 389.25h3M260 390.75h4.5M287 390.75h3M315.5 390.75h3M347 390.75h3M261.5 392.25h3M288.5 392.25h3M317 392.25h4.5M348.5 392.25h3M240.5 393.75h1.5M263 393.75h3M290 393.75h3M318.5 393.75h4.5M350 393.75h3M240.5 395.25h3M264.5 395.25h3M291.5 395.25h3M320 395.25h4.5M351.5 395.25h3M242 396.75h3M266 396.75h3M293 396.75h3M321.5 396.75h4.5M353 396.75h3M242 398.25h4.5M267.5 398.25h3M294.5 398.25h3M323 398.25h4.5M354.5 398.25h3M243.5 399.75h3M267.5 399.75h4.5M296 399.75h3M326 399.75h3M356 399.75h3M245 401.25h3M269 401.25h4.5M297.5 401.25h3M327.5 401.25h3M359 401.25h3M246.5 402.75h3M270.5 402.75h4.5M299 402.75h3M329 402.75h3M360.5 402.75h1.5M228.5 404.25h1.5M246.5 404.25h4.5M272 404.25h4.5M300.5 404.25h3M330.5 404.25h3M248 405.75h4.5M273.5 405.75h4.5M302 405.75h3M332 405.75h3M249.5 407.25h4.5M275 407.25h4.5M303.5 407.25h3M333.5 407.25h3M228.5 408.75h1.5M251 408.75h4.5M276.5 408.75h4.5M305 408.75h3M335 408.75h3M252.5 410.25h3M278 410.25h4.5M306.5 410.25h3M336.5 410.25h3M230 411.75h1.5M233 411.75h1.5M254 411.75h3M279.5 411.75h4.5M308 411.75h3M338 411.75h4.5M231.5 413.25h4.5M254 413.25h4.5M281 413.25h4.5M309.5 413.25h4.5M339.5 413.25h4.5M233 414.75h3M255.5 414.75h4.5M282.5 414.75h4.5M311 414.75h4.5M341 414.75h4.5M257 416.25h4.5M284 416.25h4.5M312.5 416.25h4.5M344 416.25h3M258.5 417.75h1.5M261.5 417.75h1.5M285.5 417.75h4.5M314 417.75h4.5M345.5 417.75h3M239 419.25h1.5M260 419.25h1.5M263 419.25h1.5M287 419.25h4.5M315.5 419.25h4.5M347 419.25h3M239 420.75h3M261.5 420.75h1.5M264.5 420.75h1.5M288.5 420.75h4.5M317 420.75h4.5M348.5 420.75h3M240.5 422.25h3M263 422.25h1.5M266 422.25h1.5M290 422.25h4.5M318.5 422.25h4.5M350 422.25h3M240.5 423.75h1.5M243.5 423.75h1.5M264.5 423.75h1.5M267.5 423.75h1.5M291.5 423.75h4.5M321.5 423.75h3M351.5 423.75h4.5M242 425.25h1.5M266 425.25h1.5M269 425.25h1.5M293 425.25h4.5M323 425.25h3M354.5 425.25h3M242 426.75h1.5M245 426.75h1.5M267.5 426.75h1.5M270.5 426.75h1.5M294.5 426.75h4.5M324.5 426.75h3M356 426.75h3M243.5 428.25h1.5M246.5 428.25h1.5M269 428.25h1.5M272 428.25h1.5M296 428.25h4.5M326 428.25h4.5M357.5 428.25h3M245 429.75h1.5M248 429.75h1.5M270.5 429.75h1.5M273.5 429.75h1.5M297.5 429.75h4.5M327.5 429.75h4.5M359 429.75h3M228.5 431.25h1.5M246.5 431.25h1.5M249.5 431.25h1.5M272 431.25h1.5M275 431.25h1.5M299 431.25h4.5M329 431.25h4.5M360.5 431.25h1.5M228.5 432.75h1.5M248 432.75h1.5M251 432.75h1.5M273.5 432.75h1.5M276.5 432.75h1.5M300.5 432.75h4.5M330.5 432.75h4.5M249.5 434.25h1.5M252.5 434.25h1.5M275 434.25h1.5M278 434.25h1.5M302 434.25h4.5M333.5 434.25h3M228.5 435.75h3M254 435.75h1.5M276.5 435.75h1.5M279.5 435.75h1.5M305 435.75h4.5M335 435.75h3M230 437.25h1.5M251 437.25h1.5M255.5 437.25h1.5M278 437.25h1.5M281 437.25h1.5M306.5 437.25h4.5M336.5 437.25h4.5M252.5 438.75h1.5M257 438.75h1.5M279.5 438.75h1.5M282.5 438.75h1.5M308 438.75h4.5M338 438.75h4.5M254 440.25h1.5M258.5 440.25h1.5M281 440.25h1.5M284 440.25h1.5M309.5 440.25h4.5M339.5 440.25h4.5M255.5 441.75h1.5M260 441.75h1.5M282.5 441.75h1.5M285.5 441.75h1.5M311 441.75h4.5M342.5 441.75h3M257 443.25h1.5M261.5 443.25h1.5M284 443.25h1.5M287 443.25h1.5M312.5 443.25h4.5M344 443.25h3M236 444.75h1.5M239 444.75h1.5M258.5 444.75h1.5M263 444.75h1.5M285.5 444.75h1.5M288.5 444.75h1.5M314 444.75h4.5M345.5 444.75h4.5M240.5 446.25h1.5M260 446.25h1.5M264.5 446.25h1.5M287 446.25h1.5M290 446.25h1.5M317 446.25h4.5M347 446.25h4.5M237.5 447.75h1.5M242 447.75h1.5M261.5 447.75h1.5M266 447.75h1.5M288.5 447.75h6M318.5 447.75h4.5M350 447.75h3M239 449.25h1.5M243.5 449.25h1.5M263 449.25h1.5M267.5 449.25h1.5M290 449.25h6M320 449.25h4.5M351.5 449.25h3M240.5 450.75h1.5M245 450.75h1.5M264.5 450.75h1.5M269 450.75h1.5M291.5 450.75h6M321.5 450.75h4.5M353 450.75h4.5M242 452.25h1.5M246.5 452.25h1.5M266 452.25h1.5M270.5 452.25h1.5M294.5 452.25h1.5M297.5 452.25h1.5M324.5 452.25h3M356 452.25h3M243.5 453.75h1.5M248 453.75h1.5M267.5 453.75h1.5M272 453.75h1.5M296 453.75h1.5M299 453.75h1.5M326 453.75h4.5M357.5 453.75h3M245 455.25h1.5M249.5 455.25h1.5M269 455.25h1.5M273.5 455.25h1.5M297.5 455.25h4.5M327.5 455.25h4.5M359 455.25h3M228.5 456.75h1.5M246.5 456.75h1.5M251 456.75h1.5M270.5 456.75h3M275 456.75h1.5M299 456.75h6M329 456.75h4.5M230 458.25h1.5M248 458.25h1.5M252.5 458.25h1.5M273.5 458.25h1.5M276.5 458.25h1.5M300.5 458.25h6M332 458.25h3M230 459.75h1.5M249.5 459.75h1.5M254 459.75h1.5M275 459.75h1.5M278 459.75h3M303.5 459.75h4.5M333.5 459.75h4.5M228.5 461.25h3M251 461.25h1.5M255.5 461.25h1.5M276.5 461.25h1.5M281 461.25h1.5M305 461.25h4.5M335 461.25h4.5M252.5 462.75h1.5M257 462.75h1.5M278 462.75h1.5M282.5 462.75h1.5M306.5 462.75h4.5M338 462.75h3M254 464.25h1.5M258.5 464.25h1.5M279.5 464.25h1.5M284 464.25h1.5M309.5 464.25h4.5M339.5 464.25h4.5M255.5 465.75h1.5M260 465.75h1.5M281 465.75h3M285.5 465.75h1.5M311 465.75h4.5M341 465.75h4.5M257 467.25h1.5M261.5 467.25h1.5M284 467.25h1.5M287 467.25h1.5M312.5 467.25h4.5M344 467.25h3M258.5 468.75h1.5M263 468.75h1.5M285.5 468.75h1.5M290 468.75h1.5M314 468.75h6M345.5 468.75h4.5M239 470.25h3M260 470.25h1.5M264.5 470.25h1.5M287 470.25h1.5M291.5 470.25h1.5M317 470.25h4.5M348.5 470.25h3M239 471.75h1.5M242 471.75h1.5M261.5 471.75h1.5M266 471.75h1.5M290 471.75h1.5M293 471.75h1.5M318.5 471.75h4.5M350 471.75h4.5M263 473.25h1.5M269 473.25h1.5M291.5 473.25h1.5M294.5 473.25h1.5M321.5 473.25h4.5M353 473.25h3M245 474.75h1.5M266 474.75h1.5M270.5 474.75h1.5M293 474.75h6M323 474.75h4.5M354.5 474.75h3M243.5 476.25h4.5M267.5 476.25h1.5M272 476.25h1.5M297.5 476.25h3M228.5 477.75h1.5M269 477.75h1.5M273.5 477.75h1.5M230 479.25h1.5M272 479.25h3M231.5 480.75h1.5M303.5 480.75h3M305 482.25h1.5M308 482.25h1.5M228.5 483.75h1.5M234.5 483.75h1.5M309.5 483.75h1.5M339.5 483.75h1.5M228.5 485.25h1.5M254 485.25h1.5M258.5 485.25h1.5M279.5 485.25h4.5M312.5 485.25h1.5M338 485.25h1.5M344 485.25h1.5M231.5 486.75h1.5M237.5 486.75h1.5M255.5 486.75h1.5M260 486.75h1.5M282.5 486.75h4.5M311 486.75h4.5M342.5 486.75h3" stroke="#ECBE3A"/>
<path d="M228.5 377.25h1.5M230 378.75h1.5M230 380.25h1.5M228.5 405.75h1.5M228.5 407.25h3M230 408.75h1.5M230 410.25h3M231.5 411.75h1.5M260 417.75h1.5M261.5 419.25h1.5M263 420.75h1.5M264.5 422.25h1.5M242 423.75h1.5M266 423.75h1.5M243.5 425.25h1.5M267.5 425.25h1.5M243.5 426.75h1.5M269 426.75h1.5M245 428.25h1.5M270.5 428.25h1.5M246.5 429.75h1.5M272 429.75h1.5M248 431.25h1.5M273.5 431.25h1.5M249.5 432.75h1.5M275 432.75h1.5M228.5 434.25h1.5M251 434.25h1.5M276.5 434.25h1.5M251 435.75h3M278 435.75h1.5M252.5 437.25h3M279.5 437.25h1.5M254 438.75h3M281 438.75h1.5M255.5 440.25h3M282.5 440.25h1.5M257 441.75h3M284 441.75h1.5M258.5 443.25h3M285.5 443.25h1.5M237.5 444.75h1.5M260 444.75h3M287 444.75h1.5M237.5 446.25h3M261.5 446.25h3M288.5 446.25h1.5M239 447.75h3M263 447.75h3M240.5 449.25h3M264.5 449.25h3M242 450.75h3M266 450.75h3M243.5 452.25h3M267.5 452.25h3M296 452.25h1.5M245 453.75h3M269 453.75h3M297.5 453.75h1.5M246.5 455.25h3M270.5 455.25h3M248 456.75h3M273.5 456.75h1.5M228.5 458.25h1.5M249.5 458.25h3M275 458.25h1.5M228.5 459.75h1.5M251 459.75h3M276.5 459.75h1.5M252.5 461.25h3M278 461.25h3M254 462.75h3M279.5 462.75h3M255.5 464.25h3M281 464.25h3M257 465.75h3M284 465.75h1.5M258.5 467.25h3M285.5 467.25h1.5M260 468.75h3M287 468.75h3M261.5 470.25h3M288.5 470.25h3M240.5 471.75h1.5M263 471.75h3M291.5 471.75h1.5M240.5 473.25h4.5M264.5 473.25h4.5M293 473.25h1.5M242 474.75h3M267.5 474.75h3M269 476.25h3M270.5 477.75h3M228.5 479.25h1.5M228.5 482.25h1.5M231.5 482.25h1.5M306.5 482.25h1.5M233 483.75h1.5M306.5 483.75h3M230 485.25h1.5M236 485.25h1.5M255.5 485.25h3M308 485.25h4.5M339.5 485.25h4.5M233 486.75h4.5M257 486.75h3" stroke="#ECCF3D"/>
<path d="M228.5 480.75h3M230 482.25h1.5M230 483.75h3M231.5 485.25h4.5" stroke="#ECE040"/>
</g></g>
<rect x="89" y="360" width="273" height="260" fill="none" stroke="#000" stroke-width="1.6"/>
<path d="M89.8 619.5h7.7M361.2 619.5h-7.7M123.125 360.8v3.8M123.125 619.2v-3.8M89.8 587.5h3.8M361.2 587.5h-3.8M157.25 360.8v7.7M157.25 619.2v-7.7M89.8 555h7.7M361.2 555h-7.7M191.375 360.8v3.8M191.375 619.2v-3.8M89.8 522.5h3.8M361.2 522.5h-3.8M225.5 360.8v7.7M225.5 619.2v-7.7M89.8 490h7.7M361.2 490h-7.7M259.625 360.8v3.8M259.625 619.2v-3.8M89.8 457.5h3.8M361.2 457.5h-3.8M293.75 360.8v7.7M293.75 619.2v-7.7M89.8 425h7.7M361.2 425h-7.7M327.875 360.8v3.8M327.875 619.2v-3.8M89.8 392.5h3.8M361.2 392.5h-3.8M89.8 360.5h7.7M361.2 360.5h-7.7" stroke="#fff" stroke-width="1.3" fill="none"/>
<text style="fill:#fff" font-size="18.45" transform="translate(114.8,427.3) scale(0.995584,1)">Anti-parallel</text>
<text style="fill:#fff" font-size="18.45" transform="translate(263.105,427.3) scale(1.01265,1)">Parallel</text>
<text style="fill:#fff" font-size="18.45" transform="translate(131.605,560.6) scale(1.01265,1)">Parallel</text>
<text style="fill:#fff" font-size="18.45" transform="translate(245.9,560.6) scale(1.00183,1)">Anti-parallel</text>
<text class="s" font-size="31.5" transform="translate(71.9617,652.9) scale(1.04019,1)">−</text>
<text class="s" font-size="31.5" transform="translate(90.3526,652.9) scale(0.99,1)">2</text>
<text class="s" font-size="31.5" transform="translate(384.662,652.9) scale(1.04019,1)">−</text>
<text class="s" font-size="31.5" transform="translate(401.753,652.9) scale(0.99,1)">2</text>
<text class="s" font-size="31.5" transform="translate(45.6306,629.4) scale(1.03,1)">−2</text>
<text class="s" font-size="31.5" transform="translate(140.212,652.9) scale(1.04019,1)">−</text>
<text class="s" font-size="31.5" transform="translate(158.343,652.9) scale(0.99,1)">1</text>
<text class="s" font-size="31.5" transform="translate(452.662,652.9) scale(1.04019,1)">−</text>
<text class="s" font-size="31.5" transform="translate(469.493,652.9) scale(0.99,1)">1</text>
<text class="s" font-size="31.5" transform="translate(43.955,564.4) scale(1.03,1)">−1</text>
<text class="s" font-size="31.5" transform="translate(217.289,652.9) scale(1.03,1)">0</text>
<text class="s" font-size="31.5" transform="translate(529.789,652.9) scale(1.03,1)">0</text>
<text class="s" font-size="31.5" transform="translate(63.4753,499.4) scale(1.03,1)">0</text>
<text class="s" font-size="31.5" transform="translate(285.052,652.9) scale(1.03,1)">1</text>
<text class="s" font-size="31.5" transform="translate(597.302,652.9) scale(1.03,1)">1</text>
<text class="s" font-size="31.5" transform="translate(62.1242,434.4) scale(1.03,1)">1</text>
<text class="s" font-size="31.5" transform="translate(354.113,652.9) scale(1.03,1)">2</text>
<text class="s" font-size="31.5" transform="translate(666.113,652.9) scale(1.03,1)">2</text>
<text class="s" font-size="31.5" transform="translate(64.1242,369.4) scale(1.03,1)">2</text>
<g transform="translate(191.3,684.6)"><text class="s i" font-size="31.5" transform="translate(-2.86957,0) scale(1.01219,1)">U</text><text class="s" font-size="21.5" transform="translate(18.5089,7.9) scale(0.919897,1)">g1</text><text class="s" font-size="32" transform="translate(46.9,0) scale(0.959821,1)">/</text><text class="s i" font-size="30.5" transform="translate(61.9769,0) scale(1.08449,1)">t</text></g>
<g transform="translate(503.9,684.6)"><text class="s i" font-size="31.5" transform="translate(-2.86957,0) scale(1.01219,1)">U</text><text class="s" font-size="21.5" transform="translate(18.5089,7.9) scale(0.919897,1)">g1</text><text class="s" font-size="32" transform="translate(46.9,0) scale(0.959821,1)">/</text><text class="s i" font-size="30.5" transform="translate(61.9769,0) scale(1.08449,1)">t</text></g>
<g transform="translate(31.5,509.2) scale(1.03,0.985) rotate(-90)"><text class="s i" font-size="31.5" transform="translate(-2.86957,0) scale(1.01219,1)">U</text><text class="s" font-size="21.5" transform="translate(18.5089,7.9) scale(0.919897,1)">g2</text><text class="s" font-size="32" transform="translate(46.9,0) scale(0.959821,1)">/</text><text class="s i" font-size="30.5" transform="translate(61.9769,0) scale(1.08449,1)">t</text></g>
<text font-size="29.5" transform="translate(362.473,353.7) scale(1.08866,1)">(c)</text>
<rect x="421" y="341.5" width="176" height="11.3" fill="url(#cbC)" stroke="#111" stroke-width="1"/>
<line x1="509" y1="342" x2="509" y2="349" stroke="#111" stroke-width="1"/>
<text class="s" font-size="18.8" transform="translate(411.437,333.2) scale(0.918253,1)">−1</text>
<text class="s" font-size="18.8" transform="translate(504.441,333.2) scale(0.97,1)">0</text>
<text class="s" font-size="18.8" transform="translate(591.567,333.2) scale(0.97,1)">1</text>
<text class="s i" font-size="24.1" transform="translate(610.6,347) scale(1.01273,1)">P</text>
<rect x="402" y="360" width="272" height="260" fill="#fff"/>
<path d="M674 360 L529.6 360 L528.3 360 L528.3 368 L529.6 368 L529.6 376 L528.3 376 L528.3 384 L529.6 384 L529.6 392 L528.3 392 L528.3 400 L529.6 400 L529.6 408 L528.3 408 L528.3 416 L529.6 416 L529.6 424 L528.3 424 L528.3 432 L529.6 432 L529.6 440 L528.3 440 L528.3 448 L529.6 448 L529.6 456 L528.3 456 L528.3 464 L529.6 464 L529.6 472 L528.3 472 L528.3 480 L529.6 480 L529.6 486 Q529 496.5 541 497.5 L541 498.3 L549 498.3 L549 497 L557 497 L557 498.3 L565 498.3 L565 497 L573 497 L573 498.3 L581 498.3 L581 497 L589 497 L589 498.3 L597 498.3 L597 497 L605 497 L605 498.3 L613 498.3 L613 497 L621 497 L621 498.3 L629 498.3 L629 497 L637 497 L637 498.3 L645 498.3 L645 497 L653 497 L653 498.3 L661 498.3 L661 497 L669 497 L669 498.3 L674 498.3 Z" fill="#4159A8"/>
<path d="M402 620 L402 487.5 L406.6 484 L407.6 484 L410 491.6 L422.9 484 L423.9 484 L426.3 491.6 L439.3 484 L440.3 484 L442.7 491.6 L452.6 484 L453.6 484 L456 491.6 L465.9 484 L466.9 484 L469.3 491.6 L478.1 484 L479.1 484 L481.5 491.6 L489.4 484 L490.4 484 L492.8 491.6 L499.6 484 L500.6 484 L503 491.6 L508.8 484 L509.8 484 L512.2 491.6 L517 484 L518 484 L520.4 491.6 L524.1 484 L525.1 484 L527.5 491.6 L530 489 L532 497 L544 497.5 L544.4 500.7 L544.4 501.8 L540.5 506.7 L544.4 508.2 L544.4 509.3 L540 514 L544.4 515.6 L544.4 516.7 L539.3 522 L544.4 523.7 L544.4 524.8 L538.5 532 L544.4 534 L544.4 535.1 L537.5 543 L544.4 544.7 L544.4 545.8 L537.4 553.6 L544.4 555.9 L544.4 557 L536.2 566.8 L544.4 569.2 L544.4 570.3 L536.8 580.6 L544.4 582.9 L544.4 584 L535 595.5 L544.4 597.8 L544.4 598.9 L533.9 611.5 L544.4 613.9 L544.4 615 L540.5 620 Z" fill="#EE2926"/>
<path d="M529.2 486 Q529.6 496.2 540 497.3" fill="none" stroke="#fff" stroke-width="2.2" stroke-opacity="0.75" filter="url(#bl)"/>
<circle cx="533.5" cy="492" r="2.6" fill="#fff" fill-opacity="0.45" filter="url(#bl)"/>
<rect x="402" y="360" width="272" height="260" fill="none" stroke="#000" stroke-width="1.6"/>
<path d="M402 360v7.7M402 620v-7.7M402 620h7.7M674 620h-7.7M436 360v3.8M436 620v-3.8M402 587.5h3.8M674 587.5h-3.8M470 360v7.7M470 620v-7.7M402 555h7.7M674 555h-7.7M504 360v3.8M504 620v-3.8M402 522.5h3.8M674 522.5h-3.8M538 360v7.7M538 620v-7.7M402 490h7.7M674 490h-7.7M572 360v3.8M572 620v-3.8M402 457.5h3.8M674 457.5h-3.8M606 360v7.7M606 620v-7.7M402 425h7.7M674 425h-7.7M640 360v3.8M640 620v-3.8M402 392.5h3.8M674 392.5h-3.8M674 360v7.7M674 620v-7.7M402 360h7.7M674 360h-7.7" stroke="#000" stroke-width="1.3" fill="none"/>
</svg></body></html>
